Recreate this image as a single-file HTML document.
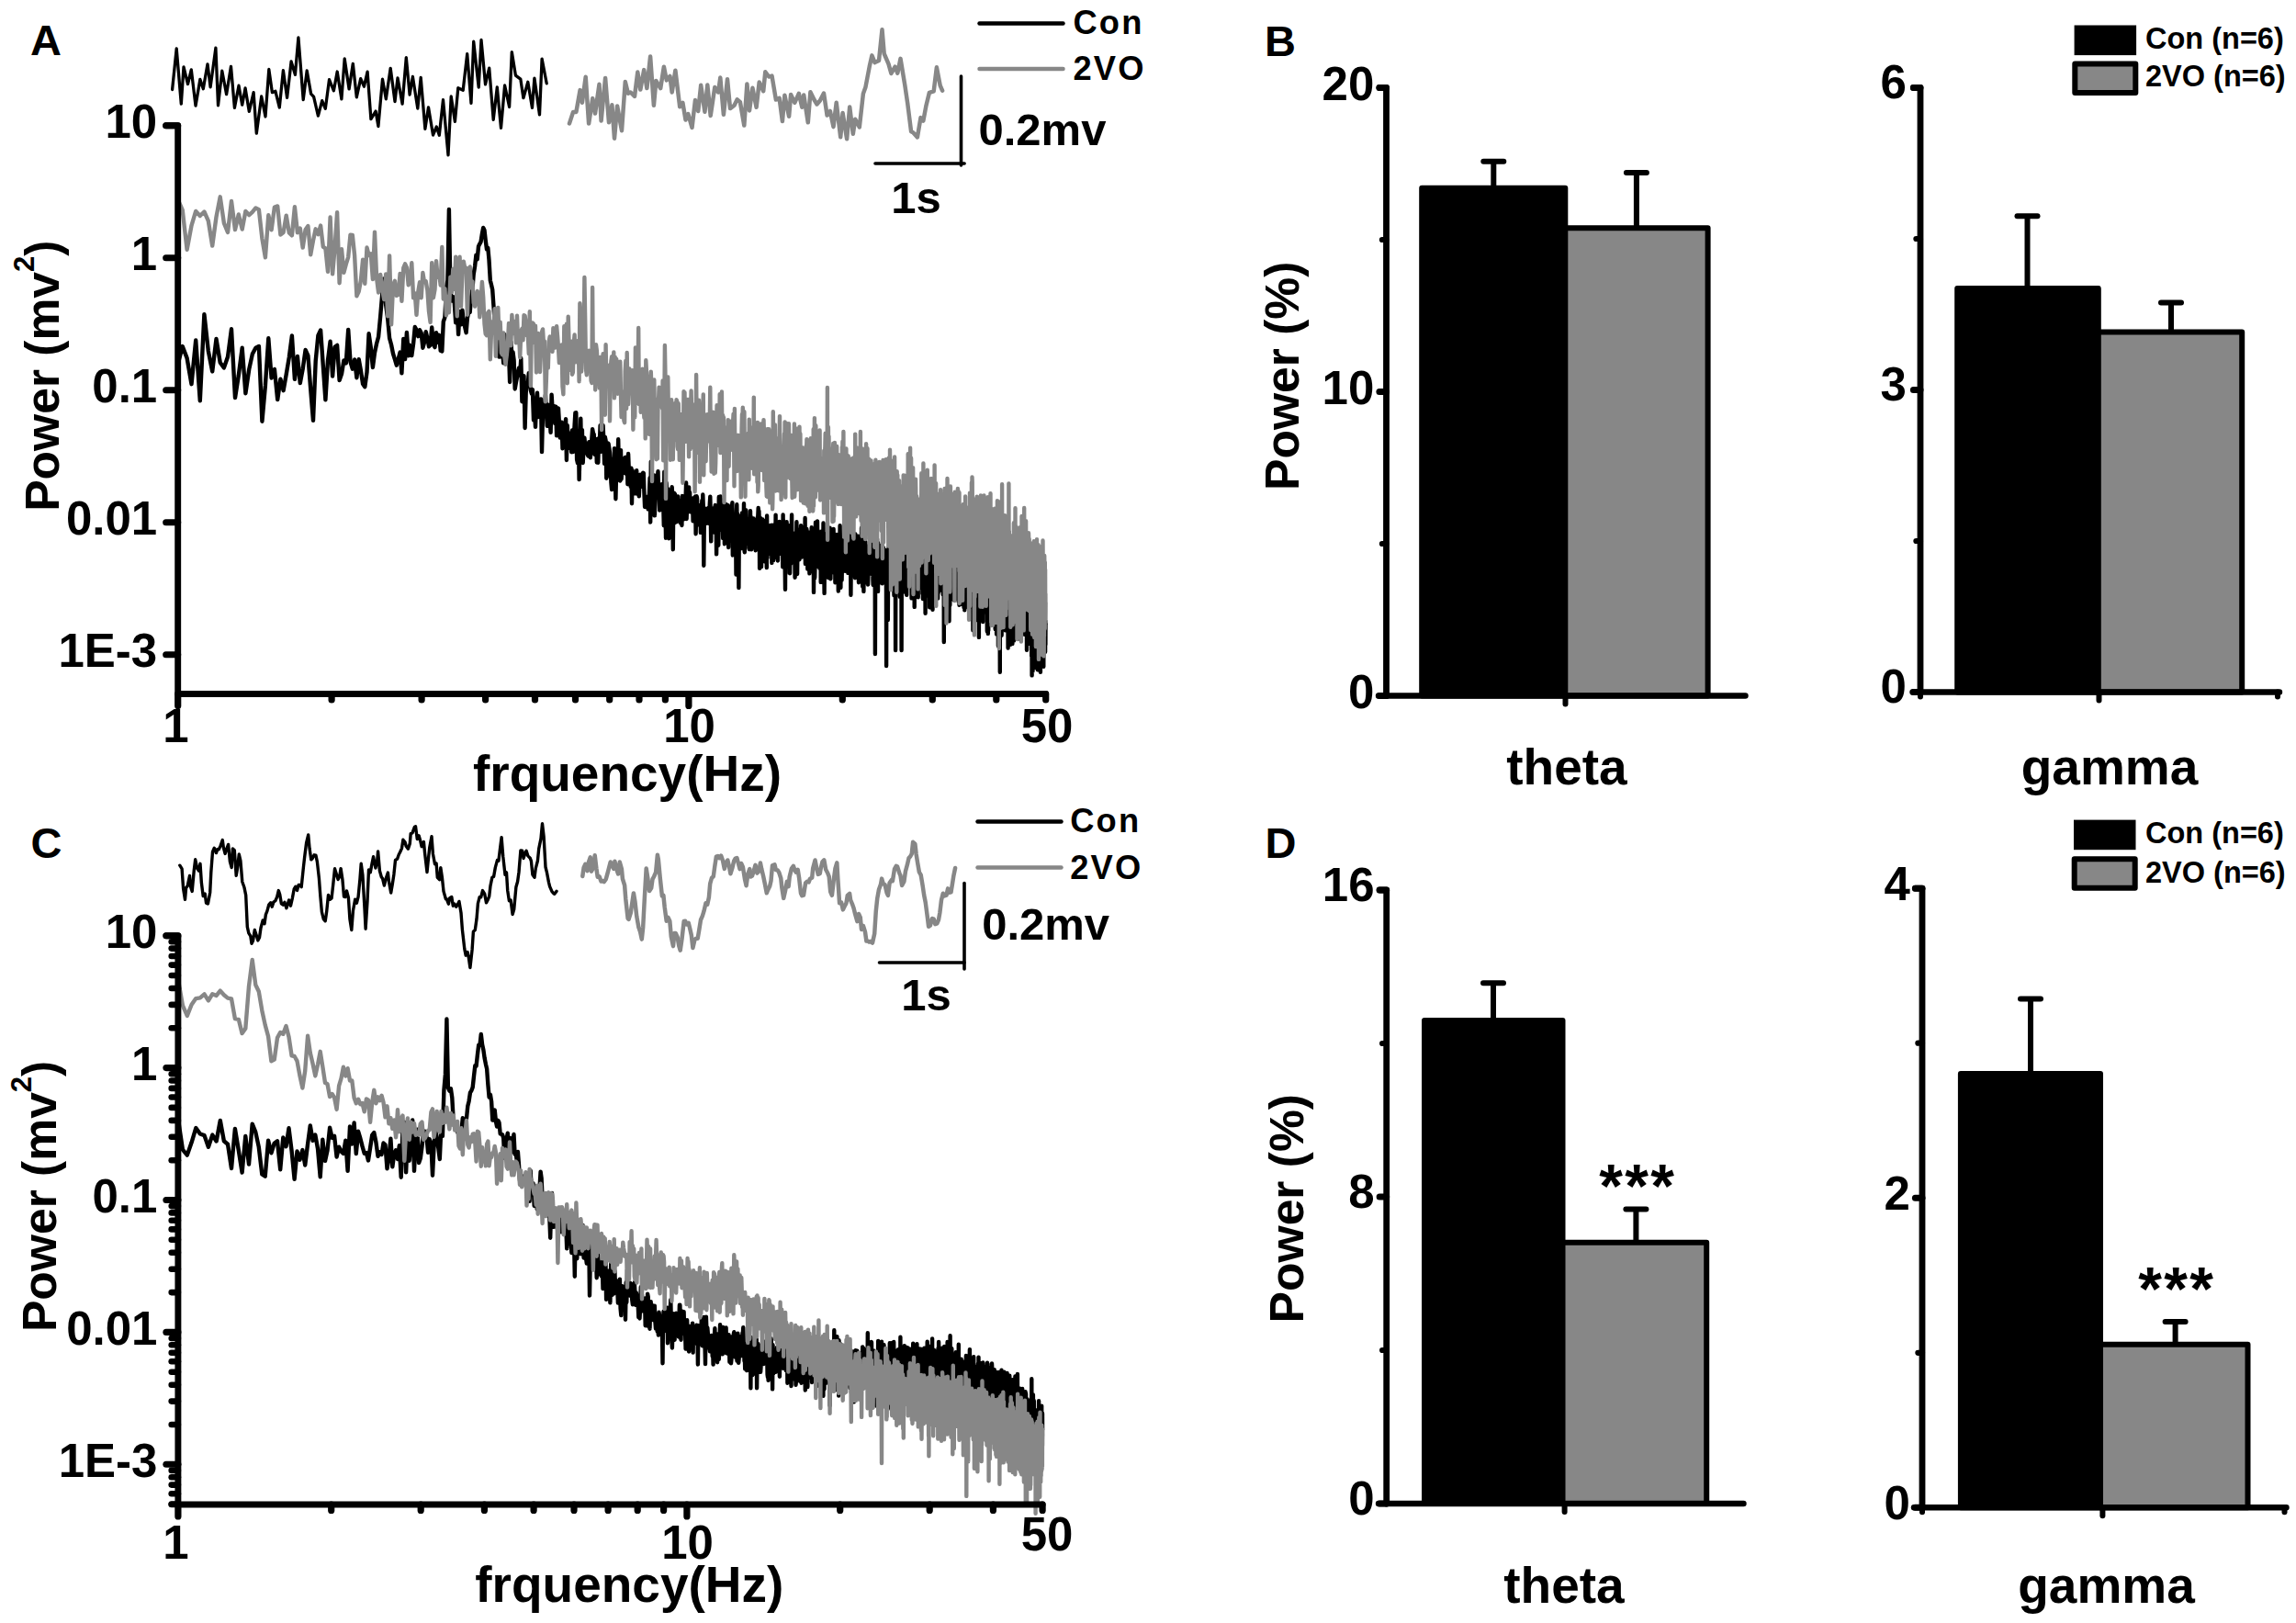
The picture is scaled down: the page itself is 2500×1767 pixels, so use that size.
<!DOCTYPE html>
<html lang="en"><head><meta charset="utf-8"><title>Figure</title>
<style>html,body{margin:0;padding:0;background:#fff}svg{display:block}</style></head>
<body>
<svg width="2500" height="1767" viewBox="0 0 2500 1767" font-family='"Liberation Sans", Arial, Helvetica, sans-serif' font-weight="bold" fill="#000">
<rect width="2500" height="1767" fill="#fff"/>
<text x="33.0" y="60.0" font-size="47" text-anchor="start" >A</text>
<path d="M193.7 396.5 L198.7 377.1 L203.6 389.9 L208.5 418.2 L213.2 370.4 L217.8 436.3 L222.4 342.2 L226.8 382.1 L231.2 404.4 L235.5 369.0 L239.7 394.7 L243.9 400.4 L248.0 388.5 L252.0 358.3 L256.0 433.1 L259.8 408.7 L263.7 378.8 L267.4 428.3 L271.2 402.1 L274.8 385.6 L278.4 378.7 L281.9 377.0 L285.4 458.7 L288.9 419.7 L292.3 368.3 L295.6 411.6 L298.9 401.9 L302.2 435.1 L305.4 412.7 L308.6 425.2 L311.7 407.6 L314.8 389.1 L317.9 365.5 L320.9 412.9 L323.9 388.0 L326.8 417.0 L329.7 401.6 L332.6 381.0 L335.4 387.1 L338.2 423.5 L341.0 457.8 L343.7 393.0 L346.4 365.1 L349.1 359.5 L351.8 397.9 L354.4 435.3 L357.0 392.2 L359.6 371.8 L362.1 409.5 L364.6 377.8 L367.1 375.9 L369.6 414.1 L372.0 407.1 L374.4 392.4 L376.8 395.4 L379.2 359.0 L381.5 393.9 L383.8 401.7 L386.1 391.5 L388.4 411.2 L390.7 391.2 L392.9 403.5 L395.1 418.1 L397.3 421.3 L399.5 405.3 L401.6 363.3 L403.8 378.2 L405.9 400.0 L408.0 384.0 L410.1 374.0 L412.1 366.6 L414.2 344.1 L416.2 320.4 L418.2 303.4 L420.2 332.3 L422.2 347.2 L424.1 368.1 L426.1 375.5 L428.0 385.0 L429.9 391.2 L431.8 397.7 L433.7 390.8 L435.6 383.6 L437.4 406.3 L439.3 368.9 L441.1 391.0 L442.9 361.9 L444.7 387.3 L446.5 375.8 L448.3 387.1 L450.1 374.2 L451.8 356.0 L453.5 359.0 L455.3 366.2 L457.0 359.2 L458.7 362.5 L460.4 378.7 L462.0 373.0 L463.7 361.2 L465.4 368.2 L467.0 377.3 L468.6 375.7 L470.2 356.5 L471.9 374.9 L473.5 378.1 L475.0 362.3 L476.6 372.7 L478.2 364.8 L479.7 381.8 L481.3 382.4 L482.8 350.2 L484.4 345.5 L485.9 313.9 L487.4 305.5 L488.9 228.0 L490.4 313.8 L491.9 327.5 L493.3 323.2 L494.8 329.5 L496.2 351.4 L497.7 333.3 L499.1 364.1 L500.6 339.1 L502.0 353.3 L503.4 337.6 L504.8 350.4 L506.2 355.9 L507.6 362.2 L508.9 346.4 L510.3 339.5 L511.7 339.9 L513.0 324.0 L514.4 315.3 L515.7 298.6 L517.1 290.0 L518.4 277.7 L519.7 282.3 L521.0 268.2 L522.3 265.6 L523.6 263.2 L524.9 254.6 L526.2 247.9 L527.5 250.7 L528.7 261.5 L530.0 271.4 L531.3 269.9 L532.5 283.0 L533.8 305.2 L535.0 310.0 L536.2 315.2 L537.5 333.6 L538.7 351.0 L539.9 364.2 L541.1 366.3 L542.3 371.7 L543.5 388.6 L544.7 388.4 L545.9 379.6 L547.0 378.7 L548.2 395.3 L549.4 364.3 L550.5 387.4 L551.7 385.6 L552.8 389.1 L554.0 381.5 L555.1 416.0 L556.3 372.0 L557.4 386.6 L558.5 383.4 L559.6 392.0 L560.7 423.5 L561.9 416.3 L563.0 410.8 L564.1 404.6 L565.1 400.4 L566.2 408.6 L567.3 390.0 L568.4 437.2 L569.5 416.3 L570.5 409.2 L571.6 466.0 L572.7 427.3 L573.7 417.0 L574.8 418.3 L575.8 406.3 L576.8 414.5 L577.9 425.1 L578.9 428.8 L579.9 424.2 L581.0 457.5 L582.0 447.1 L583.0 464.8 L584.0 437.5 L585.0 427.8 L586.0 454.1 L587.0 443.5 L588.0 448.2 L589.0 434.4 L590.0 492.1 L591.0 451.3 L591.9 447.5 L592.9 452.0 L593.9 430.0 L594.9 447.7 L595.8 463.8 L596.8 440.8 L597.7 449.7 L598.7 457.3 L599.6 470.9 L600.6 429.6 L601.5 444.1 L602.4 453.3 L603.4 442.1 L604.3 461.1 L605.2 442.6 L606.1 474.4 L607.1 444.2 L608.0 444.7 L608.9 459.9 L609.8 476.6 L610.7 470.0 L611.6 459.8 L612.5 488.4 L613.4 485.7 L614.3 481.0 L615.2 465.2 L616.1 456.2 L616.9 501.0 L617.8 463.3 L618.7 487.8 L619.6 471.5 L620.4 472.5 L621.3 473.7 L622.2 492.2 L623.0 468.5 L623.9 492.0 L624.7 478.4 L625.6 463.0 L626.4 449.4 L627.3 449.3 L628.1 500.2 L629.0 504.3 L629.8 469.8 L630.6 522.1 L631.4 493.2 L632.3 455.7 L633.1 498.7 L633.9 468.1 L634.7 504.0 L635.6 485.2 L636.4 476.8 L637.2 485.4 L638.0 487.4 L638.8 491.4 L639.6 494.6 L640.4 496.5 L641.2 481.3 L642.0 481.2 L642.8 498.2 L643.6 489.0 L644.4 476.8 L645.1 467.2 L645.9 471.5 L646.7 472.9 L647.5 494.9 L648.2 479.1 L649.0 478.2 L649.8 503.5 L650.6 490.5 L651.3 503.8 L652.1 476.9 L652.8 485.3 L653.6 463.1 L654.3 491.9 L655.1 473.4 L655.9 471.9 L656.6 463.1 L657.3 478.6 L658.1 504.9 L658.8 475.6 L659.6 479.7 L660.3 520.7 L661.0 518.3 L661.8 482.5 L662.5 482.9 L663.2 487.0 L664.0 493.0 L664.7 504.6 L665.4 525.2 L666.1 533.1 L666.8 499.6 L667.5 507.2 L668.3 527.1 L669.0 488.1 L669.7 509.4 L670.4 543.2 L671.1 513.4 L671.8 522.6 L672.5 505.4 L673.2 478.2 L673.9 507.9 L674.6 514.5 L675.3 523.5 L676.0 490.1 L676.6 521.5 L677.3 511.7 L678.0 515.1 L678.7 510.4 L679.4 507.8 L680.1 498.9 L680.7 498.0 L681.4 515.7 L682.1 504.3 L682.7 497.5 L683.4 527.2 L684.1 494.0 L684.8 511.3 L685.4 516.5 L686.1 516.1 L686.7 529.9 L687.4 509.8 L688.0 548.2 L688.7 512.1 L689.4 525.3 L690.0 515.4 L690.7 533.3 L691.3 537.3 L691.9 523.8 L692.6 521.1 L693.2 512.2 L693.9 537.8 L694.5 523.6 L695.2 529.6 L695.8 540.3 L696.4 526.8 L697.1 516.6 L697.7 527.8 L698.3 525.3 L698.9 528.2 L699.6 529.7 L700.2 514.8 L700.8 515.2 L701.4 535.4 L702.1 552.0 L702.7 545.7 L703.3 543.8 L703.9 548.9 L704.5 540.9 L705.1 548.6 L705.7 554.4 L706.3 548.9 L706.9 538.8 L707.6 520.3 L708.2 568.6 L708.8 502.6 L709.4 513.7 L710.0 527.2 L710.6 555.5 L711.2 552.0 L711.7 560.3 L712.3 517.4 L712.9 561.4 L713.5 528.3 L714.1 540.6 L714.7 532.1 L715.3 520.0 L715.9 520.0 L716.5 513.2 L717.0 534.6 L717.6 542.8 L718.2 555.6 L718.8 545.8 L719.4 546.6 L719.9 554.7 L720.5 527.3 L721.1 528.6 L721.6 546.9 L722.2 548.0 L722.8 572.2 L723.3 513.6 L723.9 543.1 L724.5 551.7 L725.0 585.8 L725.6 525.6 L726.2 535.4 L726.7 540.9 L727.3 532.5 L727.8 540.9 L728.4 586.3 L728.9 556.9 L729.5 548.5 L730.0 570.5 L730.6 540.8 L731.1 535.6 L731.7 530.2 L732.2 547.6 L732.8 598.3 L733.3 544.2 L733.9 536.6 L734.4 569.4 L735.0 537.9 L735.5 563.8 L736.0 559.5 L736.6 568.2 L737.1 543.9 L737.6 554.0 L738.2 540.5 L738.7 553.2 L739.2 564.6 L739.8 550.9 L740.3 562.9 L740.8 569.3 L741.3 569.6 L741.9 544.7 L742.4 572.0 L742.9 540.0 L743.4 558.5 L744.0 552.2 L744.5 565.4 L745.0 547.4 L745.5 558.8 L746.0 552.2 L746.5 544.9 L747.1 525.5 L747.6 565.0 L748.1 549.9 L748.6 549.6 L749.1 546.3 L749.6 538.8 L750.1 530.4 L750.6 556.0 L751.1 536.1 L751.6 557.4 L752.1 542.9 L752.6 547.3 L753.1 548.5 L753.6 553.4 L754.1 546.4 L754.6 567.4 L755.1 542.3 L755.6 557.3 L756.1 556.6 L756.6 542.1 L757.1 540.5 L757.6 581.2 L758.1 560.0 L758.6 540.3 L759.1 542.3 L759.6 566.1 L760.0 569.3 L760.5 551.1 L761.0 565.0 L761.5 571.5 L762.0 559.9 L762.5 549.9 L762.9 579.9 L763.4 575.1 L763.9 553.2 L764.4 545.0 L764.9 574.7 L765.3 538.5 L765.8 552.2 L766.3 615.8 L766.8 568.0 L767.2 554.5 L767.7 563.2 L768.2 555.8 L768.6 561.0 L769.1 553.7 L769.6 569.8 L770.1 554.6 L770.5 560.2 L771.0 560.4 L771.4 569.7 L771.9 552.7 L772.4 556.7 L772.8 548.6 L773.3 540.6 L773.8 562.5 L774.2 589.4 L774.7 558.2 L775.1 570.1 L775.6 557.5 L776.0 565.7 L776.5 553.5 L777.0 570.2 L777.4 579.6 L777.9 563.3 L778.3 554.4 L778.8 549.9 L779.2 575.1 L779.7 566.0 L780.1 603.4 L780.6 574.5 L781.0 592.3 L781.4 560.2 L781.9 574.4 L782.3 593.8 L782.8 540.9 L783.2 555.7 L783.7 577.1 L784.1 546.4 L784.5 540.5 L785.0 574.4 L785.4 556.0 L785.9 552.6 L786.3 559.2 L786.7 565.9 L787.2 586.1 L787.6 544.6 L788.0 565.7 L788.5 550.8 L788.9 592.3 L789.3 571.7 L789.8 568.9 L790.2 562.0 L790.6 549.0 L791.0 567.6 L791.5 585.6 L791.9 567.0 L792.3 582.2 L792.8 550.1 L793.2 596.0 L793.6 570.2 L794.0 559.0 L794.4 554.1 L794.9 574.2 L795.3 558.8 L795.7 568.2 L796.1 573.7 L796.5 570.1 L797.0 551.7 L797.4 547.1 L797.8 604.5 L798.2 570.8 L798.6 585.1 L799.0 583.4 L799.5 579.6 L799.9 574.9 L800.3 567.2 L800.7 570.4 L801.1 571.0 L801.5 625.6 L801.9 557.3 L802.3 549.3 L802.7 578.0 L803.1 559.5 L803.6 575.3 L804.0 574.4 L804.4 639.9 L804.8 577.8 L805.2 561.7 L805.6 583.4 L806.0 569.9 L806.4 578.4 L806.8 591.9 L807.2 591.3 L807.6 597.1 L808.0 558.5 L808.4 579.0 L808.8 566.2 L809.2 570.6 L809.6 573.9 L810.0 548.3 L810.4 598.3 L810.8 601.2 L811.1 578.4 L811.5 572.5 L811.9 557.0 L812.3 555.4 L812.7 591.6 L813.1 591.6 L813.5 575.5 L813.9 578.4 L814.3 590.3 L814.7 579.4 L815.1 565.0 L815.4 596.4 L815.8 598.1 L816.2 569.2 L816.6 571.5 L817.0 556.2 L817.4 581.4 L817.7 562.7 L818.1 598.2 L818.5 593.7 L818.9 573.2 L819.3 578.5 L819.7 575.8 L820.0 571.3 L820.4 564.4 L820.8 572.5 L821.2 581.9 L821.5 584.3 L821.9 580.9 L822.3 592.2 L822.7 599.3 L823.1 573.1 L823.4 569.2 L823.8 571.5 L824.2 588.6 L824.5 568.3 L824.9 563.2 L825.3 561.9 L825.7 552.9 L826.0 596.7 L826.4 556.2 L826.8 568.8 L827.1 618.8 L827.5 579.3 L827.9 598.1 L828.2 564.2 L828.6 590.3 L829.0 617.3 L829.3 582.5 L829.7 597.6 L830.1 605.7 L830.4 565.4 L830.8 602.2 L831.2 596.0 L831.5 591.7 L831.9 582.5 L832.2 594.6 L832.6 567.3 L833.0 611.6 L833.3 597.5 L833.7 602.3 L834.0 583.1 L834.4 571.3 L834.8 618.1 L835.1 561.4 L835.5 607.5 L835.8 580.0 L836.2 594.1 L836.5 579.8 L836.9 583.8 L837.2 573.6 L837.6 574.9 L837.9 602.9 L838.3 599.4 L838.7 595.7 L839.0 572.0 L839.4 582.3 L839.7 597.5 L840.1 591.0 L840.4 612.9 L840.7 571.6 L841.1 572.5 L841.4 596.1 L841.8 606.9 L842.1 610.3 L842.5 580.6 L842.8 574.3 L843.2 607.3 L843.5 573.7 L843.9 570.7 L844.2 606.8 L844.6 560.6 L844.9 606.2 L845.2 597.9 L845.6 606.8 L845.9 594.6 L846.3 594.4 L846.6 596.9 L846.9 610.5 L847.3 575.5 L847.6 583.8 L848.0 569.3 L848.3 595.5 L848.6 568.0 L849.0 590.6 L849.3 582.6 L849.6 579.6 L850.0 583.6 L850.3 603.0 L850.6 596.7 L851.0 599.6 L851.3 576.5 L851.6 574.8 L852.0 601.2 L852.3 617.4 L852.6 560.4 L853.0 604.0 L853.3 567.3 L853.6 578.4 L854.0 575.0 L854.3 590.7 L854.6 607.6 L855.0 641.7 L855.3 586.2 L855.6 624.5 L855.9 579.6 L856.3 589.1 L856.6 568.3 L856.9 610.1 L857.2 571.1 L857.6 576.0 L857.9 571.8 L858.2 589.9 L858.5 616.7 L858.9 582.0 L859.2 590.8 L859.5 600.5 L859.8 598.3 L860.1 624.3 L860.5 592.9 L860.8 587.8 L861.1 614.0 L861.4 612.2 L861.7 584.1 L862.1 560.5 L862.4 610.3 L862.7 609.2 L863.0 592.1 L863.3 607.9 L863.7 604.3 L864.0 584.9 L864.3 606.1 L864.6 602.9 L864.9 588.0 L865.2 586.0 L865.6 628.7 L865.9 599.8 L866.2 580.2 L866.5 591.1 L866.8 614.9 L867.1 601.4 L867.4 568.3 L867.7 594.7 L868.1 625.0 L868.4 597.3 L868.7 593.9 L869.0 576.9 L869.3 593.6 L869.6 591.4 L869.9 581.9 L870.2 578.9 L870.5 609.2 L870.8 577.1 L871.1 602.0 L871.4 576.2 L871.8 597.3 L872.1 572.3 L872.4 587.4 L872.7 603.4 L873.0 589.4 L873.3 606.5 L873.6 573.9 L873.9 590.6 L874.2 578.6 L874.5 606.0 L874.8 600.8 L875.1 579.8 L875.4 593.7 L875.7 600.6 L876.0 606.5 L876.3 597.7 L876.6 564.0 L876.9 613.9 L877.2 581.4 L877.5 604.2 L877.8 596.8 L878.1 614.3 L878.4 576.0 L878.7 595.9 L879.0 586.2 L879.3 619.6 L879.6 612.5 L879.9 613.5 L880.2 597.9 L880.5 581.5 L880.8 595.2 L881.1 604.5 L881.4 624.4 L881.7 579.5 L882.0 622.6 L882.2 579.7 L882.5 615.1 L882.8 587.4 L883.1 597.3 L883.4 597.8 L883.7 574.2 L884.0 586.1 L884.3 594.1 L884.6 595.2 L884.9 610.9 L885.2 586.9 L885.5 609.0 L885.7 587.1 L886.0 644.9 L886.3 599.4 L886.6 595.8 L886.9 611.0 L887.2 629.4 L887.5 613.3 L887.8 606.9 L888.0 568.8 L888.3 589.0 L888.6 602.6 L888.9 617.0 L889.2 585.3 L889.5 613.5 L889.8 568.8 L890.0 567.5 L890.3 601.6 L890.6 612.7 L890.9 578.1 L891.2 609.3 L891.5 598.3 L891.7 581.4 L892.0 590.1 L892.3 618.5 L892.6 599.4 L892.9 616.6 L893.1 597.0 L893.4 584.6 L893.7 633.9 L894.0 581.2 L894.3 609.0 L894.5 623.5 L894.8 578.4 L895.1 625.9 L895.4 606.5 L895.7 592.2 L895.9 620.2 L896.2 598.6 L896.5 569.5 L896.8 615.0 L897.0 619.8 L897.3 618.5 L897.6 645.9 L897.9 608.2 L898.1 599.0 L898.4 594.8 L898.7 612.8 L899.0 609.6 L899.2 622.6 L899.5 590.4 L899.8 599.2 L900.0 600.6 L900.3 605.4 L900.6 580.6 L900.9 582.0 L901.1 597.0 L901.4 624.2 L901.7 596.0 L901.9 629.0 L902.2 599.2 L902.5 614.8 L902.8 622.9 L903.0 586.5 L903.3 612.2 L903.6 574.7 L903.8 579.0 L904.1 604.9 L904.4 630.3 L904.6 608.5 L904.9 603.3 L905.2 611.3 L905.4 587.4 L905.7 622.4 L906.0 611.4 L906.2 592.4 L906.5 579.0 L906.8 603.2 L907.0 589.3 L907.3 599.3 L907.6 575.9 L907.8 588.5 L908.1 616.4 L908.4 603.8 L908.6 624.0 L908.9 582.4 L909.1 590.9 L909.4 634.2 L909.7 594.5 L909.9 628.0 L910.2 587.0 L910.4 594.1 L910.7 597.8 L911.0 582.0 L911.2 599.2 L911.5 594.8 L911.7 600.7 L912.0 621.8 L912.3 618.9 L912.5 604.0 L912.8 643.5 L913.0 610.8 L913.3 634.9 L913.6 605.7 L913.8 605.2 L914.1 612.1 L914.3 598.2 L914.6 572.2 L914.8 585.8 L915.1 609.5 L915.4 639.7 L915.6 608.5 L915.9 587.4 L916.1 616.9 L916.4 600.9 L916.6 631.8 L916.9 615.8 L917.1 611.2 L917.4 608.3 L917.6 607.3 L917.9 613.6 L918.2 590.5 L918.4 610.7 L918.7 607.8 L918.9 612.8 L919.2 598.3 L919.4 617.1 L919.7 597.8 L919.9 577.2 L920.2 621.8 L920.4 596.3 L920.7 616.0 L920.9 612.3 L921.2 592.2 L921.4 615.7 L921.7 600.4 L921.9 590.2 L922.2 594.7 L922.4 596.1 L922.7 614.5 L922.9 613.4 L923.2 610.7 L923.4 623.9 L923.7 591.6 L923.9 616.3 L924.1 593.0 L924.4 617.9 L924.6 609.7 L924.9 570.6 L925.1 617.9 L925.4 585.4 L925.6 610.3 L925.9 591.7 L926.1 605.4 L926.4 647.8 L926.6 624.7 L926.8 600.5 L927.1 617.9 L927.3 612.3 L927.6 589.1 L927.8 622.5 L928.1 588.9 L928.3 625.6 L928.5 607.8 L928.8 590.7 L929.0 613.6 L929.3 600.6 L929.5 606.4 L929.8 619.2 L930.0 588.3 L930.2 588.8 L930.5 607.0 L930.7 610.4 L931.0 629.2 L931.2 605.2 L931.4 581.4 L931.7 610.9 L931.9 621.6 L932.1 619.3 L932.4 607.6 L932.6 618.5 L932.9 604.6 L933.1 602.0 L933.3 626.8 L933.6 601.7 L933.8 606.3 L934.0 624.9 L934.3 583.7 L934.5 603.4 L934.8 625.7 L935.0 634.3 L935.2 610.6 L935.5 604.0 L935.7 626.3 L935.9 611.2 L936.2 587.5 L936.4 616.6 L936.6 598.2 L936.9 586.9 L937.1 598.2 L937.3 613.4 L937.6 599.3 L937.8 616.4 L938.0 574.8 L938.3 597.0 L938.5 613.7 L938.7 603.8 L939.0 589.2 L939.2 638.5 L939.4 589.6 L939.7 585.9 L939.9 608.5 L940.1 598.2 L940.4 643.9 L940.6 598.8 L940.8 608.0 L941.0 602.5 L941.3 605.0 L941.5 591.1 L941.7 602.6 L942.0 620.5 L942.2 596.1 L942.4 589.9 L942.7 625.1 L942.9 621.0 L943.1 615.9 L943.3 606.0 L943.6 634.5 L943.8 618.7 L944.0 616.5 L944.2 615.1 L944.5 607.2 L944.7 595.0 L944.9 603.2 L945.1 636.5 L945.4 626.9 L945.6 600.9 L945.8 602.6 L946.1 617.5 L946.3 601.6 L946.5 625.1 L946.7 604.5 L947.0 620.4 L947.2 598.3 L947.4 596.4 L947.6 596.4 L947.8 609.0 L948.1 621.6 L948.3 598.5 L948.5 608.4 L948.7 614.4 L949.0 613.0 L949.2 589.5 L949.4 595.5 L949.6 592.7 L949.9 625.4 L950.1 621.5 L950.3 591.4 L950.5 632.0 L950.7 637.0 L951.0 614.1 L951.2 633.7 L951.4 604.7 L951.6 610.4 L951.8 613.0 L952.1 589.2 L952.3 606.8 L952.5 603.1 L952.7 616.9 L952.9 712.0 L953.2 597.5 L953.4 598.2 L953.6 603.8 L953.8 640.4 L954.0 598.6 L954.2 643.2 L954.5 613.0 L954.7 617.7 L954.9 594.7 L955.1 586.7 L955.3 624.8 L955.5 631.2 L955.8 609.4 L956.0 643.9 L956.2 591.2 L956.4 603.7 L956.6 597.9 L956.8 606.0 L957.1 627.6 L957.3 603.2 L957.5 605.9 L957.7 630.5 L957.9 618.5 L958.1 627.4 L958.3 593.9 L958.6 603.2 L958.8 606.0 L959.0 634.4 L959.2 618.9 L959.4 622.4 L959.6 605.4 L959.8 595.0 L960.1 617.0 L960.3 606.6 L960.5 614.5 L960.7 635.2 L960.9 632.7 L961.1 608.4 L961.3 633.1 L961.5 610.4 L961.7 596.1 L962.0 596.4 L962.2 609.3 L962.4 614.8 L962.6 626.6 L962.8 608.9 L963.0 629.6 L963.2 612.9 L963.4 609.4 L963.6 618.0 L963.8 625.5 L964.1 631.4 L964.3 599.2 L964.5 614.7 L964.7 603.7 L964.9 623.3 L965.1 725.0 L965.3 610.6 L965.5 607.7 L965.7 639.0 L965.9 634.2 L966.1 635.5 L966.3 613.0 L966.6 606.5 L966.8 675.1 L967.0 639.3 L967.2 620.3 L967.4 608.4 L967.6 595.7 L967.8 623.2 L968.0 608.2 L968.2 585.9 L968.4 637.0 L968.6 626.6 L968.8 604.6 L969.0 606.9 L969.2 610.2 L969.4 593.1 L969.6 637.6 L969.8 611.0 L970.0 610.5 L970.2 590.0 L970.5 638.5 L970.7 616.7 L970.9 612.8 L971.1 595.6 L971.3 589.2 L971.5 593.1 L971.7 618.3 L971.9 609.9 L972.1 629.0 L972.3 623.5 L972.5 625.2 L972.7 601.2 L972.9 591.0 L973.1 625.8 L973.3 629.0 L973.5 648.3 L973.7 627.4 L973.9 608.4 L974.1 590.9 L974.3 585.0 L974.5 601.3 L974.7 604.3 L974.9 627.1 L975.1 708.0 L975.3 614.1 L975.5 606.0 L975.7 605.6 L975.9 634.6 L976.1 602.7 L976.3 603.6 L976.5 609.5 L976.7 639.2 L976.9 631.4 L977.1 619.6 L977.3 612.6 L977.5 629.3 L977.7 630.3 L977.9 616.5 L978.1 600.5 L978.3 600.1 L978.5 626.6 L978.7 603.6 L978.9 598.5 L979.0 608.1 L979.2 600.1 L979.4 610.0 L979.6 623.4 L979.8 649.7 L980.0 594.0 L980.2 631.2 L980.4 624.7 L980.6 614.0 L980.8 599.6 L981.0 609.5 L981.2 597.9 L981.4 625.7 L981.6 708.0 L981.8 629.6 L982.0 598.1 L982.2 611.2 L982.4 587.0 L982.6 643.0 L982.8 623.4 L982.9 634.7 L983.1 608.6 L983.3 630.3 L983.5 644.7 L983.7 629.4 L983.9 626.3 L984.1 609.5 L984.3 615.3 L984.5 622.9 L984.7 599.0 L984.9 629.1 L985.1 621.4 L985.3 620.2 L985.4 624.3 L985.6 604.0 L985.8 617.2 L986.0 641.2 L986.2 613.9 L986.4 620.9 L986.6 606.1 L986.8 600.2 L987.0 644.3 L987.2 647.9 L987.4 607.0 L987.5 599.1 L987.7 628.4 L987.9 605.3 L988.1 607.4 L988.3 624.3 L988.5 619.2 L988.7 604.3 L988.9 604.7 L989.1 618.8 L989.2 631.1 L989.4 615.1 L989.6 603.8 L989.8 598.4 L990.0 638.1 L990.2 628.8 L990.4 633.6 L990.6 627.7 L990.7 611.3 L990.9 630.0 L991.1 606.5 L991.3 586.6 L991.5 619.7 L991.7 600.3 L991.9 613.5 L992.1 608.8 L992.2 625.3 L992.4 620.3 L992.6 651.4 L992.8 613.0 L993.0 598.6 L993.2 613.9 L993.4 618.5 L993.5 604.9 L993.7 623.3 L993.9 642.6 L994.1 605.0 L994.3 617.4 L994.5 604.0 L994.6 619.9 L994.8 628.7 L995.0 632.7 L995.2 640.4 L995.4 621.6 L995.6 620.9 L995.7 660.9 L995.9 628.3 L996.1 630.4 L996.3 603.0 L996.5 610.7 L996.7 612.2 L996.8 611.2 L997.0 619.4 L997.2 590.7 L997.4 612.4 L997.6 628.5 L997.8 608.4 L997.9 608.2 L998.1 614.9 L998.3 629.5 L998.5 600.2 L998.7 630.2 L998.8 599.4 L999.0 630.9 L999.2 613.7 L999.4 612.3 L999.6 600.4 L999.7 650.3 L999.9 587.7 L1000.1 600.7 L1000.3 620.2 L1000.5 596.0 L1000.6 616.7 L1000.8 599.8 L1001.0 630.6 L1001.2 624.6 L1001.4 639.7 L1001.5 617.9 L1001.7 638.3 L1001.9 615.9 L1002.1 615.4 L1002.3 625.2 L1002.4 600.6 L1002.6 598.9 L1002.8 609.9 L1003.0 601.8 L1003.1 605.8 L1003.3 637.8 L1003.5 622.2 L1003.7 599.1 L1003.9 594.3 L1004.0 603.6 L1004.2 611.9 L1004.4 646.4 L1004.6 623.5 L1004.7 601.2 L1004.9 652.1 L1005.1 622.1 L1005.3 634.2 L1005.4 624.0 L1005.6 611.8 L1005.8 635.5 L1006.0 599.8 L1006.2 623.0 L1006.3 643.3 L1006.5 602.3 L1006.7 600.0 L1006.9 601.1 L1007.0 642.0 L1007.2 625.7 L1007.4 627.2 L1007.6 667.8 L1007.7 614.3 L1007.9 625.3 L1008.1 640.6 L1008.2 611.3 L1008.4 604.4 L1008.6 625.8 L1008.8 644.0 L1008.9 611.4 L1009.1 607.9 L1009.3 640.9 L1009.5 634.5 L1009.6 646.7 L1009.8 609.4 L1010.0 648.6 L1010.2 616.0 L1010.3 611.1 L1010.5 633.6 L1010.7 618.6 L1010.8 604.5 L1011.0 633.8 L1011.2 612.8 L1011.4 611.3 L1011.5 608.0 L1011.7 611.9 L1011.9 600.9 L1012.0 618.0 L1012.2 661.3 L1012.4 632.3 L1012.6 618.5 L1012.7 616.3 L1012.9 634.9 L1013.1 627.4 L1013.2 618.4 L1013.4 622.2 L1013.6 634.0 L1013.8 650.2 L1013.9 622.8 L1014.1 630.5 L1014.3 624.9 L1014.4 629.4 L1014.6 605.3 L1014.8 613.8 L1014.9 659.3 L1015.1 618.2 L1015.3 619.9 L1015.5 663.8 L1015.6 617.8 L1015.8 616.2 L1016.0 612.0 L1016.1 623.9 L1016.3 639.3 L1016.5 613.3 L1016.6 605.0 L1016.8 601.6 L1017.0 636.9 L1017.1 601.8 L1017.3 617.1 L1017.5 632.1 L1017.6 629.9 L1017.8 630.8 L1018.0 622.2 L1018.1 622.7 L1018.3 629.9 L1018.5 654.0 L1018.6 596.3 L1018.8 639.7 L1019.0 608.1 L1019.1 599.9 L1019.3 642.9 L1019.5 648.5 L1019.6 608.8 L1019.8 628.0 L1020.0 646.8 L1020.1 623.8 L1020.3 581.8 L1020.5 621.6 L1020.6 621.4 L1020.8 623.1 L1021.0 618.8 L1021.1 651.6 L1021.3 638.0 L1021.5 616.9 L1021.6 645.8 L1021.8 622.8 L1022.0 636.3 L1022.1 642.0 L1022.3 621.6 L1022.4 617.8 L1022.6 618.1 L1022.8 635.1 L1022.9 620.4 L1023.1 636.1 L1023.3 611.7 L1023.4 605.9 L1023.6 633.4 L1023.8 634.2 L1023.9 642.6 L1024.1 626.0 L1024.2 634.0 L1024.4 629.0 L1024.6 604.1 L1024.7 607.0 L1024.9 636.1 L1025.1 625.6 L1025.2 638.0 L1025.4 626.7 L1025.5 625.0 L1025.7 638.5 L1025.9 602.5 L1026.0 629.7 L1026.2 620.0 L1026.4 611.8 L1026.5 620.7 L1026.7 607.9 L1026.8 647.4 L1027.0 610.3 L1027.2 616.5 L1027.3 622.4 L1027.5 613.4 L1027.6 604.5 L1027.8 699.0 L1028.0 625.9 L1028.1 645.9 L1028.3 626.4 L1028.4 635.9 L1028.6 590.4 L1028.8 626.2 L1028.9 604.0 L1029.1 606.6 L1029.2 640.3 L1029.4 651.6 L1029.6 628.4 L1029.7 625.6 L1029.9 647.1 L1030.0 660.7 L1030.2 619.5 L1030.4 601.8 L1030.5 618.2 L1030.7 623.4 L1030.8 646.4 L1031.0 612.8 L1031.2 633.1 L1031.3 621.4 L1031.5 656.2 L1031.6 643.1 L1031.8 639.4 L1031.9 619.9 L1032.1 615.7 L1032.3 606.4 L1032.4 644.2 L1032.6 601.3 L1032.7 612.9 L1032.9 603.9 L1033.0 637.7 L1033.2 644.5 L1033.4 624.0 L1033.5 676.3 L1033.7 639.5 L1033.8 616.2 L1034.0 636.0 L1034.1 630.6 L1034.3 659.0 L1034.5 608.4 L1034.6 625.3 L1034.8 628.8 L1034.9 600.6 L1035.1 623.5 L1035.2 615.4 L1035.4 645.2 L1035.5 627.9 L1035.7 624.1 L1035.9 608.4 L1036.0 643.7 L1036.2 634.6 L1036.3 615.5 L1036.5 622.4 L1036.6 605.0 L1036.8 629.4 L1036.9 624.4 L1037.1 625.4 L1037.2 633.0 L1037.4 595.9 L1037.6 638.8 L1037.7 608.8 L1037.9 620.3 L1038.0 615.0 L1038.2 629.5 L1038.3 642.4 L1038.5 634.0 L1038.6 653.2 L1038.8 636.3 L1038.9 635.1 L1039.1 605.1 L1039.2 611.8 L1039.4 635.4 L1039.6 621.1 L1039.7 614.4 L1039.9 636.8 L1040.0 623.5 L1040.2 635.6 L1040.3 624.6 L1040.5 649.8 L1040.6 616.4 L1040.8 651.8 L1040.9 612.3 L1041.1 649.9 L1041.2 626.1 L1041.4 627.0 L1041.5 610.2 L1041.7 644.7 L1041.8 609.2 L1042.0 624.7 L1042.1 639.8 L1042.3 632.3 L1042.4 640.5 L1042.6 613.4 L1042.7 612.3 L1042.9 617.1 L1043.0 615.5 L1043.2 607.8 L1043.3 648.6 L1043.5 628.6 L1043.6 654.8 L1043.8 614.2 L1043.9 620.8 L1044.1 613.1 L1044.2 608.3 L1044.4 632.1 L1044.5 658.8 L1044.7 645.1 L1044.8 632.1 L1045.0 630.5 L1045.1 636.8 L1045.3 618.6 L1045.4 601.7 L1045.6 631.6 L1045.7 657.6 L1045.9 633.4 L1046.0 658.1 L1046.2 620.8 L1046.3 630.7 L1046.5 603.4 L1046.6 634.0 L1046.8 649.7 L1046.9 609.9 L1047.1 619.9 L1047.2 647.8 L1047.4 619.6 L1047.5 606.6 L1047.7 628.4 L1047.8 622.5 L1048.0 605.3 L1048.1 598.9 L1048.3 606.7 L1048.4 621.1 L1048.6 643.5 L1048.7 652.9 L1048.9 624.7 L1049.0 647.1 L1049.1 624.5 L1049.3 630.4 L1049.4 623.2 L1049.6 661.4 L1049.7 660.0 L1049.9 651.9 L1050.0 651.4 L1050.2 606.5 L1050.3 664.2 L1050.5 616.6 L1050.6 632.9 L1050.8 621.5 L1050.9 662.0 L1051.1 636.1 L1051.2 607.9 L1051.3 632.3 L1051.5 645.1 L1051.6 614.6 L1051.8 616.9 L1051.9 620.5 L1052.1 625.8 L1052.2 645.9 L1052.4 657.0 L1052.5 616.3 L1052.6 610.2 L1052.8 660.6 L1052.9 647.6 L1053.1 654.6 L1053.2 645.8 L1053.4 610.7 L1053.5 628.0 L1053.7 605.8 L1053.8 641.5 L1053.9 637.3 L1054.1 650.8 L1054.2 612.6 L1054.4 621.6 L1054.5 613.6 L1054.7 620.5 L1054.8 647.4 L1055.0 608.6 L1055.1 647.0 L1055.2 616.7 L1055.4 614.6 L1055.5 660.8 L1055.7 640.9 L1055.8 613.2 L1056.0 639.3 L1056.1 638.5 L1056.2 637.3 L1056.4 582.1 L1056.5 626.3 L1056.7 646.6 L1056.8 656.1 L1057.0 628.5 L1057.1 649.2 L1057.2 609.3 L1057.4 643.1 L1057.5 622.2 L1057.7 652.7 L1057.8 604.5 L1057.9 656.2 L1058.1 630.7 L1058.2 621.3 L1058.4 611.5 L1058.5 615.0 L1058.7 603.5 L1058.8 657.3 L1058.9 624.5 L1059.1 635.8 L1059.2 610.1 L1059.4 686.2 L1059.5 633.6 L1059.6 603.5 L1059.8 636.1 L1059.9 642.6 L1060.1 662.1 L1060.2 629.5 L1060.3 641.2 L1060.5 643.4 L1060.6 665.5 L1060.8 637.5 L1060.9 631.4 L1061.0 639.3 L1061.2 642.1 L1061.3 658.6 L1061.5 655.9 L1061.6 613.9 L1061.7 627.5 L1061.9 630.1 L1062.0 609.0 L1062.2 625.8 L1062.3 650.6 L1062.4 646.9 L1062.6 626.5 L1062.7 620.8 L1062.9 614.8 L1063.0 628.6 L1063.1 620.5 L1063.3 631.6 L1063.4 650.3 L1063.6 654.6 L1063.7 654.3 L1063.8 625.8 L1064.0 646.9 L1064.1 651.7 L1064.2 619.6 L1064.4 626.3 L1064.5 616.8 L1064.7 642.8 L1064.8 669.7 L1064.9 675.7 L1065.1 631.2 L1065.2 602.4 L1065.3 627.5 L1065.5 628.7 L1065.6 626.8 L1065.8 642.3 L1065.9 693.9 L1066.0 622.2 L1066.2 633.4 L1066.3 647.5 L1066.4 658.5 L1066.6 642.3 L1066.7 654.5 L1066.9 627.2 L1067.0 661.6 L1067.1 606.7 L1067.3 603.0 L1067.4 615.5 L1067.5 642.1 L1067.7 638.4 L1067.8 612.5 L1067.9 614.5 L1068.1 633.5 L1068.2 636.5 L1068.4 627.0 L1068.5 647.4 L1068.6 663.7 L1068.8 608.9 L1068.9 632.0 L1069.0 618.0 L1069.2 648.9 L1069.3 665.2 L1069.4 670.5 L1069.6 635.6 L1069.7 625.0 L1069.8 641.9 L1070.0 655.0 L1070.1 640.2 L1070.2 677.0 L1070.4 625.5 L1070.5 651.3 L1070.6 643.9 L1070.8 640.5 L1070.9 657.4 L1071.0 627.1 L1071.2 632.1 L1071.3 631.0 L1071.5 639.6 L1071.6 666.5 L1071.7 628.4 L1071.9 649.1 L1072.0 621.2 L1072.1 629.4 L1072.3 644.3 L1072.4 623.8 L1072.5 647.8 L1072.7 621.8 L1072.8 613.9 L1072.9 629.3 L1073.1 645.1 L1073.2 656.9 L1073.3 649.8 L1073.5 659.7 L1073.6 663.1 L1073.7 651.5 L1073.9 644.8 L1074.0 618.3 L1074.1 643.8 L1074.2 657.4 L1074.4 619.2 L1074.5 638.8 L1074.6 628.7 L1074.8 687.2 L1074.9 648.3 L1075.0 632.2 L1075.2 636.5 L1075.3 639.9 L1075.4 638.5 L1075.6 616.3 L1075.7 636.1 L1075.8 689.9 L1076.0 646.7 L1076.1 623.4 L1076.2 686.6 L1076.4 620.8 L1076.5 626.7 L1076.6 640.4 L1076.8 647.6 L1076.9 644.1 L1077.0 628.9 L1077.1 598.4 L1077.3 607.2 L1077.4 642.5 L1077.5 659.6 L1077.7 633.0 L1077.8 635.0 L1077.9 658.2 L1078.1 654.7 L1078.2 624.3 L1078.3 661.1 L1078.5 648.8 L1078.6 615.0 L1078.7 621.4 L1078.8 640.1 L1079.0 633.6 L1079.1 621.4 L1079.2 678.6 L1079.4 653.9 L1079.5 629.5 L1079.6 628.2 L1079.8 639.6 L1079.9 636.7 L1080.0 623.7 L1080.1 634.4 L1080.3 649.5 L1080.4 637.2 L1080.5 654.0 L1080.7 623.7 L1080.8 642.1 L1080.9 644.1 L1081.0 628.9 L1081.2 674.8 L1081.3 638.3 L1081.4 646.6 L1081.6 644.8 L1081.7 642.1 L1081.8 633.5 L1081.9 642.6 L1082.1 643.9 L1082.2 637.0 L1082.3 658.8 L1082.5 646.6 L1082.6 670.0 L1082.7 676.4 L1082.8 657.5 L1083.0 636.8 L1083.1 630.4 L1083.2 654.1 L1083.3 625.8 L1083.5 637.2 L1083.6 643.4 L1083.7 685.1 L1083.9 621.1 L1084.0 644.5 L1084.1 641.0 L1084.2 640.3 L1084.4 627.7 L1084.5 649.6 L1084.6 647.4 L1084.7 644.6 L1084.9 648.6 L1085.0 654.5 L1085.1 690.6 L1085.3 625.6 L1085.4 627.3 L1085.5 651.1 L1085.6 651.2 L1085.8 653.3 L1085.9 646.2 L1086.0 675.7 L1086.1 657.0 L1086.3 689.0 L1086.4 616.5 L1086.5 663.7 L1086.6 654.6 L1086.8 637.6 L1086.9 703.3 L1087.0 646.7 L1087.1 658.5 L1087.3 675.7 L1087.4 656.8 L1087.5 641.7 L1087.6 648.9 L1087.8 638.8 L1087.9 635.1 L1088.0 647.6 L1088.1 645.5 L1088.3 666.2 L1088.4 661.3 L1088.5 668.4 L1088.6 670.8 L1088.8 731.8 L1088.9 661.9 L1089.0 617.7 L1089.1 668.5 L1089.3 661.3 L1089.4 623.1 L1089.5 637.3 L1089.6 637.1 L1089.8 629.8 L1089.9 641.3 L1090.0 648.6 L1090.1 670.7 L1090.3 664.3 L1090.4 654.3 L1090.5 650.1 L1090.6 691.7 L1090.8 652.1 L1090.9 617.1 L1091.0 654.8 L1091.1 619.2 L1091.3 658.4 L1091.4 628.3 L1091.5 668.7 L1091.6 633.4 L1091.7 671.8 L1091.9 663.2 L1092.0 656.3 L1092.1 644.7 L1092.2 668.3 L1092.4 643.4 L1092.5 644.5 L1092.6 659.1 L1092.7 625.1 L1092.9 633.9 L1093.0 664.1 L1093.1 653.6 L1093.2 657.9 L1093.3 669.7 L1093.5 651.2 L1093.6 612.9 L1093.7 643.9 L1093.8 640.2 L1094.0 651.6 L1094.1 638.8 L1094.2 650.8 L1094.3 640.3 L1094.4 652.1 L1094.6 671.7 L1094.7 663.8 L1094.8 686.4 L1094.9 612.3 L1095.1 649.3 L1095.2 649.9 L1095.3 650.5 L1095.4 669.9 L1095.5 640.3 L1095.7 624.4 L1095.8 669.0 L1095.9 628.5 L1096.0 641.2 L1096.1 662.3 L1096.3 662.2 L1096.4 652.0 L1096.5 670.2 L1096.6 664.4 L1096.7 642.8 L1096.9 662.6 L1097.0 640.3 L1097.1 661.9 L1097.2 670.6 L1097.3 674.7 L1097.5 679.7 L1097.6 705.5 L1097.7 633.9 L1097.8 662.7 L1098.0 636.5 L1098.1 696.0 L1098.2 653.1 L1098.3 647.3 L1098.4 660.0 L1098.6 661.7 L1098.7 675.6 L1098.8 663.7 L1098.9 635.4 L1099.0 654.4 L1099.1 653.3 L1099.3 666.9 L1099.4 643.3 L1099.5 661.6 L1099.6 631.3 L1099.7 649.0 L1099.9 625.3 L1100.0 654.8 L1100.1 694.7 L1100.2 701.7 L1100.3 636.8 L1100.5 645.5 L1100.6 658.4 L1100.7 682.8 L1100.8 666.8 L1100.9 656.3 L1101.1 633.7 L1101.2 655.9 L1101.3 637.7 L1101.4 698.2 L1101.5 659.2 L1101.6 647.1 L1101.8 672.1 L1101.9 645.7 L1102.0 689.4 L1102.1 649.7 L1102.2 634.7 L1102.4 700.9 L1102.5 637.3 L1102.6 670.4 L1102.7 652.9 L1102.8 635.4 L1102.9 655.2 L1103.1 670.1 L1103.2 655.1 L1103.3 651.2 L1103.4 645.3 L1103.5 637.5 L1103.6 654.7 L1103.8 645.8 L1103.9 649.5 L1104.0 697.6 L1104.1 657.9 L1104.2 658.5 L1104.3 685.5 L1104.5 620.4 L1104.6 655.5 L1104.7 647.6 L1104.8 693.0 L1104.9 641.3 L1105.0 644.3 L1105.2 648.7 L1105.3 646.8 L1105.4 661.5 L1105.5 658.0 L1105.6 631.6 L1105.7 676.2 L1105.9 637.2 L1106.0 650.4 L1106.1 650.2 L1106.2 636.6 L1106.3 689.3 L1106.4 651.9 L1106.6 694.0 L1106.7 668.5 L1106.8 622.7 L1106.9 683.1 L1107.0 674.3 L1107.1 660.6 L1107.3 671.8 L1107.4 650.9 L1107.5 671.6 L1107.6 678.4 L1107.7 641.3 L1107.8 659.8 L1107.9 667.2 L1108.1 679.3 L1108.2 669.2 L1108.3 667.2 L1108.4 619.6 L1108.5 640.1 L1108.6 673.8 L1108.8 672.4 L1108.9 672.9 L1109.0 666.5 L1109.1 649.3 L1109.2 668.3 L1109.3 688.3 L1109.4 656.5 L1109.6 693.3 L1109.7 695.5 L1109.8 676.1 L1109.9 661.2 L1110.0 656.9 L1110.1 656.9 L1110.2 676.4 L1110.4 679.7 L1110.5 675.8 L1110.6 652.1 L1110.7 664.0 L1110.8 631.1 L1110.9 647.7 L1111.0 662.9 L1111.2 694.5 L1111.3 645.1 L1111.4 660.1 L1111.5 665.4 L1111.6 658.5 L1111.7 651.4 L1111.8 647.0 L1111.9 671.4 L1112.1 650.8 L1112.2 669.8 L1112.3 676.3 L1112.4 636.5 L1112.5 657.3 L1112.6 682.6 L1112.7 670.4 L1112.9 668.4 L1113.0 648.3 L1113.1 661.0 L1113.2 683.7 L1113.3 679.7 L1113.4 674.5 L1113.5 658.0 L1113.6 664.0 L1113.8 683.6 L1113.9 685.4 L1114.0 672.2 L1114.1 659.5 L1114.2 665.3 L1114.3 660.7 L1114.4 683.5 L1114.5 663.8 L1114.7 653.8 L1114.8 652.9 L1114.9 642.8 L1115.0 639.0 L1115.1 650.6 L1115.2 662.9 L1115.3 655.4 L1115.4 644.7 L1115.5 657.5 L1115.7 690.8 L1115.8 679.7 L1115.9 671.8 L1116.0 690.9 L1116.1 652.4 L1116.2 661.4 L1116.3 649.4 L1116.4 672.8 L1116.5 666.2 L1116.7 685.2 L1116.8 653.7 L1116.9 646.4 L1117.0 660.6 L1117.1 633.4 L1117.2 677.8 L1117.3 686.4 L1117.4 653.3 L1117.5 666.6 L1117.7 657.1 L1117.8 674.4 L1117.9 675.7 L1118.0 707.8 L1118.1 693.0 L1118.2 691.8 L1118.3 692.3 L1118.4 686.8 L1118.5 683.3 L1118.7 666.1 L1118.8 637.3 L1118.9 670.9 L1119.0 663.1 L1119.1 640.8 L1119.2 673.2 L1119.3 669.7 L1119.4 701.1 L1119.5 679.4 L1119.6 672.8 L1119.8 673.7 L1119.9 684.7 L1120.0 673.6 L1120.1 674.3 L1120.2 663.2 L1120.3 681.1 L1120.4 680.1 L1120.5 677.6 L1120.6 664.3 L1120.7 675.1 L1120.8 685.7 L1121.0 676.5 L1121.1 656.4 L1121.2 664.8 L1121.3 697.7 L1121.4 693.6 L1121.5 671.9 L1121.6 670.2 L1121.7 686.8 L1121.8 660.6 L1121.9 687.3 L1122.0 678.6 L1122.2 659.8 L1122.3 666.3 L1122.4 675.2 L1122.5 694.0 L1122.6 661.4 L1122.7 659.2 L1122.8 671.8 L1122.9 676.6 L1123.0 684.2 L1123.1 670.9 L1123.2 714.2 L1123.3 680.5 L1123.5 660.7 L1123.6 735.4 L1123.7 683.2 L1123.8 694.9 L1123.9 675.8 L1124.0 656.2 L1124.1 689.6 L1124.2 660.7 L1124.3 687.0 L1124.4 690.8 L1124.5 730.7 L1124.6 688.3 L1124.7 687.8 L1124.9 673.5 L1125.0 656.3 L1125.1 662.3 L1125.2 679.8 L1125.3 678.0 L1125.4 668.2 L1125.5 690.0 L1125.6 677.0 L1125.7 712.4 L1125.8 686.4 L1125.9 662.2 L1126.0 653.2 L1126.1 685.7 L1126.2 700.4 L1126.4 656.3 L1126.5 684.9 L1126.6 717.5 L1126.7 682.8 L1126.8 693.9 L1126.9 692.7 L1127.0 691.9 L1127.1 726.7 L1127.2 682.3 L1127.3 667.8 L1127.4 666.2 L1127.5 709.3 L1127.6 681.2 L1127.7 682.2 L1127.8 714.5 L1127.9 717.5 L1128.1 700.2 L1128.2 669.5 L1128.3 705.2 L1128.4 685.0 L1128.5 699.0 L1128.6 679.3 L1128.7 674.1 L1128.8 652.1 L1128.9 684.7 L1129.0 685.2 L1129.1 681.8 L1129.2 656.5 L1129.3 692.7 L1129.4 707.5 L1129.5 665.4 L1129.6 727.6 L1129.7 729.2 L1129.9 698.1 L1130.0 660.9 L1130.1 693.2 L1130.2 718.4 L1130.3 667.5 L1130.4 667.7 L1130.5 700.7 L1130.6 696.7 L1130.7 679.5 L1130.8 667.1 L1130.9 688.3 L1131.0 687.7 L1131.1 649.6 L1131.2 698.7 L1131.3 685.1 L1131.4 701.5 L1131.5 664.4 L1131.6 673.1 L1131.7 704.0 L1131.8 693.9 L1131.9 668.6 L1132.1 689.9 L1132.2 679.8 L1132.3 704.1 L1132.4 675.7 L1132.5 674.5 L1132.6 714.0 L1132.7 677.7 L1132.8 702.2 L1132.9 731.8 L1133.0 691.6 L1133.1 696.5 L1133.2 701.5 L1133.3 679.7 L1133.4 697.8 L1133.5 664.7 L1133.6 693.4 L1133.7 677.9 L1133.8 690.2 L1133.9 683.8 L1134.0 693.0 L1134.1 674.1 L1134.2 698.3 L1134.3 675.7 L1134.4 671.4 L1134.5 682.1 L1134.6 694.5 L1134.7 687.5 L1134.8 701.4 L1135.0 695.9 L1135.1 699.5 L1135.2 712.8 L1135.3 694.6 L1135.4 676.6 L1135.5 682.7 L1135.6 670.2 L1135.7 667.9 L1135.8 678.2 L1135.9 676.3 L1136.0 701.7 L1136.1 677.8 L1136.2 660.0 L1136.3 725.8 L1136.4 685.4 L1136.5 682.3 L1136.6 677.2 L1136.7 700.3 L1136.8 700.1 L1136.9 666.2 L1137.0 675.3 L1137.1 676.0 L1137.2 673.8 L1137.3 689.2 L1137.4 690.0 L1137.5 682.2 L1137.6 698.0 L1137.7 683.8 L1137.8 661.5 L1137.9 706.3 L1138.0 699.8 L1138.1 709.7 L1138.2 677.3 L1138.3 675.6 L1138.4 701.9 L1138.5 678.8 L1138.6 679.7" fill="none" stroke="#000" stroke-width="4.4" stroke-linejoin="round" stroke-linecap="round"/>
<path d="M193.7 217.4 L198.7 228.6 L203.6 271.8 L208.5 245.6 L213.2 229.9 L217.8 235.0 L222.4 230.5 L226.8 240.3 L231.2 267.6 L235.5 236.1 L239.7 214.3 L243.9 242.9 L248.0 252.9 L252.0 219.0 L256.0 250.1 L259.8 233.4 L263.7 249.6 L267.4 229.9 L271.2 234.1 L274.8 230.8 L278.4 226.4 L281.9 228.2 L285.4 259.6 L288.9 280.4 L292.3 234.3 L295.6 250.3 L298.9 225.5 L302.2 224.4 L305.4 255.6 L308.6 253.0 L311.7 234.7 L314.8 253.3 L317.9 256.3 L320.9 225.2 L323.9 253.2 L326.8 248.6 L329.7 269.6 L332.6 250.0 L335.4 246.1 L338.2 277.3 L341.0 261.9 L343.7 249.3 L346.4 255.2 L349.1 245.5 L351.8 268.6 L354.4 270.4 L357.0 295.9 L359.6 236.5 L362.1 298.3 L364.6 269.7 L367.1 231.1 L369.6 308.2 L372.0 271.3 L374.4 296.7 L376.8 287.7 L379.2 279.8 L381.5 255.7 L383.8 255.9 L386.1 278.1 L388.4 322.4 L390.7 317.3 L392.9 305.4 L395.1 282.7 L397.3 308.8 L399.5 269.5 L401.6 277.9 L403.8 276.4 L405.9 304.1 L408.0 252.7 L410.1 302.7 L412.1 318.6 L414.2 299.0 L416.2 315.1 L418.2 326.2 L420.2 298.4 L422.2 344.3 L424.1 278.4 L426.1 353.4 L428.0 310.8 L429.9 305.7 L431.8 321.9 L433.7 320.8 L435.6 297.9 L437.4 327.9 L439.3 291.5 L441.1 287.3 L442.9 291.4 L444.7 310.4 L446.5 305.9 L448.3 286.3 L450.1 324.4 L451.8 319.4 L453.5 342.8 L455.3 317.7 L457.0 307.3 L458.7 324.2 L460.4 297.0 L462.0 307.1 L463.7 306.3 L465.4 315.9 L467.0 339.0 L468.6 350.9 L470.2 286.1 L471.9 324.2 L473.5 315.1 L475.0 284.2 L476.6 301.7 L478.2 297.7 L479.7 310.6 L481.3 269.0 L482.8 325.6 L484.4 314.1 L485.9 343.3 L487.4 322.9 L488.9 340.2 L490.4 301.6 L491.9 318.1 L493.3 292.9 L494.8 314.7 L496.2 279.6 L497.7 344.3 L499.1 313.1 L500.6 279.8 L502.0 333.6 L503.4 295.8 L504.8 284.6 L506.2 291.9 L507.6 291.7 L508.9 342.8 L510.3 294.2 L511.7 290.4 L513.0 313.2 L514.4 306.4 L515.7 329.7 L517.1 333.6 L518.4 322.7 L519.7 316.9 L521.0 319.6 L522.3 345.3 L523.6 327.0 L524.9 307.0 L526.2 323.4 L527.5 352.4 L528.7 363.4 L530.0 365.3 L531.3 340.5 L532.5 338.9 L533.8 391.4 L535.0 361.6 L536.2 350.3 L537.5 353.2 L538.7 336.1 L539.9 387.9 L541.1 349.0 L542.3 334.9 L543.5 368.1 L544.7 350.8 L545.9 384.2 L547.0 386.1 L548.2 362.5 L549.4 388.8 L550.5 396.7 L551.7 387.3 L552.8 376.6 L554.0 352.0 L555.1 361.4 L556.3 376.3 L557.4 342.9 L558.5 362.1 L559.6 363.1 L560.7 349.9 L561.9 373.3 L563.0 343.8 L564.1 372.2 L565.1 362.6 L566.2 389.2 L567.3 360.3 L568.4 357.9 L569.5 370.4 L570.5 343.2 L571.6 343.7 L572.7 351.8 L573.7 365.4 L574.8 364.0 L575.8 385.1 L576.8 339.2 L577.9 420.0 L578.9 352.5 L579.9 351.6 L581.0 352.8 L582.0 373.4 L583.0 354.8 L584.0 405.5 L585.0 373.1 L586.0 363.0 L587.0 395.8 L588.0 405.0 L589.0 383.9 L590.0 361.5 L591.0 358.4 L591.9 373.4 L592.9 371.5 L593.9 437.3 L594.9 412.7 L595.8 382.4 L596.8 400.6 L597.7 371.7 L598.7 366.4 L599.6 379.6 L600.6 380.0 L601.5 382.8 L602.4 357.2 L603.4 376.1 L604.3 378.6 L605.2 362.1 L606.1 355.1 L607.1 366.5 L608.0 378.4 L608.9 395.1 L609.8 385.9 L610.7 379.2 L611.6 375.5 L612.5 420.7 L613.4 429.2 L614.3 355.3 L615.2 406.1 L616.1 381.9 L616.9 352.6 L617.8 417.2 L618.7 344.8 L619.6 374.7 L620.4 402.6 L621.3 403.0 L622.2 371.7 L623.0 407.7 L623.9 405.2 L624.7 374.6 L625.6 364.5 L626.4 394.4 L627.3 382.6 L628.1 385.9 L629.0 394.5 L629.8 370.8 L630.6 415.4 L631.4 330.2 L632.3 345.7 L633.1 404.6 L633.9 383.3 L634.7 357.0 L635.6 376.2 L636.4 302.0 L637.2 348.3 L638.0 401.7 L638.8 408.2 L639.6 381.9 L640.4 392.3 L641.2 381.6 L642.0 392.8 L642.8 393.4 L643.6 414.5 L644.4 416.9 L645.1 313.0 L645.9 407.9 L646.7 412.3 L647.5 390.5 L648.2 424.5 L649.0 375.3 L649.8 381.5 L650.6 393.5 L651.3 404.7 L652.1 401.9 L652.8 422.6 L653.6 389.0 L654.3 389.6 L655.1 468.0 L655.9 396.7 L656.6 385.3 L657.3 420.0 L658.1 414.7 L658.8 451.8 L659.6 375.3 L660.3 419.7 L661.0 404.3 L661.8 420.4 L662.5 399.9 L663.2 397.8 L664.0 458.4 L664.7 408.9 L665.4 393.4 L666.1 388.3 L666.8 395.6 L667.5 399.5 L668.3 383.4 L669.0 433.4 L669.7 388.6 L670.4 428.2 L671.1 390.7 L671.8 394.6 L672.5 428.7 L673.2 401.9 L673.9 412.1 L674.6 408.0 L675.3 393.8 L676.0 430.3 L676.6 454.1 L677.3 426.7 L678.0 447.3 L678.7 434.8 L679.4 458.0 L680.1 460.2 L680.7 404.2 L681.4 392.7 L682.1 445.0 L682.7 384.0 L683.4 435.8 L684.1 440.1 L684.8 424.1 L685.4 401.5 L686.1 428.4 L686.7 417.3 L687.4 412.2 L688.0 428.6 L688.7 403.3 L689.4 467.7 L690.0 425.2 L690.7 417.6 L691.3 454.4 L691.9 378.4 L692.6 406.7 L693.2 431.1 L693.9 438.7 L694.5 418.7 L695.2 357.0 L695.8 440.1 L696.4 409.5 L697.1 404.3 L697.7 448.8 L698.3 441.0 L698.9 421.9 L699.6 401.6 L700.2 433.1 L700.8 443.3 L701.4 455.0 L702.1 402.0 L702.7 477.4 L703.3 392.2 L703.9 403.0 L704.5 410.7 L705.1 438.0 L705.7 453.8 L706.3 436.9 L706.9 472.9 L707.6 409.7 L708.2 453.5 L708.8 404.7 L709.4 424.5 L710.0 524.1 L710.6 435.0 L711.2 457.2 L711.7 434.4 L712.3 413.5 L712.9 454.1 L713.5 436.3 L714.1 484.0 L714.7 500.2 L715.3 434.8 L715.9 499.6 L716.5 439.9 L717.0 438.1 L717.6 421.6 L718.2 434.4 L718.8 432.6 L719.4 433.8 L719.9 432.7 L720.5 442.2 L721.1 444.7 L721.6 414.5 L722.2 501.2 L722.8 421.6 L723.3 448.9 L723.9 376.0 L724.5 410.6 L725.0 542.9 L725.6 446.9 L726.2 431.0 L726.7 429.6 L727.3 410.5 L727.8 446.0 L728.4 444.7 L728.9 461.0 L729.5 455.5 L730.0 500.8 L730.6 443.3 L731.1 435.1 L731.7 446.9 L732.2 439.2 L732.8 500.3 L733.3 452.8 L733.9 472.3 L734.4 479.3 L735.0 440.8 L735.5 438.8 L736.0 451.5 L736.6 435.2 L737.1 436.7 L737.6 486.0 L738.2 489.3 L738.7 439.3 L739.2 463.1 L739.8 500.9 L740.3 456.2 L740.8 475.8 L741.3 481.8 L741.9 455.7 L742.4 451.0 L742.9 492.6 L743.4 525.7 L744.0 479.2 L744.5 426.2 L745.0 443.2 L745.5 427.2 L746.0 480.9 L746.5 435.9 L747.1 480.8 L747.6 434.7 L748.1 473.3 L748.6 458.8 L749.1 460.9 L749.6 464.7 L750.1 497.4 L750.6 434.8 L751.1 451.4 L751.6 489.3 L752.1 448.2 L752.6 425.5 L753.1 449.5 L753.6 465.6 L754.1 455.6 L754.6 474.5 L755.1 486.8 L755.6 465.5 L756.1 440.5 L756.6 535.2 L757.1 477.3 L757.6 493.8 L758.1 407.9 L758.6 462.9 L759.1 458.1 L759.6 481.6 L760.0 449.5 L760.5 482.1 L761.0 435.8 L761.5 453.3 L762.0 524.7 L762.5 452.7 L762.9 466.5 L763.4 444.9 L763.9 470.7 L764.4 476.6 L764.9 472.3 L765.3 445.3 L765.8 429.4 L766.3 517.2 L766.8 451.2 L767.2 480.2 L767.7 471.3 L768.2 452.1 L768.6 502.3 L769.1 475.5 L769.6 467.7 L770.1 451.2 L770.5 480.4 L771.0 471.1 L771.4 480.3 L771.9 459.8 L772.4 452.3 L772.8 456.3 L773.3 421.7 L773.8 479.1 L774.2 488.2 L774.7 513.6 L775.1 458.3 L775.6 474.6 L776.0 453.4 L776.5 448.6 L777.0 473.8 L777.4 515.7 L777.9 478.3 L778.3 484.5 L778.8 514.9 L779.2 504.0 L779.7 473.8 L780.1 460.5 L780.6 441.3 L781.0 479.1 L781.4 450.2 L781.9 451.0 L782.3 441.0 L782.8 442.5 L783.2 485.0 L783.7 429.1 L784.1 469.8 L784.5 493.1 L785.0 451.7 L785.4 475.9 L785.9 426.5 L786.3 470.0 L786.7 471.9 L787.2 452.3 L787.6 478.5 L788.0 454.6 L788.5 547.1 L788.9 492.1 L789.3 492.9 L789.8 467.0 L790.2 495.4 L790.6 508.6 L791.0 480.2 L791.5 523.0 L791.9 465.1 L792.3 498.9 L792.8 457.3 L793.2 508.0 L793.6 507.6 L794.0 478.7 L794.4 464.3 L794.9 481.0 L795.3 458.8 L795.7 483.0 L796.1 489.7 L796.5 467.3 L797.0 462.6 L797.4 479.0 L797.8 466.2 L798.2 457.6 L798.6 450.6 L799.0 454.7 L799.5 529.3 L799.9 445.0 L800.3 489.6 L800.7 475.1 L801.1 490.0 L801.5 476.8 L801.9 507.6 L802.3 473.7 L802.7 513.0 L803.1 502.3 L803.6 477.1 L804.0 474.0 L804.4 508.5 L804.8 489.4 L805.2 486.9 L805.6 480.2 L806.0 484.6 L806.4 498.7 L806.8 541.4 L807.2 497.9 L807.6 466.1 L808.0 450.9 L808.4 462.6 L808.8 443.8 L809.2 467.5 L809.6 473.8 L810.0 508.6 L810.4 448.2 L810.8 502.0 L811.1 509.3 L811.5 540.7 L811.9 494.8 L812.3 523.3 L812.7 476.0 L813.1 509.8 L813.5 485.1 L813.9 484.3 L814.3 505.2 L814.7 471.7 L815.1 498.5 L815.4 522.2 L815.8 456.6 L816.2 502.7 L816.6 479.7 L817.0 491.4 L817.4 465.7 L817.7 491.8 L818.1 476.4 L818.5 493.0 L818.9 496.3 L819.3 510.0 L819.7 489.2 L820.0 466.2 L820.4 489.5 L820.8 432.6 L821.2 516.3 L821.5 464.4 L821.9 468.5 L822.3 488.7 L822.7 463.3 L823.1 482.3 L823.4 477.6 L823.8 480.7 L824.2 463.5 L824.5 525.1 L824.9 460.0 L825.3 535.4 L825.7 528.6 L826.0 496.0 L826.4 496.5 L826.8 497.8 L827.1 482.0 L827.5 476.3 L827.9 466.2 L828.2 461.4 L828.6 466.2 L829.0 469.0 L829.3 487.2 L829.7 512.1 L830.1 469.5 L830.4 484.8 L830.8 464.2 L831.2 468.2 L831.5 457.1 L831.9 469.8 L832.2 523.1 L832.6 478.2 L833.0 499.6 L833.3 499.8 L833.7 507.1 L834.0 497.1 L834.4 530.7 L834.8 540.3 L835.1 531.4 L835.5 467.1 L835.8 541.1 L836.2 532.6 L836.5 475.1 L836.9 480.8 L837.2 467.1 L837.6 515.9 L837.9 492.0 L838.3 547.4 L838.7 482.5 L839.0 469.8 L839.4 513.2 L839.7 472.5 L840.1 528.7 L840.4 503.3 L840.7 503.9 L841.1 554.3 L841.4 542.5 L841.8 448.3 L842.1 472.8 L842.5 478.6 L842.8 500.7 L843.2 501.3 L843.5 493.9 L843.9 462.5 L844.2 496.1 L844.6 534.5 L844.9 521.0 L845.2 519.9 L845.6 492.4 L845.9 518.6 L846.3 513.6 L846.6 477.1 L846.9 488.9 L847.3 478.9 L847.6 489.4 L848.0 534.3 L848.3 479.5 L848.6 483.5 L849.0 453.1 L849.3 494.1 L849.6 521.4 L850.0 516.7 L850.3 498.1 L850.6 544.1 L851.0 533.2 L851.3 508.6 L851.6 537.1 L852.0 525.0 L852.3 522.6 L852.6 499.7 L853.0 504.3 L853.3 499.5 L853.6 486.1 L854.0 472.0 L854.3 501.1 L854.6 459.4 L855.0 482.1 L855.3 541.5 L855.6 474.4 L855.9 460.6 L856.3 512.0 L856.6 503.9 L856.9 514.7 L857.2 519.8 L857.6 512.8 L857.9 472.9 L858.2 470.8 L858.5 487.7 L858.9 461.2 L859.2 486.6 L859.5 517.6 L859.8 503.6 L860.1 484.1 L860.5 521.1 L860.8 514.9 L861.1 494.5 L861.4 490.9 L861.7 473.9 L862.1 518.8 L862.4 524.9 L862.7 542.1 L863.0 513.1 L863.3 503.7 L863.7 474.4 L864.0 509.8 L864.3 502.6 L864.6 495.0 L864.9 461.4 L865.2 540.8 L865.6 532.5 L865.9 487.1 L866.2 488.0 L866.5 517.7 L866.8 518.2 L867.1 533.6 L867.4 490.6 L867.7 466.8 L868.1 505.1 L868.4 514.6 L868.7 533.0 L869.0 525.6 L869.3 492.6 L869.6 489.8 L869.9 483.8 L870.2 475.9 L870.5 464.7 L870.8 516.7 L871.1 502.2 L871.4 472.3 L871.8 520.8 L872.1 545.0 L872.4 516.4 L872.7 524.9 L873.0 505.9 L873.3 513.1 L873.6 487.3 L873.9 539.9 L874.2 543.9 L874.5 494.4 L874.8 547.5 L875.1 516.8 L875.4 528.5 L875.7 540.7 L876.0 524.7 L876.3 488.4 L876.6 518.8 L876.9 548.3 L877.2 534.0 L877.5 501.7 L877.8 485.5 L878.1 490.2 L878.4 478.3 L878.7 516.8 L879.0 519.4 L879.3 499.5 L879.6 550.8 L879.9 502.1 L880.2 489.3 L880.5 550.8 L880.8 479.3 L881.1 522.3 L881.4 556.7 L881.7 489.1 L882.0 537.8 L882.2 494.2 L882.5 505.7 L882.8 477.3 L883.1 485.9 L883.4 524.3 L883.7 527.7 L884.0 534.4 L884.3 488.5 L884.6 526.3 L884.9 522.7 L885.2 556.5 L885.5 549.7 L885.7 467.3 L886.0 550.9 L886.3 497.4 L886.6 524.0 L886.9 455.1 L887.2 501.5 L887.5 473.9 L887.8 541.5 L888.0 529.0 L888.3 463.2 L888.6 476.2 L888.9 495.0 L889.2 500.6 L889.5 533.7 L889.8 499.4 L890.0 515.4 L890.3 528.8 L890.6 485.4 L890.9 496.4 L891.2 516.7 L891.5 489.7 L891.7 530.6 L892.0 513.4 L892.3 503.2 L892.6 468.4 L892.9 533.9 L893.1 544.5 L893.4 512.0 L893.7 501.7 L894.0 499.3 L894.3 499.2 L894.5 505.3 L894.8 516.3 L895.1 525.5 L895.4 503.5 L895.7 532.3 L895.9 535.8 L896.2 532.7 L896.5 516.3 L896.8 499.0 L897.0 558.4 L897.3 490.6 L897.6 533.9 L897.9 551.3 L898.1 493.2 L898.4 485.8 L898.7 471.8 L899.0 526.7 L899.2 551.7 L899.5 533.8 L899.8 505.5 L900.0 513.8 L900.3 494.9 L900.6 525.8 L900.9 422.0 L901.1 587.8 L901.4 472.5 L901.7 508.9 L901.9 464.9 L902.2 519.6 L902.5 474.9 L902.8 508.7 L903.0 516.9 L903.3 528.3 L903.6 504.2 L903.8 507.4 L904.1 488.8 L904.4 541.9 L904.6 516.3 L904.9 497.3 L905.2 539.6 L905.4 498.0 L905.7 493.7 L906.0 511.8 L906.2 515.4 L906.5 568.0 L906.8 531.2 L907.0 489.8 L907.3 482.6 L907.6 567.6 L907.8 513.9 L908.1 562.3 L908.4 530.4 L908.6 517.3 L908.9 482.0 L909.1 526.6 L909.4 493.5 L909.7 523.1 L909.9 546.8 L910.2 523.6 L910.4 498.1 L910.7 499.1 L911.0 494.4 L911.2 485.9 L911.5 534.1 L911.7 509.6 L912.0 541.5 L912.3 514.2 L912.5 518.0 L912.8 548.9 L913.0 496.6 L913.3 495.2 L913.6 532.5 L913.8 497.1 L914.1 503.4 L914.3 505.5 L914.6 506.2 L914.8 500.5 L915.1 511.4 L915.4 513.8 L915.6 505.3 L915.9 537.3 L916.1 549.1 L916.4 511.7 L916.6 541.5 L916.9 486.8 L917.1 548.2 L917.4 480.7 L917.6 484.0 L917.9 518.1 L918.2 525.5 L918.4 469.9 L918.7 536.7 L918.9 533.7 L919.2 584.8 L919.4 535.9 L919.7 540.0 L919.9 582.8 L920.2 547.3 L920.4 515.0 L920.7 508.9 L920.9 601.2 L921.2 491.9 L921.4 488.5 L921.7 521.6 L921.9 537.0 L922.2 560.6 L922.4 497.3 L922.7 521.7 L922.9 588.5 L923.2 554.7 L923.4 528.8 L923.7 496.5 L923.9 536.0 L924.1 521.9 L924.4 530.1 L924.6 502.5 L924.9 553.5 L925.1 538.4 L925.4 552.8 L925.6 530.1 L925.9 549.0 L926.1 545.2 L926.4 572.4 L926.6 579.7 L926.8 500.8 L927.1 523.8 L927.3 500.2 L927.6 499.3 L927.8 571.5 L928.1 509.9 L928.3 526.0 L928.5 501.3 L928.8 511.4 L929.0 544.2 L929.3 558.0 L929.5 586.6 L929.8 525.5 L930.0 498.0 L930.2 505.7 L930.5 527.6 L930.7 559.2 L931.0 540.9 L931.2 472.6 L931.4 559.1 L931.7 544.3 L931.9 498.7 L932.1 562.4 L932.4 528.1 L932.6 511.0 L932.9 496.2 L933.1 536.1 L933.3 504.7 L933.6 532.8 L933.8 487.6 L934.0 504.0 L934.3 494.9 L934.5 532.2 L934.8 514.2 L935.0 527.4 L935.2 551.4 L935.5 559.2 L935.7 545.0 L935.9 501.9 L936.2 531.9 L936.4 521.0 L936.6 517.3 L936.9 469.9 L937.1 513.6 L937.3 535.0 L937.6 566.9 L937.8 524.7 L938.0 495.7 L938.3 522.1 L938.5 523.5 L938.7 583.8 L939.0 488.5 L939.2 538.3 L939.4 557.1 L939.7 541.4 L939.9 505.8 L940.1 554.6 L940.4 548.7 L940.6 536.1 L940.8 540.9 L941.0 536.5 L941.3 552.1 L941.5 525.6 L941.7 556.7 L942.0 566.8 L942.2 587.0 L942.4 521.1 L942.7 540.1 L942.9 567.6 L943.1 483.3 L943.3 570.3 L943.6 516.4 L943.8 519.9 L944.0 562.9 L944.2 519.9 L944.5 488.2 L944.7 514.7 L944.9 563.0 L945.1 542.6 L945.4 526.6 L945.6 570.1 L945.8 539.6 L946.1 499.6 L946.3 510.0 L946.5 553.9 L946.7 602.0 L947.0 502.5 L947.2 506.6 L947.4 527.4 L947.6 534.7 L947.8 510.5 L948.1 575.1 L948.3 563.2 L948.5 501.5 L948.7 549.1 L949.0 554.6 L949.2 554.1 L949.4 549.6 L949.6 526.3 L949.9 588.7 L950.1 554.6 L950.3 559.6 L950.5 552.2 L950.7 532.4 L951.0 527.3 L951.2 505.3 L951.4 586.3 L951.6 588.6 L951.8 577.1 L952.1 552.9 L952.3 595.8 L952.5 546.5 L952.7 568.3 L952.9 504.4 L953.2 537.8 L953.4 500.7 L953.6 516.8 L953.8 532.2 L954.0 542.7 L954.2 552.7 L954.5 510.9 L954.7 525.1 L954.9 509.9 L955.1 606.3 L955.3 517.7 L955.5 530.4 L955.8 522.0 L956.0 524.8 L956.2 514.5 L956.4 540.1 L956.6 550.7 L956.8 534.1 L957.1 533.8 L957.3 566.5 L957.5 503.0 L957.7 526.4 L957.9 518.5 L958.1 566.6 L958.3 540.9 L958.6 557.5 L958.8 533.8 L959.0 529.1 L959.2 555.4 L959.4 560.8 L959.6 539.4 L959.8 577.9 L960.1 563.2 L960.3 524.2 L960.5 527.5 L960.7 530.3 L960.9 608.1 L961.1 535.6 L961.3 539.4 L961.5 500.9 L961.7 535.1 L962.0 590.4 L962.2 508.5 L962.4 552.4 L962.6 513.5 L962.8 515.0 L963.0 560.3 L963.2 565.7 L963.4 508.7 L963.6 566.0 L963.8 564.2 L964.1 531.3 L964.3 517.1 L964.5 500.3 L964.7 562.4 L964.9 527.8 L965.1 549.0 L965.3 533.2 L965.5 517.1 L965.7 565.3 L965.9 542.3 L966.1 560.9 L966.3 557.7 L966.6 507.8 L966.8 506.8 L967.0 551.1 L967.2 571.1 L967.4 594.6 L967.6 498.8 L967.8 564.5 L968.0 560.7 L968.2 569.4 L968.4 564.0 L968.6 544.6 L968.8 547.5 L969.0 489.7 L969.2 511.5 L969.4 550.4 L969.6 596.2 L969.8 528.9 L970.0 642.3 L970.2 578.7 L970.5 515.1 L970.7 543.0 L970.9 577.2 L971.1 517.6 L971.3 597.9 L971.5 510.2 L971.7 519.3 L971.9 636.4 L972.1 521.5 L972.3 501.6 L972.5 549.0 L972.7 580.9 L972.9 530.2 L973.1 558.1 L973.3 562.8 L973.5 537.0 L973.7 563.2 L973.9 522.8 L974.1 497.4 L974.3 550.3 L974.5 511.6 L974.7 547.4 L974.9 570.2 L975.1 524.8 L975.3 514.6 L975.5 587.5 L975.7 522.8 L975.9 515.9 L976.1 520.2 L976.3 644.8 L976.5 559.0 L976.7 513.2 L976.9 567.2 L977.1 532.6 L977.3 517.1 L977.5 569.1 L977.7 576.0 L977.9 562.2 L978.1 557.5 L978.3 582.6 L978.5 545.9 L978.7 550.5 L978.9 544.9 L979.0 523.1 L979.2 541.6 L979.4 552.7 L979.6 528.6 L979.8 630.5 L980.0 554.1 L980.2 564.3 L980.4 529.2 L980.6 558.0 L980.8 576.3 L981.0 559.4 L981.2 543.8 L981.4 531.9 L981.6 538.5 L981.8 588.8 L982.0 579.2 L982.2 577.7 L982.4 548.2 L982.6 550.8 L982.8 609.3 L982.9 599.9 L983.1 534.6 L983.3 547.3 L983.5 587.1 L983.7 517.5 L983.9 552.5 L984.1 542.0 L984.3 534.2 L984.5 540.5 L984.7 589.5 L984.9 600.3 L985.1 517.8 L985.3 550.6 L985.4 601.7 L985.6 547.8 L985.8 519.7 L986.0 532.8 L986.2 584.6 L986.4 543.0 L986.6 569.1 L986.8 568.1 L987.0 544.8 L987.2 535.1 L987.4 558.1 L987.5 530.9 L987.7 534.7 L987.9 598.6 L988.1 555.5 L988.3 569.6 L988.5 603.0 L988.7 494.3 L988.9 575.9 L989.1 556.0 L989.2 617.4 L989.4 579.5 L989.6 554.0 L989.8 564.2 L990.0 638.7 L990.2 571.8 L990.4 518.8 L990.6 569.0 L990.7 571.2 L990.9 548.8 L991.1 487.7 L991.3 588.5 L991.5 591.1 L991.7 565.1 L991.9 617.6 L992.1 498.7 L992.2 573.0 L992.4 559.4 L992.6 575.0 L992.8 550.8 L993.0 557.1 L993.2 530.4 L993.4 532.2 L993.5 538.2 L993.7 568.9 L993.9 572.9 L994.1 509.1 L994.3 532.5 L994.5 647.0 L994.6 543.3 L994.8 570.7 L995.0 589.3 L995.2 530.0 L995.4 541.5 L995.6 571.2 L995.7 575.5 L995.9 551.9 L996.1 559.3 L996.3 562.6 L996.5 549.6 L996.7 558.6 L996.8 592.7 L997.0 521.6 L997.2 531.2 L997.4 566.6 L997.6 548.4 L997.8 573.8 L997.9 544.5 L998.1 540.1 L998.3 622.6 L998.5 586.2 L998.7 590.7 L998.8 615.2 L999.0 548.3 L999.2 571.8 L999.4 551.1 L999.6 641.4 L999.7 563.4 L999.9 553.0 L1000.1 543.4 L1000.3 545.7 L1000.5 587.1 L1000.6 546.9 L1000.8 548.5 L1001.0 616.0 L1001.2 595.9 L1001.4 552.9 L1001.5 565.2 L1001.7 557.2 L1001.9 585.3 L1002.1 596.2 L1002.3 546.0 L1002.4 610.1 L1002.6 554.7 L1002.8 567.4 L1003.0 546.4 L1003.1 581.3 L1003.3 515.3 L1003.5 552.8 L1003.7 612.5 L1003.9 579.7 L1004.0 608.3 L1004.2 569.7 L1004.4 604.3 L1004.6 546.9 L1004.7 572.4 L1004.9 581.2 L1005.1 555.4 L1005.3 562.3 L1005.4 504.5 L1005.6 557.3 L1005.8 580.3 L1006.0 574.7 L1006.2 583.4 L1006.3 586.1 L1006.5 596.7 L1006.7 560.0 L1006.9 604.8 L1007.0 523.8 L1007.2 578.1 L1007.4 545.8 L1007.6 583.1 L1007.7 561.7 L1007.9 593.8 L1008.1 543.7 L1008.2 556.4 L1008.4 624.2 L1008.6 541.9 L1008.8 580.8 L1008.9 515.4 L1009.1 571.5 L1009.3 575.6 L1009.5 584.1 L1009.6 545.7 L1009.8 511.7 L1010.0 547.4 L1010.2 562.1 L1010.3 547.5 L1010.5 562.5 L1010.7 576.1 L1010.8 610.0 L1011.0 560.1 L1011.2 551.2 L1011.4 584.3 L1011.5 541.2 L1011.7 566.8 L1011.9 543.5 L1012.0 558.4 L1012.2 575.3 L1012.4 581.3 L1012.6 573.0 L1012.7 602.4 L1012.9 583.8 L1013.1 537.9 L1013.2 581.6 L1013.4 544.7 L1013.6 531.4 L1013.8 563.7 L1013.9 521.0 L1014.1 571.6 L1014.3 563.1 L1014.4 540.2 L1014.6 566.0 L1014.8 577.7 L1014.9 575.9 L1015.1 547.4 L1015.3 574.5 L1015.5 564.1 L1015.6 573.2 L1015.8 579.9 L1016.0 556.1 L1016.1 584.1 L1016.3 547.7 L1016.5 552.0 L1016.6 585.8 L1016.8 559.8 L1017.0 535.2 L1017.1 612.7 L1017.3 575.3 L1017.5 571.6 L1017.6 506.4 L1017.8 568.7 L1018.0 575.9 L1018.1 563.4 L1018.3 549.4 L1018.5 597.9 L1018.6 553.7 L1018.8 541.2 L1019.0 605.3 L1019.1 526.1 L1019.3 659.7 L1019.5 563.1 L1019.6 572.7 L1019.8 589.3 L1020.0 591.4 L1020.1 571.4 L1020.3 587.5 L1020.5 549.2 L1020.6 556.5 L1020.8 550.1 L1021.0 537.7 L1021.1 602.4 L1021.3 578.5 L1021.5 618.2 L1021.6 602.1 L1021.8 573.3 L1022.0 584.1 L1022.1 591.6 L1022.3 588.8 L1022.4 544.2 L1022.6 598.6 L1022.8 613.9 L1022.9 625.0 L1023.1 590.2 L1023.3 566.5 L1023.4 589.1 L1023.6 550.2 L1023.8 592.7 L1023.9 566.1 L1024.1 533.3 L1024.2 572.0 L1024.4 635.2 L1024.6 567.2 L1024.7 548.1 L1024.9 563.4 L1025.1 589.0 L1025.2 559.7 L1025.4 574.0 L1025.5 566.8 L1025.7 585.1 L1025.9 539.2 L1026.0 577.7 L1026.2 603.3 L1026.4 617.7 L1026.5 571.7 L1026.7 583.9 L1026.8 554.7 L1027.0 576.6 L1027.2 556.4 L1027.3 571.5 L1027.5 579.5 L1027.6 575.3 L1027.8 537.5 L1028.0 603.8 L1028.1 605.1 L1028.3 635.3 L1028.4 578.5 L1028.6 531.9 L1028.8 658.9 L1028.9 533.2 L1029.1 598.2 L1029.2 559.7 L1029.4 570.9 L1029.6 572.3 L1029.7 557.3 L1029.9 591.7 L1030.0 544.5 L1030.2 550.4 L1030.4 599.7 L1030.5 678.5 L1030.7 649.2 L1030.8 590.2 L1031.0 558.6 L1031.2 530.0 L1031.3 614.8 L1031.5 520.9 L1031.6 544.9 L1031.8 537.7 L1031.9 585.3 L1032.1 617.8 L1032.3 594.6 L1032.4 565.3 L1032.6 551.4 L1032.7 612.4 L1032.9 638.2 L1033.0 631.3 L1033.2 600.3 L1033.4 587.1 L1033.5 570.2 L1033.7 555.9 L1033.8 565.8 L1034.0 532.9 L1034.1 559.8 L1034.3 644.6 L1034.5 640.7 L1034.6 582.5 L1034.8 544.8 L1034.9 529.5 L1035.1 558.6 L1035.2 617.1 L1035.4 581.3 L1035.5 601.9 L1035.7 540.1 L1035.9 594.1 L1036.0 576.9 L1036.2 556.6 L1036.3 565.1 L1036.5 583.4 L1036.6 538.1 L1036.8 563.8 L1036.9 600.7 L1037.1 554.4 L1037.2 608.2 L1037.4 543.7 L1037.6 575.8 L1037.7 586.2 L1037.9 573.0 L1038.0 576.2 L1038.2 605.8 L1038.3 561.6 L1038.5 551.3 L1038.6 571.6 L1038.8 570.6 L1038.9 552.5 L1039.1 559.5 L1039.2 594.9 L1039.4 654.1 L1039.6 593.0 L1039.7 535.8 L1039.9 561.3 L1040.0 576.4 L1040.2 607.5 L1040.3 573.6 L1040.5 601.9 L1040.6 610.4 L1040.8 574.7 L1040.9 580.8 L1041.1 585.9 L1041.2 576.0 L1041.4 615.9 L1041.5 579.8 L1041.7 567.9 L1041.8 563.0 L1042.0 581.4 L1042.1 568.5 L1042.3 588.3 L1042.4 577.3 L1042.6 562.2 L1042.7 604.6 L1042.9 532.0 L1043.0 559.4 L1043.2 583.0 L1043.3 568.1 L1043.5 534.8 L1043.6 579.0 L1043.8 578.5 L1043.9 581.4 L1044.1 601.7 L1044.2 597.3 L1044.4 622.2 L1044.5 536.2 L1044.7 656.7 L1044.8 596.3 L1045.0 619.6 L1045.1 602.8 L1045.3 573.0 L1045.4 589.0 L1045.6 591.6 L1045.7 627.2 L1045.9 609.6 L1046.0 589.0 L1046.2 576.2 L1046.3 591.6 L1046.5 562.4 L1046.6 599.1 L1046.8 578.8 L1046.9 589.7 L1047.1 609.0 L1047.2 587.8 L1047.4 596.0 L1047.5 567.5 L1047.7 562.3 L1047.8 573.2 L1048.0 646.8 L1048.1 653.9 L1048.3 626.2 L1048.4 587.3 L1048.6 550.7 L1048.7 612.7 L1048.9 548.9 L1049.0 637.9 L1049.1 569.2 L1049.3 580.2 L1049.4 589.7 L1049.6 574.1 L1049.7 596.6 L1049.9 600.5 L1050.0 596.6 L1050.2 576.0 L1050.3 592.9 L1050.5 594.7 L1050.6 568.3 L1050.8 611.4 L1050.9 638.1 L1051.1 540.4 L1051.2 597.4 L1051.3 564.1 L1051.5 619.3 L1051.6 604.2 L1051.8 552.0 L1051.9 569.7 L1052.1 598.3 L1052.2 590.1 L1052.4 590.5 L1052.5 577.5 L1052.6 600.9 L1052.8 590.2 L1052.9 624.7 L1053.1 576.2 L1053.2 553.4 L1053.4 613.2 L1053.5 578.1 L1053.7 569.3 L1053.8 561.0 L1053.9 587.0 L1054.1 565.9 L1054.2 578.0 L1054.4 570.2 L1054.5 618.1 L1054.7 575.8 L1054.8 579.2 L1055.0 645.6 L1055.1 674.8 L1055.2 566.9 L1055.4 558.9 L1055.5 587.7 L1055.7 603.2 L1055.8 588.6 L1056.0 536.6 L1056.1 660.0 L1056.2 608.5 L1056.4 630.6 L1056.5 574.8 L1056.7 559.9 L1056.8 571.1 L1057.0 563.6 L1057.1 642.1 L1057.2 618.7 L1057.4 630.4 L1057.5 577.0 L1057.7 569.1 L1057.8 605.7 L1057.9 525.5 L1058.1 548.0 L1058.2 588.4 L1058.4 620.4 L1058.5 519.4 L1058.7 524.3 L1058.8 557.8 L1058.9 641.5 L1059.1 590.3 L1059.2 566.3 L1059.4 629.0 L1059.5 623.4 L1059.6 551.4 L1059.8 589.6 L1059.9 569.4 L1060.1 607.5 L1060.2 643.2 L1060.3 587.0 L1060.5 583.3 L1060.6 593.4 L1060.8 613.9 L1060.9 691.4 L1061.0 635.8 L1061.2 544.0 L1061.3 597.4 L1061.5 650.0 L1061.6 601.3 L1061.7 599.5 L1061.9 575.9 L1062.0 593.2 L1062.2 543.6 L1062.3 576.2 L1062.4 629.0 L1062.6 600.2 L1062.7 603.9 L1062.9 641.8 L1063.0 590.0 L1063.1 583.0 L1063.3 586.0 L1063.4 605.9 L1063.6 574.7 L1063.7 540.6 L1063.8 598.1 L1064.0 562.7 L1064.1 620.6 L1064.2 554.3 L1064.4 586.7 L1064.5 612.1 L1064.7 547.3 L1064.8 610.7 L1064.9 588.9 L1065.1 570.0 L1065.2 643.9 L1065.3 575.3 L1065.5 628.8 L1065.6 625.7 L1065.8 628.0 L1065.9 578.0 L1066.0 599.7 L1066.2 624.6 L1066.3 597.4 L1066.4 619.5 L1066.6 620.9 L1066.7 597.4 L1066.9 563.6 L1067.0 616.9 L1067.1 601.9 L1067.3 612.8 L1067.4 660.6 L1067.5 576.8 L1067.7 617.3 L1067.8 648.3 L1067.9 539.5 L1068.1 627.4 L1068.2 612.2 L1068.4 579.5 L1068.5 600.2 L1068.6 587.7 L1068.8 591.8 L1068.9 586.5 L1069.0 588.7 L1069.2 616.9 L1069.3 571.2 L1069.4 545.6 L1069.6 589.0 L1069.7 601.1 L1069.8 660.8 L1070.0 564.6 L1070.1 616.7 L1070.2 571.6 L1070.4 579.5 L1070.5 608.2 L1070.6 582.0 L1070.8 558.5 L1070.9 617.0 L1071.0 637.8 L1071.2 562.3 L1071.3 581.5 L1071.5 539.4 L1071.6 601.5 L1071.7 577.0 L1071.9 610.7 L1072.0 578.7 L1072.1 636.1 L1072.3 594.7 L1072.4 595.1 L1072.5 583.9 L1072.7 626.8 L1072.8 568.2 L1072.9 611.9 L1073.1 635.4 L1073.2 555.8 L1073.3 552.0 L1073.5 631.9 L1073.6 584.0 L1073.7 659.8 L1073.9 610.9 L1074.0 594.6 L1074.1 616.4 L1074.2 588.2 L1074.4 578.2 L1074.5 562.0 L1074.6 561.9 L1074.8 595.4 L1074.9 592.4 L1075.0 566.7 L1075.2 612.1 L1075.3 571.2 L1075.4 604.5 L1075.6 639.1 L1075.7 541.2 L1075.8 623.7 L1076.0 635.5 L1076.1 576.6 L1076.2 633.9 L1076.4 601.3 L1076.5 637.5 L1076.6 611.8 L1076.8 576.6 L1076.9 585.8 L1077.0 561.3 L1077.1 588.2 L1077.3 617.0 L1077.4 649.6 L1077.5 583.7 L1077.7 632.6 L1077.8 589.0 L1077.9 606.7 L1078.1 559.8 L1078.2 542.7 L1078.3 604.1 L1078.5 537.3 L1078.6 631.1 L1078.7 612.4 L1078.8 627.5 L1079.0 563.3 L1079.1 599.6 L1079.2 677.7 L1079.4 567.0 L1079.5 681.0 L1079.6 610.4 L1079.8 562.6 L1079.9 580.2 L1080.0 583.4 L1080.1 611.7 L1080.3 571.8 L1080.4 593.7 L1080.5 592.0 L1080.7 609.7 L1080.8 629.8 L1080.9 615.5 L1081.0 680.8 L1081.2 582.8 L1081.3 615.2 L1081.4 567.8 L1081.6 554.4 L1081.7 617.1 L1081.8 633.7 L1081.9 559.7 L1082.1 562.9 L1082.2 652.8 L1082.3 602.4 L1082.5 616.6 L1082.6 663.4 L1082.7 590.8 L1082.8 676.9 L1083.0 618.5 L1083.1 553.6 L1083.2 607.9 L1083.3 629.8 L1083.5 614.6 L1083.6 569.2 L1083.7 614.9 L1083.9 677.8 L1084.0 614.6 L1084.1 596.9 L1084.2 613.8 L1084.4 577.9 L1084.5 655.8 L1084.6 588.0 L1084.7 603.5 L1084.9 555.1 L1085.0 625.5 L1085.1 672.2 L1085.3 591.7 L1085.4 588.6 L1085.5 576.2 L1085.6 657.9 L1085.8 597.4 L1085.9 545.2 L1086.0 610.6 L1086.1 589.4 L1086.3 608.8 L1086.4 674.5 L1086.5 600.2 L1086.6 591.4 L1086.8 644.2 L1086.9 561.9 L1087.0 593.8 L1087.1 573.4 L1087.3 592.7 L1087.4 546.3 L1087.5 571.1 L1087.6 605.9 L1087.8 706.0 L1087.9 611.1 L1088.0 565.6 L1088.1 621.7 L1088.3 576.4 L1088.4 660.7 L1088.5 591.2 L1088.6 636.7 L1088.8 595.9 L1088.9 596.9 L1089.0 582.0 L1089.1 634.2 L1089.3 615.3 L1089.4 579.8 L1089.5 623.1 L1089.6 628.2 L1089.8 654.6 L1089.9 683.7 L1090.0 578.9 L1090.1 642.4 L1090.3 593.5 L1090.4 648.0 L1090.5 633.1 L1090.6 593.3 L1090.8 626.0 L1090.9 608.1 L1091.0 676.8 L1091.1 527.3 L1091.3 647.4 L1091.4 621.8 L1091.5 584.0 L1091.6 650.0 L1091.7 603.8 L1091.9 574.0 L1092.0 574.9 L1092.1 637.1 L1092.2 613.3 L1092.4 642.6 L1092.5 661.2 L1092.6 683.1 L1092.7 636.2 L1092.9 623.4 L1093.0 579.9 L1093.1 618.3 L1093.2 613.7 L1093.3 608.1 L1093.5 562.5 L1093.6 651.4 L1093.7 639.3 L1093.8 656.1 L1094.0 564.8 L1094.1 638.4 L1094.2 561.2 L1094.3 611.7 L1094.4 602.2 L1094.6 619.0 L1094.7 610.1 L1094.8 607.8 L1094.9 614.8 L1095.1 592.9 L1095.2 600.7 L1095.3 653.6 L1095.4 669.7 L1095.5 617.8 L1095.7 663.4 L1095.8 601.0 L1095.9 621.4 L1096.0 574.5 L1096.1 652.4 L1096.3 605.5 L1096.4 584.0 L1096.5 609.5 L1096.6 606.6 L1096.7 618.0 L1096.9 603.9 L1097.0 589.4 L1097.1 645.2 L1097.2 627.5 L1097.3 634.7 L1097.5 606.9 L1097.6 570.4 L1097.7 572.9 L1097.8 641.9 L1098.0 607.8 L1098.1 603.2 L1098.2 645.6 L1098.3 619.2 L1098.4 526.4 L1098.6 614.1 L1098.7 616.3 L1098.8 578.3 L1098.9 634.1 L1099.0 640.4 L1099.1 605.2 L1099.3 583.1 L1099.4 594.1 L1099.5 604.2 L1099.6 618.8 L1099.7 611.3 L1099.9 636.9 L1100.0 583.0 L1100.1 593.6 L1100.2 603.1 L1100.3 682.7 L1100.5 648.4 L1100.6 608.3 L1100.7 608.1 L1100.8 615.8 L1100.9 637.2 L1101.1 614.4 L1101.2 659.3 L1101.3 600.9 L1101.4 633.1 L1101.5 624.9 L1101.6 629.6 L1101.8 606.3 L1101.9 659.6 L1102.0 672.9 L1102.1 652.2 L1102.2 643.5 L1102.4 599.3 L1102.5 632.7 L1102.6 590.8 L1102.7 680.2 L1102.8 662.0 L1102.9 604.4 L1103.1 623.6 L1103.2 609.1 L1103.3 626.1 L1103.4 639.4 L1103.5 618.3 L1103.6 594.2 L1103.8 625.6 L1103.9 569.5 L1104.0 582.4 L1104.1 604.7 L1104.2 569.0 L1104.3 613.9 L1104.5 587.8 L1104.6 583.4 L1104.7 612.2 L1104.8 622.4 L1104.9 602.9 L1105.0 585.0 L1105.2 640.3 L1105.3 632.4 L1105.4 625.5 L1105.5 553.3 L1105.6 636.5 L1105.7 677.1 L1105.9 628.7 L1106.0 613.2 L1106.1 586.3 L1106.2 639.6 L1106.3 606.2 L1106.4 573.4 L1106.6 589.5 L1106.7 642.3 L1106.8 636.9 L1106.9 620.8 L1107.0 604.9 L1107.1 647.5 L1107.3 648.3 L1107.4 608.8 L1107.5 696.1 L1107.6 634.4 L1107.7 584.9 L1107.8 582.3 L1107.9 621.9 L1108.1 681.5 L1108.2 640.0 L1108.3 682.4 L1108.4 658.2 L1108.5 596.5 L1108.6 609.7 L1108.8 634.3 L1108.9 620.8 L1109.0 589.2 L1109.1 592.9 L1109.2 588.1 L1109.3 622.0 L1109.4 614.9 L1109.6 590.9 L1109.7 606.9 L1109.8 690.0 L1109.9 654.1 L1110.0 638.3 L1110.1 616.6 L1110.2 583.6 L1110.4 609.7 L1110.5 596.9 L1110.6 574.1 L1110.7 622.8 L1110.8 590.9 L1110.9 595.4 L1111.0 644.8 L1111.2 665.3 L1111.3 602.4 L1111.4 638.7 L1111.5 635.4 L1111.6 672.2 L1111.7 689.8 L1111.8 634.9 L1111.9 698.6 L1112.1 633.2 L1112.2 629.6 L1112.3 611.7 L1112.4 634.1 L1112.5 561.9 L1112.6 594.4 L1112.7 604.3 L1112.9 571.4 L1113.0 650.3 L1113.1 625.2 L1113.2 650.4 L1113.3 663.3 L1113.4 598.7 L1113.5 628.3 L1113.6 621.2 L1113.8 592.3 L1113.9 670.8 L1114.0 618.1 L1114.1 639.4 L1114.2 614.9 L1114.3 656.6 L1114.4 618.3 L1114.5 613.4 L1114.7 686.4 L1114.8 629.9 L1114.9 603.5 L1115.0 619.3 L1115.1 599.8 L1115.2 553.0 L1115.3 623.9 L1115.4 619.9 L1115.5 630.4 L1115.7 633.3 L1115.8 595.0 L1115.9 651.8 L1116.0 621.0 L1116.1 619.5 L1116.2 618.1 L1116.3 606.2 L1116.4 617.2 L1116.5 610.4 L1116.7 649.3 L1116.8 626.3 L1116.9 619.2 L1117.0 603.8 L1117.1 567.3 L1117.2 609.6 L1117.3 586.0 L1117.4 622.2 L1117.5 621.7 L1117.7 646.7 L1117.8 630.9 L1117.9 592.3 L1118.0 616.2 L1118.1 595.9 L1118.2 646.5 L1118.3 612.3 L1118.4 636.6 L1118.5 663.8 L1118.7 654.4 L1118.8 604.8 L1118.9 631.5 L1119.0 615.6 L1119.1 625.5 L1119.2 618.0 L1119.3 612.4 L1119.4 641.4 L1119.5 596.6 L1119.6 611.1 L1119.8 625.5 L1119.9 611.6 L1120.0 580.2 L1120.1 583.2 L1120.2 629.0 L1120.3 620.9 L1120.4 601.7 L1120.5 665.0 L1120.6 617.2 L1120.7 586.7 L1120.8 651.6 L1121.0 607.8 L1121.1 620.9 L1121.2 605.9 L1121.3 662.4 L1121.4 614.3 L1121.5 596.8 L1121.6 603.2 L1121.7 620.5 L1121.8 598.5 L1121.9 591.3 L1122.0 615.7 L1122.2 681.4 L1122.3 686.2 L1122.4 614.7 L1122.5 634.2 L1122.6 656.1 L1122.7 626.6 L1122.8 612.2 L1122.9 633.7 L1123.0 602.7 L1123.1 644.5 L1123.2 651.0 L1123.3 652.1 L1123.5 631.7 L1123.6 647.3 L1123.7 617.3 L1123.8 641.9 L1123.9 641.8 L1124.0 663.3 L1124.1 690.7 L1124.2 650.8 L1124.3 654.3 L1124.4 615.0 L1124.5 622.4 L1124.6 652.2 L1124.7 619.1 L1124.9 647.5 L1125.0 671.3 L1125.1 603.8 L1125.2 647.5 L1125.3 626.9 L1125.4 668.8 L1125.5 595.1 L1125.6 643.4 L1125.7 620.9 L1125.8 589.2 L1125.9 627.0 L1126.0 645.0 L1126.1 601.9 L1126.2 694.0 L1126.4 631.4 L1126.5 669.9 L1126.6 652.1 L1126.7 597.0 L1126.8 628.1 L1126.9 644.2 L1127.0 647.5 L1127.1 652.0 L1127.2 640.3 L1127.3 676.3 L1127.4 627.5 L1127.5 637.5 L1127.6 682.4 L1127.7 668.6 L1127.8 595.8 L1127.9 704.0 L1128.1 603.7 L1128.2 631.9 L1128.3 646.0 L1128.4 605.0 L1128.5 641.7 L1128.6 639.8 L1128.7 620.3 L1128.8 603.8 L1128.9 627.2 L1129.0 587.3 L1129.1 688.6 L1129.2 621.2 L1129.3 617.2 L1129.4 619.5 L1129.5 663.8 L1129.6 637.6 L1129.7 633.7 L1129.9 649.4 L1130.0 641.0 L1130.1 689.2 L1130.2 625.9 L1130.3 659.1 L1130.4 656.1 L1130.5 704.8 L1130.6 593.1 L1130.7 634.2 L1130.8 630.3 L1130.9 657.9 L1131.0 717.9 L1131.1 680.6 L1131.2 603.5 L1131.3 686.9 L1131.4 682.7 L1131.5 634.0 L1131.6 642.1 L1131.7 671.5 L1131.8 633.6 L1131.9 647.4 L1132.1 653.9 L1132.2 607.3 L1132.3 708.7 L1132.4 621.3 L1132.5 673.9 L1132.6 630.9 L1132.7 625.2 L1132.8 601.9 L1132.9 636.0 L1133.0 656.4 L1133.1 638.7 L1133.2 639.7 L1133.3 647.5 L1133.4 628.0 L1133.5 702.9 L1133.6 632.1 L1133.7 662.8 L1133.8 636.9 L1133.9 622.9 L1134.0 645.2 L1134.1 634.3 L1134.2 600.7 L1134.3 648.8 L1134.4 642.3 L1134.5 665.6 L1134.6 600.0 L1134.7 594.8 L1134.8 705.9 L1135.0 622.0 L1135.1 693.8 L1135.2 713.2 L1135.3 684.9 L1135.4 657.2 L1135.5 588.5 L1135.6 605.7 L1135.7 678.5 L1135.8 650.0 L1135.9 614.1 L1136.0 650.8 L1136.1 633.6 L1136.2 648.4 L1136.3 634.5 L1136.4 633.7 L1136.5 671.8 L1136.6 663.3 L1136.7 714.4 L1136.8 619.7 L1136.9 692.5 L1137.0 610.8 L1137.1 654.9 L1137.2 604.9 L1137.3 610.8 L1137.4 642.8 L1137.5 613.9 L1137.6 625.4 L1137.7 684.5 L1137.8 611.9 L1137.9 653.3 L1138.0 634.0 L1138.1 619.9 L1138.2 665.4 L1138.3 662.5 L1138.4 646.4 L1138.5 674.1 L1138.6 656.1" fill="none" stroke="#878787" stroke-width="4.4" stroke-linejoin="round" stroke-linecap="round"/>
<path d="M180.7 136.8 L193.7 136.8 L193.7 755.5 L1138.7 755.5" fill="none" stroke="#000" stroke-width="6.9" stroke-linejoin="round" stroke-linecap="round"/>
<line x1="180.7" y1="136.8" x2="193.7" y2="136.8" stroke="#000" stroke-width="7.1" stroke-linecap="round"/>
<text x="171.2" y="150.0" font-size="51" text-anchor="end" >10</text>
<line x1="180.7" y1="280.8" x2="193.7" y2="280.8" stroke="#000" stroke-width="7.1" stroke-linecap="round"/>
<text x="171.2" y="294.0" font-size="51" text-anchor="end" >1</text>
<line x1="180.7" y1="424.8" x2="193.7" y2="424.8" stroke="#000" stroke-width="7.1" stroke-linecap="round"/>
<text x="171.2" y="438.0" font-size="51" text-anchor="end" >0.1</text>
<line x1="180.7" y1="568.8" x2="193.7" y2="568.8" stroke="#000" stroke-width="7.1" stroke-linecap="round"/>
<text x="171.2" y="582.0" font-size="51" text-anchor="end" >0.01</text>
<line x1="180.7" y1="712.8" x2="193.7" y2="712.8" stroke="#000" stroke-width="7.1" stroke-linecap="round"/>
<text x="171.2" y="726.0" font-size="51" text-anchor="end" >1E-3</text>
<line x1="361.1" y1="755.5" x2="361.1" y2="761.9" stroke="#000" stroke-width="7.2" stroke-linecap="round"/>
<line x1="459.1" y1="755.5" x2="459.1" y2="761.9" stroke="#000" stroke-width="7.2" stroke-linecap="round"/>
<line x1="528.6" y1="755.5" x2="528.6" y2="761.9" stroke="#000" stroke-width="7.2" stroke-linecap="round"/>
<line x1="582.5" y1="755.5" x2="582.5" y2="761.9" stroke="#000" stroke-width="7.2" stroke-linecap="round"/>
<line x1="626.5" y1="755.5" x2="626.5" y2="761.9" stroke="#000" stroke-width="7.2" stroke-linecap="round"/>
<line x1="663.7" y1="755.5" x2="663.7" y2="761.9" stroke="#000" stroke-width="7.2" stroke-linecap="round"/>
<line x1="696.0" y1="755.5" x2="696.0" y2="761.9" stroke="#000" stroke-width="7.2" stroke-linecap="round"/>
<line x1="724.4" y1="755.5" x2="724.4" y2="761.9" stroke="#000" stroke-width="7.2" stroke-linecap="round"/>
<line x1="917.3" y1="755.5" x2="917.3" y2="761.9" stroke="#000" stroke-width="7.2" stroke-linecap="round"/>
<line x1="1015.3" y1="755.5" x2="1015.3" y2="761.9" stroke="#000" stroke-width="7.2" stroke-linecap="round"/>
<line x1="1084.8" y1="755.5" x2="1084.8" y2="761.9" stroke="#000" stroke-width="7.2" stroke-linecap="round"/>
<line x1="1138.7" y1="755.5" x2="1138.7" y2="761.9" stroke="#000" stroke-width="7.2" stroke-linecap="round"/>
<line x1="193.7" y1="755.5" x2="193.7" y2="768.4" stroke="#000" stroke-width="7.2" stroke-linecap="round"/>
<line x1="749.9" y1="755.5" x2="749.9" y2="768.4" stroke="#000" stroke-width="7.2" stroke-linecap="round"/>
<text x="191.5" y="807.7" font-size="51" text-anchor="middle" >1</text>
<text x="750.5" y="807.7" font-size="51" text-anchor="middle" >10</text>
<text x="1140.0" y="807.7" font-size="51" text-anchor="middle" >50</text>
<text x="683.0" y="861.0" font-size="55" text-anchor="middle" >frquency(Hz)</text>
<text transform="translate(63.5 409.2) rotate(-90)" font-size="51.6" text-anchor="middle">Power (mv<tspan font-size="31" dy="-27">2</tspan><tspan dy="27">)</tspan></text>
<path d="M187.6 97.5 L192.2 52.9 L197.3 113.1 L200.0 72.9 L204.5 91.5 L208.3 75.9 L213.0 115.1 L217.9 86.4 L221.3 96.7 L226.0 69.8 L229.1 94.9 L234.9 52.1 L237.5 114.8 L241.8 77.2 L246.6 102.7 L251.5 72.3 L255.4 117.4 L260.0 93.2 L263.7 114.2 L267.1 95.9 L271.3 121.4 L276.1 100.7 L279.3 145.2 L284.7 105.0 L289.0 127.0 L292.8 75.5 L296.4 100.7 L299.9 99.3 L304.3 117.0 L308.4 76.7 L312.6 106.4 L317.1 67.0 L321.4 81.3 L324.9 41.0 L330.2 108.5 L334.2 77.0 L338.6 102.1 L341.6 105.4 L346.4 126.1 L350.7 109.6 L354.3 118.4 L358.5 86.7 L363.4 98.8 L367.2 78.0 L371.9 107.9 L375.2 63.9 L380.1 96.9 L384.3 69.3 L388.3 105.9 L392.7 85.6 L396.4 94.2 L400.1 78.1 L403.9 129.6 L409.1 121.1 L411.9 137.5 L416.5 86.2 L420.3 107.8 L425.2 74.3 L430.0 110.6 L433.0 84.9 L438.1 113.2 L442.3 62.6 L446.1 103.0 L449.4 83.4 L454.8 118.1 L458.2 84.4 L462.9 140.3 L466.5 116.8 L471.5 147.0 L475.3 138.0 L478.3 147.3 L482.5 108.7 L488.0 168.9 L491.2 105.0 L495.4 132.4 L498.8 95.7 L504.2 98.3 L508.7 58.6 L513.0 112.3 L515.7 45.2 L521.2 95.1 L524.0 43.5 L528.5 91.8 L532.7 74.1 L537.2 130.4 L541.3 95.0 L545.5 139.4 L549.6 93.0 L554.6 116.5 L557.3 56.6 L561.4 82.1 L566.8 86.1 L569.9 106.7 L574.8 89.3 L579.5 117.4 L581.9 85.1 L587.5 124.9 L590.1 64.1 L595.2 90.8" fill="none" stroke="#000" stroke-width="3.3" stroke-linejoin="round" stroke-linecap="round"/>
<path d="M620.0 134.4 L624.0 122.1 L627.4 121.9 L631.6 98.1 L633.9 111.7 L637.7 83.7 L641.1 134.6 L645.3 107.1 L648.0 123.6 L652.5 91.8 L654.6 131.6 L659.1 84.9 L663.0 133.3 L666.4 114.3 L669.0 150.7 L672.1 115.5 L677.0 142.2 L680.8 89.0 L683.9 101.8 L686.6 100.5 L691.0 104.9 L694.3 78.6 L697.3 97.6 L701.2 76.1 L704.4 96.1 L708.1 61.4 L711.9 114.8 L714.3 88.0 L719.2 96.1 L722.9 72.7 L725.8 87.4 L729.5 83.0 L731.7 100.4 L735.4 76.7 L740.2 116.3 L743.4 111.8 L746.5 130.5 L749.3 124.1 L753.5 138.9 L757.0 109.0 L760.2 121.0 L763.2 92.7 L767.4 121.8 L770.3 92.4 L773.7 125.9 L778.3 95.0 L782.1 100.5 L784.3 84.6 L787.9 124.8 L792.0 86.2 L795.0 118.1 L799.5 114.7 L802.7 108.3 L805.9 111.2 L810.3 136.6 L813.4 91.5 L816.0 120.4 L819.4 95.7 L823.6 116.7 L826.7 89.4 L831.2 99.2 L833.3 78.3 L837.2 83.5 L840.5 82.6 L844.9 108.6 L848.6 106.8 L851.9 132.0 L854.4 103.7 L859.1 126.8 L861.1 103.0 L865.3 111.8 L869.8 101.8 L873.3 116.7 L875.2 103.4 L879.8 133.3 L882.4 100.2 L886.6 108.8 L889.5 113.5 L892.9 109.6 L897.0 101.5 L900.6 125.6 L903.9 121.0 L907.5 138.1 L910.7 111.7 L915.2 149.3 L917.6 123.1 L922.1 151.2 L925.2 116.4 L928.8 145.8 L931.2 129.8 L935.8 138.5 L939.9 102.0 L942.5 94.7 L946.8 72.1 L949.4 60.4 L952.5 68.1 L957.0 65.9 L960.5 32.2 L962.7 58.5 L967.5 69.6 L970.4 80.0 L974.6 72.6 L977.3 79.6 L980.5 63.9 L985.2 92.2 L988.2 112.4 L992.1 143.3 L994.2 144.3 L998.9 149.4 L1002.5 128.1 L1005.3 131.6 L1008.5 114.7 L1011.9 100.9 L1016.7 99.3 L1019.9 73.3 L1023.7 93.1 L1026.1 98.7" fill="none" stroke="#878787" stroke-width="4.5" stroke-linejoin="round" stroke-linecap="round"/>
<line x1="1066.5" y1="25.5" x2="1157.5" y2="25.5" stroke="#000" stroke-width="4.5" stroke-linecap="round"/>
<line x1="1066.5" y1="75.0" x2="1157.5" y2="75.0" stroke="#878787" stroke-width="4.5" stroke-linecap="round"/>
<text x="1168.4" y="37.0" font-size="36.3" text-anchor="start" letter-spacing="2.2">Con</text>
<text x="1168.4" y="87.0" font-size="36.3" text-anchor="start" letter-spacing="2.2">2VO</text>
<line x1="1046.5" y1="83.0" x2="1046.5" y2="180.0" stroke="#000" stroke-width="3.6" stroke-linecap="round"/>
<line x1="953.0" y1="178.0" x2="1050.1" y2="178.0" stroke="#000" stroke-width="3.6" stroke-linecap="round"/>
<text x="1065.5" y="157.9" font-size="49" text-anchor="start" >0.2mv</text>
<text x="997.5" y="232.0" font-size="49" text-anchor="middle" >1s</text>
<text x="33.5" y="934.3" font-size="47" text-anchor="start" >C</text>
<path d="M193.9 1218.2 L198.9 1251.6 L203.8 1257.6 L208.6 1243.8 L213.3 1228.1 L217.9 1234.5 L222.5 1236.1 L226.9 1248.8 L231.3 1235.6 L235.6 1242.5 L239.8 1220.0 L243.9 1242.3 L248.0 1245.7 L252.0 1272.0 L255.9 1228.9 L259.8 1252.4 L263.6 1276.6 L267.3 1236.9 L271.0 1267.5 L274.7 1223.6 L278.3 1232.6 L281.8 1248.9 L285.3 1278.5 L288.7 1280.7 L292.1 1241.8 L295.4 1255.3 L298.7 1244.7 L302.0 1242.3 L305.2 1273.2 L308.3 1238.5 L311.5 1248.2 L314.5 1228.3 L317.6 1253.1 L320.6 1283.7 L323.5 1253.4 L326.5 1262.7 L329.4 1252.1 L332.2 1268.5 L335.1 1245.3 L337.8 1225.4 L340.6 1241.8 L343.3 1235.6 L346.0 1250.6 L348.7 1281.4 L351.3 1240.7 L354.0 1263.9 L356.5 1252.6 L359.1 1227.8 L361.6 1238.8 L364.1 1236.9 L366.6 1259.5 L369.1 1248.7 L371.5 1253.7 L373.9 1256.0 L376.3 1241.6 L378.6 1274.8 L381.0 1226.4 L383.3 1245.5 L385.6 1222.5 L387.8 1256.0 L390.1 1231.8 L392.3 1239.2 L394.5 1247.9 L396.7 1255.7 L398.9 1255.1 L401.0 1263.4 L403.1 1249.6 L405.2 1235.9 L407.3 1233.1 L409.4 1243.5 L411.5 1258.8 L413.5 1254.2 L415.5 1257.0 L417.5 1244.5 L419.5 1246.4 L421.5 1272.4 L423.4 1260.2 L425.4 1239.7 L427.3 1270.4 L429.2 1256.5 L431.1 1252.2 L433.0 1262.0 L434.8 1247.2 L436.7 1281.7 L438.5 1230.4 L440.3 1221.7 L442.1 1276.4 L443.9 1235.2 L445.7 1263.7 L447.5 1240.4 L449.2 1219.5 L451.0 1274.9 L452.7 1239.2 L454.4 1229.6 L456.1 1266.1 L457.8 1261.1 L459.5 1248.2 L461.2 1231.8 L462.8 1231.6 L464.5 1237.6 L466.1 1254.8 L467.7 1240.2 L469.4 1244.5 L471.0 1279.7 L472.5 1248.5 L474.1 1230.1 L475.7 1239.6 L477.3 1249.8 L478.8 1262.0 L480.4 1226.3 L481.9 1236.9 L483.4 1187.0 L484.9 1169.9 L486.4 1109.5 L487.9 1184.1 L489.4 1187.7 L490.9 1185.2 L492.3 1195.1 L493.8 1222.0 L495.2 1226.9 L496.7 1223.1 L498.1 1232.6 L499.5 1234.7 L501.0 1231.4 L502.4 1231.9 L503.8 1217.1 L505.1 1225.4 L506.5 1218.4 L507.9 1218.4 L509.3 1204.3 L510.6 1198.9 L512.0 1189.4 L513.3 1187.5 L514.7 1183.7 L516.0 1171.7 L517.3 1160.2 L518.6 1160.6 L519.9 1148.5 L521.2 1137.8 L522.5 1137.9 L523.8 1125.9 L525.1 1137.2 L526.4 1143.2 L527.6 1151.8 L528.9 1158.4 L530.1 1163.4 L531.4 1181.2 L532.6 1194.5 L533.9 1191.7 L535.1 1199.0 L536.3 1219.6 L537.5 1210.2 L538.7 1208.5 L539.9 1220.7 L541.1 1226.6 L542.3 1219.8 L543.5 1222.2 L544.7 1234.4 L545.8 1234.8 L547.0 1235.3 L548.2 1238.8 L549.3 1261.0 L550.5 1258.4 L551.6 1240.0 L552.8 1233.7 L553.9 1255.7 L555.0 1238.6 L556.2 1247.1 L557.3 1254.4 L558.4 1240.5 L559.5 1235.0 L560.6 1256.7 L561.7 1255.5 L562.8 1263.9 L563.9 1253.9 L565.0 1268.5 L566.0 1284.8 L567.1 1290.2 L568.2 1280.2 L569.2 1289.3 L570.3 1286.4 L571.4 1284.8 L572.4 1288.5 L573.5 1277.1 L574.5 1293.8 L575.5 1299.0 L576.6 1307.9 L577.6 1274.4 L578.6 1292.1 L579.6 1287.9 L580.6 1288.5 L581.7 1312.9 L582.7 1296.1 L583.7 1297.9 L584.7 1316.3 L585.7 1306.8 L586.6 1295.1 L587.6 1292.4 L588.6 1275.6 L589.6 1282.7 L590.6 1305.9 L591.5 1305.3 L592.5 1309.8 L593.5 1318.6 L594.4 1302.6 L595.4 1299.7 L596.3 1320.5 L597.3 1323.4 L598.2 1321.7 L599.2 1347.7 L600.1 1315.5 L601.0 1298.9 L602.0 1319.3 L602.9 1335.9 L603.8 1321.5 L604.7 1316.1 L605.6 1327.3 L606.5 1336.8 L607.4 1326.4 L608.4 1328.8 L609.3 1325.8 L610.2 1319.7 L611.0 1341.3 L611.9 1334.4 L612.8 1331.4 L613.7 1327.2 L614.6 1334.7 L615.5 1325.9 L616.3 1334.4 L617.2 1359.4 L618.1 1323.1 L618.9 1348.1 L619.8 1328.8 L620.7 1326.4 L621.5 1352.9 L622.4 1364.1 L623.2 1348.8 L624.1 1353.0 L624.9 1340.3 L625.8 1389.8 L626.6 1344.5 L627.4 1358.6 L628.3 1370.2 L629.1 1351.2 L629.9 1361.2 L630.7 1342.4 L631.6 1348.2 L632.4 1365.4 L633.2 1352.1 L634.0 1361.8 L634.8 1334.3 L635.6 1369.5 L636.4 1350.5 L637.2 1355.3 L638.0 1369.2 L638.8 1375.5 L639.6 1364.7 L640.4 1373.7 L641.2 1344.4 L642.0 1410.5 L642.8 1367.0 L643.5 1372.4 L644.3 1360.4 L645.1 1357.5 L645.9 1369.6 L646.6 1374.7 L647.4 1380.7 L648.2 1371.2 L648.9 1360.9 L649.7 1391.3 L650.5 1363.9 L651.2 1366.6 L652.0 1383.5 L652.7 1387.3 L653.5 1383.9 L654.2 1378.8 L655.0 1389.6 L655.7 1373.4 L656.5 1403.1 L657.2 1375.6 L657.9 1402.7 L658.7 1382.7 L659.4 1369.6 L660.1 1414.8 L660.8 1399.9 L661.6 1383.4 L662.3 1408.2 L663.0 1387.5 L663.7 1403.7 L664.4 1418.4 L665.2 1375.6 L665.9 1397.7 L666.6 1409.8 L667.3 1400.5 L668.0 1406.9 L668.7 1408.2 L669.4 1383.5 L670.1 1405.9 L670.8 1394.0 L671.5 1398.0 L672.2 1399.7 L672.9 1418.6 L673.6 1416.8 L674.2 1407.5 L674.9 1392.7 L675.6 1424.6 L676.3 1432.1 L677.0 1401.2 L677.7 1400.4 L678.3 1408.6 L679.0 1406.0 L679.7 1418.4 L680.3 1400.8 L681.0 1436.7 L681.7 1396.1 L682.3 1418.0 L683.0 1382.5 L683.7 1404.3 L684.3 1399.5 L685.0 1403.6 L685.6 1410.5 L686.3 1396.9 L686.9 1404.4 L687.6 1398.0 L688.2 1414.8 L688.9 1420.3 L689.5 1399.5 L690.2 1411.0 L690.8 1396.3 L691.5 1408.5 L692.1 1420.9 L692.7 1407.3 L693.4 1410.1 L694.0 1413.2 L694.6 1417.6 L695.3 1434.1 L695.9 1413.1 L696.5 1435.5 L697.1 1423.3 L697.8 1401.1 L698.4 1423.4 L699.0 1409.5 L699.6 1427.4 L700.2 1423.5 L700.9 1423.2 L701.5 1413.9 L702.1 1413.5 L702.7 1443.2 L703.3 1417.2 L703.9 1416.3 L704.5 1443.5 L705.1 1408.6 L705.7 1411.7 L706.3 1428.0 L706.9 1434.1 L707.5 1446.7 L708.1 1424.6 L708.7 1417.3 L709.3 1434.4 L709.9 1421.7 L710.5 1421.4 L711.1 1431.3 L711.7 1437.4 L712.3 1427.6 L712.8 1421.7 L713.4 1438.6 L714.0 1446.6 L714.6 1445.6 L715.2 1434.8 L715.7 1449.7 L716.3 1441.3 L716.9 1453.6 L717.5 1428.7 L718.0 1432.0 L718.6 1432.6 L719.2 1447.7 L719.8 1442.8 L720.3 1448.1 L720.9 1442.9 L721.5 1484.2 L722.0 1435.6 L722.6 1427.6 L723.1 1444.1 L723.7 1441.6 L724.3 1437.5 L724.8 1449.0 L725.4 1432.0 L725.9 1443.5 L726.5 1423.7 L727.0 1462.2 L727.6 1425.9 L728.1 1431.2 L728.7 1436.0 L729.2 1423.5 L729.8 1424.5 L730.3 1415.2 L730.9 1445.7 L731.4 1458.4 L731.9 1467.5 L732.5 1446.9 L733.0 1430.1 L733.5 1458.2 L734.1 1442.3 L734.6 1458.7 L735.2 1432.4 L735.7 1452.0 L736.2 1429.8 L736.7 1432.1 L737.3 1433.4 L737.8 1441.2 L738.3 1432.6 L738.9 1455.5 L739.4 1438.6 L739.9 1420.7 L740.4 1420.7 L740.9 1442.7 L741.5 1458.7 L742.0 1428.1 L742.5 1452.2 L743.0 1427.7 L743.5 1442.7 L744.0 1443.3 L744.6 1428.1 L745.1 1447.5 L745.6 1444.7 L746.1 1450.8 L746.6 1468.6 L747.1 1438.4 L747.6 1445.1 L748.1 1437.2 L748.6 1447.8 L749.1 1460.2 L749.6 1458.6 L750.1 1471.5 L750.6 1456.2 L751.1 1444.0 L751.6 1445.9 L752.1 1455.2 L752.6 1454.4 L753.1 1457.0 L753.6 1455.9 L754.1 1440.6 L754.6 1472.6 L755.1 1445.8 L755.6 1457.1 L756.1 1462.8 L756.5 1453.4 L757.0 1453.8 L757.5 1449.3 L758.0 1462.5 L758.5 1442.8 L759.0 1454.5 L759.5 1443.9 L759.9 1485.5 L760.4 1443.1 L760.9 1453.6 L761.4 1463.6 L761.9 1452.6 L762.3 1463.3 L762.8 1457.1 L763.3 1454.2 L763.8 1436.2 L764.2 1446.9 L764.7 1465.3 L765.2 1455.3 L765.6 1437.7 L766.1 1447.3 L766.6 1434.0 L767.0 1438.8 L767.5 1462.9 L768.0 1485.1 L768.4 1452.5 L768.9 1433.6 L769.4 1448.8 L769.8 1454.8 L770.3 1445.4 L770.7 1450.3 L771.2 1458.2 L771.7 1466.6 L772.1 1468.0 L772.6 1466.1 L773.0 1471.3 L773.5 1463.0 L773.9 1455.0 L774.4 1470.3 L774.8 1453.9 L775.3 1455.9 L775.7 1476.8 L776.2 1470.0 L776.6 1485.6 L777.1 1454.3 L777.5 1470.8 L778.0 1452.4 L778.4 1446.2 L778.9 1475.5 L779.3 1466.1 L779.8 1468.7 L780.2 1452.2 L780.6 1452.7 L781.1 1483.3 L781.5 1458.7 L782.0 1464.6 L782.4 1452.9 L782.8 1480.0 L783.3 1467.1 L783.7 1453.8 L784.1 1442.1 L784.6 1473.3 L785.0 1472.4 L785.4 1458.7 L785.9 1461.8 L786.3 1465.9 L786.7 1474.4 L787.2 1444.9 L787.6 1452.3 L788.0 1472.7 L788.5 1464.7 L788.9 1452.6 L789.3 1452.6 L789.7 1460.1 L790.2 1467.4 L790.6 1445.5 L791.0 1473.2 L791.4 1465.2 L791.8 1472.6 L792.3 1457.3 L792.7 1474.0 L793.1 1457.3 L793.5 1453.2 L793.9 1458.5 L794.4 1482.9 L794.8 1472.2 L795.2 1477.7 L795.6 1468.1 L796.0 1484.4 L796.4 1480.5 L796.8 1467.1 L797.3 1455.2 L797.7 1455.3 L798.1 1472.5 L798.5 1473.3 L798.9 1452.0 L799.3 1450.2 L799.7 1471.1 L800.1 1474.3 L800.5 1477.6 L800.9 1468.4 L801.3 1462.1 L801.7 1475.5 L802.1 1458.6 L802.5 1481.7 L803.0 1460.3 L803.4 1451.7 L803.8 1464.4 L804.2 1483.9 L804.6 1479.7 L805.0 1471.4 L805.4 1475.1 L805.7 1463.1 L806.1 1455.1 L806.5 1459.9 L806.9 1465.4 L807.3 1476.1 L807.7 1475.6 L808.1 1468.8 L808.5 1451.0 L808.9 1451.8 L809.3 1445.2 L809.7 1463.5 L810.1 1462.1 L810.5 1481.9 L810.9 1477.6 L811.2 1490.5 L811.6 1478.7 L812.0 1471.2 L812.4 1473.1 L812.8 1489.8 L813.2 1492.1 L813.6 1464.9 L813.9 1486.0 L814.3 1463.4 L814.7 1472.2 L815.1 1479.1 L815.5 1476.1 L815.9 1464.5 L816.2 1478.5 L816.6 1466.8 L817.0 1459.5 L817.4 1511.3 L817.8 1456.0 L818.1 1479.2 L818.5 1460.0 L818.9 1473.5 L819.3 1497.2 L819.6 1487.5 L820.0 1491.7 L820.4 1487.8 L820.8 1478.8 L821.1 1495.6 L821.5 1463.3 L821.9 1473.0 L822.3 1459.0 L822.6 1455.5 L823.0 1457.9 L823.4 1457.1 L823.7 1457.3 L824.1 1511.3 L824.5 1478.1 L824.8 1474.6 L825.2 1477.1 L825.6 1463.2 L825.9 1468.7 L826.3 1474.2 L826.7 1490.7 L827.0 1477.6 L827.4 1466.9 L827.8 1465.1 L828.1 1493.9 L828.5 1488.3 L828.8 1472.0 L829.2 1473.0 L829.6 1471.8 L829.9 1482.9 L830.3 1473.2 L830.6 1462.8 L831.0 1462.2 L831.4 1485.0 L831.7 1480.2 L832.1 1461.8 L832.4 1477.9 L832.8 1460.7 L833.1 1464.6 L833.5 1478.9 L833.8 1475.1 L834.2 1473.7 L834.5 1478.4 L834.9 1480.0 L835.2 1474.8 L835.6 1496.7 L836.0 1499.5 L836.3 1486.6 L836.6 1502.9 L837.0 1480.8 L837.3 1486.7 L837.7 1473.6 L838.0 1487.5 L838.4 1469.9 L838.7 1498.8 L839.1 1485.8 L839.4 1494.7 L839.8 1457.4 L840.1 1500.3 L840.5 1477.8 L840.8 1472.9 L841.1 1512.4 L841.5 1464.3 L841.8 1469.2 L842.2 1495.4 L842.5 1487.2 L842.9 1470.7 L843.2 1492.7 L843.5 1476.3 L843.9 1486.1 L844.2 1481.2 L844.6 1493.9 L844.9 1480.5 L845.2 1477.0 L845.6 1478.0 L845.9 1473.6 L846.2 1466.7 L846.6 1487.6 L846.9 1480.1 L847.2 1466.6 L847.6 1489.3 L847.9 1492.7 L848.2 1479.4 L848.6 1483.7 L848.9 1498.8 L849.2 1474.6 L849.6 1477.8 L849.9 1469.8 L850.2 1486.0 L850.6 1479.0 L850.9 1459.1 L851.2 1463.0 L851.6 1468.3 L851.9 1466.8 L852.2 1477.9 L852.5 1489.8 L852.9 1462.9 L853.2 1486.3 L853.5 1459.6 L853.8 1481.2 L854.2 1474.5 L854.5 1470.0 L854.8 1483.6 L855.1 1471.4 L855.5 1461.0 L855.8 1492.0 L856.1 1475.0 L856.4 1487.9 L856.8 1471.7 L857.1 1473.9 L857.4 1505.7 L857.7 1486.5 L858.0 1480.7 L858.4 1468.4 L858.7 1477.8 L859.0 1477.4 L859.3 1475.7 L859.6 1495.4 L859.9 1486.3 L860.3 1485.9 L860.6 1500.3 L860.9 1480.6 L861.2 1463.3 L861.5 1509.0 L861.8 1487.2 L862.2 1497.7 L862.5 1490.9 L862.8 1486.5 L863.1 1473.0 L863.4 1486.6 L863.7 1486.5 L864.0 1474.9 L864.3 1485.4 L864.7 1483.4 L865.0 1501.7 L865.3 1479.7 L865.6 1494.2 L865.9 1478.1 L866.2 1485.0 L866.5 1507.7 L866.8 1504.7 L867.1 1491.7 L867.4 1467.3 L867.7 1465.5 L868.1 1484.4 L868.4 1464.0 L868.7 1495.4 L869.0 1498.5 L869.3 1477.1 L869.6 1475.6 L869.9 1482.7 L870.2 1487.0 L870.5 1489.4 L870.8 1503.7 L871.1 1472.9 L871.4 1471.0 L871.7 1487.0 L872.0 1499.4 L872.3 1482.3 L872.6 1505.7 L872.9 1499.2 L873.2 1468.1 L873.5 1475.4 L873.8 1487.1 L874.1 1494.8 L874.4 1485.2 L874.7 1485.9 L875.0 1487.0 L875.3 1500.0 L875.6 1485.5 L875.9 1487.4 L876.2 1486.8 L876.5 1491.1 L876.8 1513.5 L877.1 1475.5 L877.4 1479.3 L877.7 1495.7 L878.0 1459.5 L878.3 1505.1 L878.6 1499.4 L878.8 1490.3 L879.1 1475.1 L879.4 1510.1 L879.7 1470.4 L880.0 1462.9 L880.3 1473.8 L880.6 1456.2 L880.9 1480.9 L881.2 1484.4 L881.5 1499.7 L881.8 1480.5 L882.0 1467.8 L882.3 1477.9 L882.6 1480.7 L882.9 1491.2 L883.2 1470.1 L883.5 1478.8 L883.8 1485.8 L884.1 1505.0 L884.4 1498.2 L884.6 1485.6 L884.9 1464.6 L885.2 1503.4 L885.5 1495.1 L885.8 1478.8 L886.1 1474.7 L886.3 1465.8 L886.6 1482.0 L886.9 1477.7 L887.2 1483.0 L887.5 1482.9 L887.8 1491.1 L888.0 1471.6 L888.3 1462.1 L888.6 1479.7 L888.9 1486.6 L889.2 1492.2 L889.5 1495.6 L889.7 1472.4 L890.0 1487.1 L890.3 1508.8 L890.6 1480.5 L890.9 1486.0 L891.1 1477.7 L891.4 1503.9 L891.7 1491.6 L892.0 1475.4 L892.2 1494.5 L892.5 1488.4 L892.8 1466.5 L893.1 1481.0 L893.4 1474.8 L893.6 1476.5 L893.9 1477.5 L894.2 1462.3 L894.5 1487.4 L894.7 1505.2 L895.0 1483.8 L895.3 1493.5 L895.5 1500.5 L895.8 1478.0 L896.1 1496.1 L896.4 1519.7 L896.6 1483.9 L896.9 1487.0 L897.2 1490.3 L897.5 1512.6 L897.7 1481.8 L898.0 1471.4 L898.3 1501.8 L898.5 1483.3 L898.8 1491.4 L899.1 1496.8 L899.3 1482.7 L899.6 1505.7 L899.9 1472.6 L900.2 1489.9 L900.4 1477.3 L900.7 1492.0 L901.0 1497.3 L901.2 1489.5 L901.5 1477.2 L901.8 1472.6 L902.0 1482.4 L902.3 1477.9 L902.6 1472.0 L902.8 1488.9 L903.1 1486.4 L903.4 1473.9 L903.6 1530.3 L903.9 1481.1 L904.1 1485.9 L904.4 1480.4 L904.7 1503.3 L904.9 1462.0 L905.2 1483.5 L905.5 1489.1 L905.7 1475.2 L906.0 1471.7 L906.2 1489.2 L906.5 1481.4 L906.8 1481.0 L907.0 1476.0 L907.3 1485.3 L907.6 1479.0 L907.8 1500.1 L908.1 1480.4 L908.3 1448.3 L908.6 1481.7 L908.9 1473.6 L909.1 1476.6 L909.4 1500.0 L909.6 1473.3 L909.9 1513.3 L910.1 1506.1 L910.4 1480.2 L910.7 1480.8 L910.9 1481.7 L911.2 1479.6 L911.4 1455.1 L911.7 1472.1 L911.9 1494.1 L912.2 1482.1 L912.4 1487.9 L912.7 1474.1 L913.0 1496.7 L913.2 1519.6 L913.5 1459.3 L913.7 1473.2 L914.0 1497.2 L914.2 1487.1 L914.5 1479.6 L914.7 1482.5 L915.0 1463.2 L915.2 1483.4 L915.5 1507.4 L915.7 1476.2 L916.0 1494.7 L916.2 1495.3 L916.5 1494.3 L916.7 1474.0 L917.0 1474.4 L917.2 1495.4 L917.5 1494.1 L917.7 1478.0 L918.0 1482.2 L918.2 1494.0 L918.5 1513.6 L918.7 1516.1 L919.0 1482.7 L919.2 1484.6 L919.5 1487.5 L919.7 1516.1 L920.0 1475.3 L920.2 1484.9 L920.5 1485.9 L920.7 1480.2 L921.0 1480.8 L921.2 1492.2 L921.5 1469.0 L921.7 1473.5 L921.9 1487.5 L922.2 1477.8 L922.4 1492.5 L922.7 1483.2 L922.9 1468.5 L923.2 1494.7 L923.4 1478.4 L923.7 1487.4 L923.9 1469.9 L924.1 1474.0 L924.4 1487.6 L924.6 1473.4 L924.9 1491.6 L925.1 1481.2 L925.4 1511.0 L925.6 1483.3 L925.8 1482.2 L926.1 1501.6 L926.3 1487.6 L926.6 1491.2 L926.8 1499.4 L927.0 1516.7 L927.3 1495.9 L927.5 1499.9 L927.8 1477.8 L928.0 1482.8 L928.2 1481.0 L928.5 1492.2 L928.7 1485.7 L929.0 1471.4 L929.2 1513.4 L929.4 1478.9 L929.7 1526.4 L929.9 1484.6 L930.1 1492.8 L930.4 1482.5 L930.6 1477.0 L930.8 1484.5 L931.1 1489.8 L931.3 1484.6 L931.6 1470.3 L931.8 1509.2 L932.0 1486.6 L932.3 1502.4 L932.5 1488.6 L932.7 1497.6 L933.0 1502.3 L933.2 1481.6 L933.4 1470.6 L933.7 1481.2 L933.9 1483.9 L934.1 1498.9 L934.4 1493.5 L934.6 1475.2 L934.8 1491.5 L935.1 1491.4 L935.3 1482.7 L935.5 1480.9 L935.8 1494.6 L936.0 1485.6 L936.2 1511.1 L936.5 1473.8 L936.7 1494.4 L936.9 1476.2 L937.1 1480.9 L937.4 1505.5 L937.6 1491.9 L937.8 1488.4 L938.1 1476.8 L938.3 1480.2 L938.5 1494.6 L938.7 1503.4 L939.0 1475.7 L939.2 1466.4 L939.4 1488.3 L939.7 1490.5 L939.9 1488.8 L940.1 1493.7 L940.3 1468.0 L940.6 1492.1 L940.8 1496.2 L941.0 1474.1 L941.2 1503.3 L941.5 1489.8 L941.7 1494.3 L941.9 1481.3 L942.2 1495.9 L942.4 1491.7 L942.6 1507.3 L942.8 1479.5 L943.1 1482.0 L943.3 1483.8 L943.5 1487.7 L943.7 1486.0 L943.9 1477.2 L944.2 1482.5 L944.4 1477.1 L944.6 1486.4 L944.8 1451.3 L945.1 1494.5 L945.3 1472.1 L945.5 1495.7 L945.7 1508.2 L946.0 1504.1 L946.2 1487.6 L946.4 1474.2 L946.6 1479.5 L946.8 1475.8 L947.1 1470.4 L947.3 1487.6 L947.5 1495.0 L947.7 1477.2 L947.9 1465.2 L948.2 1467.4 L948.4 1493.1 L948.6 1489.9 L948.8 1460.9 L949.0 1461.7 L949.3 1487.7 L949.5 1480.8 L949.7 1488.1 L949.9 1513.0 L950.1 1489.5 L950.3 1482.5 L950.6 1500.7 L950.8 1481.7 L951.0 1504.5 L951.2 1470.5 L951.4 1494.9 L951.7 1481.3 L951.9 1495.7 L952.1 1507.8 L952.3 1505.8 L952.5 1494.4 L952.7 1490.3 L952.9 1485.6 L953.2 1481.4 L953.4 1478.6 L953.6 1475.9 L953.8 1474.3 L954.0 1530.5 L954.2 1487.7 L954.5 1472.1 L954.7 1492.4 L954.9 1490.8 L955.1 1477.5 L955.3 1495.1 L955.5 1487.7 L955.7 1477.6 L955.9 1479.1 L956.2 1459.9 L956.4 1493.8 L956.6 1495.6 L956.8 1490.3 L957.0 1488.2 L957.2 1471.2 L957.4 1487.5 L957.6 1488.7 L957.9 1479.8 L958.1 1482.5 L958.3 1492.5 L958.5 1493.0 L958.7 1482.6 L958.9 1471.9 L959.1 1493.4 L959.3 1495.8 L959.5 1468.8 L959.7 1503.1 L960.0 1460.8 L960.2 1483.6 L960.4 1495.6 L960.6 1500.1 L960.8 1506.4 L961.0 1486.8 L961.2 1481.2 L961.4 1477.1 L961.6 1473.8 L961.8 1506.1 L962.0 1498.3 L962.2 1483.5 L962.5 1464.2 L962.7 1480.8 L962.9 1488.0 L963.1 1487.4 L963.3 1494.9 L963.5 1478.9 L963.7 1488.6 L963.9 1473.8 L964.1 1487.5 L964.3 1503.5 L964.5 1508.6 L964.7 1489.1 L964.9 1489.8 L965.1 1498.2 L965.3 1488.2 L965.5 1481.8 L965.7 1494.3 L966.0 1499.7 L966.2 1501.3 L966.4 1482.0 L966.6 1484.1 L966.8 1496.8 L967.0 1476.7 L967.2 1483.1 L967.4 1504.8 L967.6 1474.7 L967.8 1504.8 L968.0 1494.0 L968.2 1474.0 L968.4 1498.4 L968.6 1479.3 L968.8 1462.2 L969.0 1485.8 L969.2 1473.1 L969.4 1502.8 L969.6 1486.8 L969.8 1484.2 L970.0 1495.8 L970.2 1533.8 L970.4 1488.3 L970.6 1475.5 L970.8 1462.1 L971.0 1479.1 L971.2 1476.9 L971.4 1478.4 L971.6 1488.4 L971.8 1489.1 L972.0 1476.3 L972.2 1467.8 L972.4 1480.4 L972.6 1479.1 L972.8 1503.3 L973.0 1510.6 L973.2 1460.9 L973.4 1482.5 L973.6 1488.7 L973.8 1483.0 L974.0 1491.6 L974.2 1476.9 L974.4 1498.8 L974.6 1473.3 L974.8 1471.2 L975.0 1486.5 L975.2 1481.9 L975.4 1477.6 L975.6 1477.5 L975.8 1475.7 L975.9 1470.7 L976.1 1478.7 L976.3 1485.1 L976.5 1480.3 L976.7 1494.1 L976.9 1515.7 L977.1 1478.6 L977.3 1484.3 L977.5 1473.7 L977.7 1484.6 L977.9 1495.7 L978.1 1469.2 L978.3 1482.0 L978.5 1514.8 L978.7 1482.0 L978.9 1488.7 L979.1 1483.4 L979.3 1473.5 L979.4 1479.2 L979.6 1507.5 L979.8 1476.0 L980.0 1479.1 L980.2 1489.1 L980.4 1455.8 L980.6 1488.8 L980.8 1469.1 L981.0 1468.8 L981.2 1480.9 L981.4 1496.5 L981.6 1500.0 L981.8 1474.1 L981.9 1491.1 L982.1 1475.3 L982.3 1483.5 L982.5 1490.6 L982.7 1474.8 L982.9 1488.6 L983.1 1513.7 L983.3 1489.0 L983.5 1490.6 L983.7 1473.1 L983.8 1483.1 L984.0 1488.6 L984.2 1481.2 L984.4 1497.9 L984.6 1491.3 L984.8 1465.1 L985.0 1481.6 L985.2 1467.9 L985.4 1477.5 L985.5 1508.1 L985.7 1489.1 L985.9 1486.2 L986.1 1507.0 L986.3 1516.7 L986.5 1508.6 L986.7 1485.6 L986.9 1478.5 L987.0 1467.9 L987.2 1474.9 L987.4 1466.9 L987.6 1474.4 L987.8 1514.6 L988.0 1489.0 L988.2 1473.5 L988.4 1484.7 L988.5 1467.5 L988.7 1484.9 L988.9 1478.8 L989.1 1485.3 L989.3 1480.5 L989.5 1499.5 L989.6 1477.4 L989.8 1481.4 L990.0 1523.6 L990.2 1468.4 L990.4 1491.8 L990.6 1482.2 L990.8 1476.3 L990.9 1484.0 L991.1 1468.9 L991.3 1477.1 L991.5 1477.5 L991.7 1483.1 L991.9 1478.6 L992.0 1493.9 L992.2 1503.9 L992.4 1494.7 L992.6 1501.0 L992.8 1476.5 L993.0 1501.1 L993.1 1498.4 L993.3 1479.8 L993.5 1507.7 L993.7 1477.0 L993.9 1501.0 L994.0 1485.7 L994.2 1462.7 L994.4 1494.5 L994.6 1501.7 L994.8 1472.1 L995.0 1496.2 L995.1 1514.3 L995.3 1478.0 L995.5 1490.7 L995.7 1470.4 L995.9 1472.8 L996.0 1489.1 L996.2 1485.0 L996.4 1489.5 L996.6 1496.8 L996.8 1500.6 L996.9 1511.2 L997.1 1495.4 L997.3 1492.5 L997.5 1481.1 L997.7 1473.8 L997.8 1494.3 L998.0 1473.5 L998.2 1494.3 L998.4 1463.1 L998.5 1508.0 L998.7 1488.5 L998.9 1487.9 L999.1 1491.0 L999.3 1501.4 L999.4 1488.4 L999.6 1500.5 L999.8 1475.6 L1000.0 1468.4 L1000.1 1489.4 L1000.3 1485.9 L1000.5 1481.0 L1000.7 1486.8 L1000.9 1505.2 L1001.0 1468.4 L1001.2 1483.1 L1001.4 1485.2 L1001.6 1477.4 L1001.7 1489.6 L1001.9 1477.5 L1002.1 1474.5 L1002.3 1492.5 L1002.4 1483.2 L1002.6 1468.6 L1002.8 1501.3 L1003.0 1493.3 L1003.1 1491.1 L1003.3 1479.3 L1003.5 1480.4 L1003.7 1488.0 L1003.8 1487.2 L1004.0 1499.5 L1004.2 1475.5 L1004.4 1479.3 L1004.5 1491.1 L1004.7 1481.9 L1004.9 1470.0 L1005.1 1489.5 L1005.2 1474.6 L1005.4 1490.3 L1005.6 1482.0 L1005.7 1516.7 L1005.9 1504.0 L1006.1 1473.9 L1006.3 1507.0 L1006.4 1467.8 L1006.6 1499.6 L1006.8 1478.4 L1007.0 1472.3 L1007.1 1489.1 L1007.3 1488.2 L1007.5 1491.0 L1007.6 1489.0 L1007.8 1504.7 L1008.0 1507.9 L1008.2 1474.5 L1008.3 1469.6 L1008.5 1491.9 L1008.7 1487.2 L1008.8 1467.1 L1009.0 1489.5 L1009.2 1494.2 L1009.4 1472.5 L1009.5 1475.0 L1009.7 1460.7 L1009.9 1483.1 L1010.0 1479.1 L1010.2 1491.5 L1010.4 1494.3 L1010.5 1478.1 L1010.7 1476.0 L1010.9 1490.7 L1011.1 1480.8 L1011.2 1484.2 L1011.4 1484.6 L1011.6 1482.3 L1011.7 1512.3 L1011.9 1478.2 L1012.1 1467.6 L1012.2 1465.9 L1012.4 1480.4 L1012.6 1490.0 L1012.7 1472.5 L1012.9 1468.2 L1013.1 1493.9 L1013.2 1476.7 L1013.4 1487.9 L1013.6 1495.2 L1013.7 1477.0 L1013.9 1512.4 L1014.1 1476.9 L1014.2 1489.4 L1014.4 1495.7 L1014.6 1479.5 L1014.7 1488.8 L1014.9 1481.1 L1015.1 1457.5 L1015.2 1499.2 L1015.4 1488.2 L1015.6 1468.4 L1015.7 1490.6 L1015.9 1495.8 L1016.1 1492.1 L1016.2 1477.2 L1016.4 1500.8 L1016.6 1494.1 L1016.7 1477.2 L1016.9 1495.8 L1017.1 1469.9 L1017.2 1475.8 L1017.4 1480.7 L1017.6 1492.7 L1017.7 1471.2 L1017.9 1483.0 L1018.1 1501.4 L1018.2 1503.5 L1018.4 1509.2 L1018.5 1503.6 L1018.7 1482.0 L1018.9 1479.6 L1019.0 1495.1 L1019.2 1475.7 L1019.4 1474.0 L1019.5 1493.4 L1019.7 1479.3 L1019.9 1482.2 L1020.0 1483.9 L1020.2 1476.2 L1020.3 1474.2 L1020.5 1473.9 L1020.7 1470.9 L1020.8 1477.4 L1021.0 1487.2 L1021.2 1482.4 L1021.3 1499.2 L1021.5 1468.0 L1021.6 1485.3 L1021.8 1527.9 L1022.0 1500.8 L1022.1 1460.9 L1022.3 1472.1 L1022.5 1475.5 L1022.6 1475.1 L1022.8 1479.2 L1022.9 1483.2 L1023.1 1481.3 L1023.3 1484.8 L1023.4 1482.0 L1023.6 1475.1 L1023.7 1476.3 L1023.9 1495.8 L1024.1 1490.6 L1024.2 1473.7 L1024.4 1478.9 L1024.5 1499.7 L1024.7 1483.8 L1024.9 1482.1 L1025.0 1480.0 L1025.2 1486.8 L1025.3 1495.4 L1025.5 1501.5 L1025.7 1467.7 L1025.8 1499.6 L1026.0 1476.2 L1026.1 1481.3 L1026.3 1483.9 L1026.5 1494.0 L1026.6 1481.1 L1026.8 1473.7 L1026.9 1504.1 L1027.1 1493.6 L1027.2 1495.1 L1027.4 1490.0 L1027.6 1484.8 L1027.7 1478.8 L1027.9 1478.6 L1028.0 1498.1 L1028.2 1465.9 L1028.4 1468.1 L1028.5 1481.5 L1028.7 1499.1 L1028.8 1473.0 L1029.0 1494.6 L1029.1 1481.8 L1029.3 1495.5 L1029.5 1476.8 L1029.6 1480.8 L1029.8 1484.7 L1029.9 1486.3 L1030.1 1485.4 L1030.2 1487.9 L1030.4 1511.5 L1030.5 1489.4 L1030.7 1490.3 L1030.9 1476.3 L1031.0 1489.9 L1031.2 1483.6 L1031.3 1482.3 L1031.5 1496.5 L1031.6 1461.0 L1031.8 1486.8 L1031.9 1475.4 L1032.1 1505.7 L1032.3 1492.0 L1032.4 1471.4 L1032.6 1476.2 L1032.7 1507.5 L1032.9 1483.2 L1033.0 1484.4 L1033.2 1504.9 L1033.3 1499.7 L1033.5 1467.9 L1033.7 1501.2 L1033.8 1485.6 L1034.0 1481.8 L1034.1 1495.4 L1034.3 1505.5 L1034.4 1485.4 L1034.6 1454.3 L1034.7 1481.1 L1034.9 1488.3 L1035.0 1480.1 L1035.2 1499.6 L1035.3 1486.3 L1035.5 1497.0 L1035.6 1481.1 L1035.8 1492.8 L1036.0 1481.9 L1036.1 1477.9 L1036.3 1468.3 L1036.4 1499.5 L1036.6 1479.6 L1036.7 1494.6 L1036.9 1494.3 L1037.0 1497.4 L1037.2 1501.4 L1037.3 1477.1 L1037.5 1502.3 L1037.6 1484.0 L1037.8 1481.5 L1037.9 1475.4 L1038.1 1487.8 L1038.2 1488.3 L1038.4 1495.5 L1038.5 1508.4 L1038.7 1476.5 L1038.8 1488.8 L1039.0 1474.8 L1039.1 1476.0 L1039.3 1498.5 L1039.4 1493.2 L1039.6 1482.3 L1039.7 1476.5 L1039.9 1485.4 L1040.0 1502.5 L1040.2 1477.1 L1040.3 1531.9 L1040.5 1491.0 L1040.6 1486.4 L1040.8 1472.1 L1040.9 1490.5 L1041.1 1485.6 L1041.2 1485.4 L1041.4 1508.0 L1041.5 1486.8 L1041.7 1502.6 L1041.8 1516.2 L1042.0 1487.1 L1042.1 1486.8 L1042.3 1501.0 L1042.4 1481.7 L1042.6 1498.2 L1042.7 1493.9 L1042.9 1479.7 L1043.0 1493.2 L1043.2 1491.2 L1043.3 1496.2 L1043.5 1483.5 L1043.6 1489.7 L1043.8 1463.8 L1043.9 1517.2 L1044.1 1478.7 L1044.2 1496.9 L1044.3 1497.0 L1044.5 1488.2 L1044.6 1492.3 L1044.8 1487.0 L1044.9 1492.4 L1045.1 1490.4 L1045.2 1484.9 L1045.4 1492.6 L1045.5 1493.1 L1045.7 1512.7 L1045.8 1492.6 L1046.0 1518.8 L1046.1 1507.5 L1046.3 1488.1 L1046.4 1495.6 L1046.5 1492.1 L1046.7 1479.7 L1046.8 1495.7 L1047.0 1487.7 L1047.1 1497.6 L1047.3 1512.7 L1047.4 1484.5 L1047.6 1505.1 L1047.7 1482.4 L1047.9 1507.0 L1048.0 1490.1 L1048.1 1532.2 L1048.3 1493.7 L1048.4 1490.5 L1048.6 1497.2 L1048.7 1502.7 L1048.9 1488.8 L1049.0 1539.4 L1049.2 1500.8 L1049.3 1491.5 L1049.5 1509.1 L1049.6 1493.4 L1049.7 1482.5 L1049.9 1518.5 L1050.0 1488.8 L1050.2 1516.7 L1050.3 1499.1 L1050.5 1503.6 L1050.6 1492.0 L1050.7 1489.3 L1050.9 1501.8 L1051.0 1483.6 L1051.2 1526.0 L1051.3 1500.8 L1051.5 1506.0 L1051.6 1492.7 L1051.7 1495.2 L1051.9 1476.0 L1052.0 1483.8 L1052.2 1517.6 L1052.3 1490.6 L1052.5 1499.8 L1052.6 1486.9 L1052.7 1504.8 L1052.9 1512.0 L1053.0 1502.0 L1053.2 1485.1 L1053.3 1504.1 L1053.5 1490.7 L1053.6 1488.1 L1053.7 1522.5 L1053.9 1497.2 L1054.0 1491.4 L1054.2 1477.4 L1054.3 1498.3 L1054.4 1508.7 L1054.6 1510.5 L1054.7 1482.8 L1054.9 1492.8 L1055.0 1503.7 L1055.2 1492.6 L1055.3 1496.9 L1055.4 1487.6 L1055.6 1477.0 L1055.7 1479.2 L1055.9 1469.1 L1056.0 1511.7 L1056.1 1495.3 L1056.3 1485.3 L1056.4 1506.2 L1056.6 1479.3 L1056.7 1482.7 L1056.8 1479.9 L1057.0 1491.8 L1057.1 1499.5 L1057.3 1497.5 L1057.4 1517.2 L1057.5 1502.6 L1057.7 1494.2 L1057.8 1480.7 L1058.0 1507.0 L1058.1 1493.2 L1058.2 1494.9 L1058.4 1512.8 L1058.5 1500.9 L1058.7 1496.0 L1058.8 1504.4 L1058.9 1487.0 L1059.1 1489.6 L1059.2 1495.2 L1059.3 1504.3 L1059.5 1506.2 L1059.6 1496.0 L1059.8 1484.1 L1059.9 1486.7 L1060.0 1499.2 L1060.2 1477.3 L1060.3 1503.8 L1060.4 1510.9 L1060.6 1504.4 L1060.7 1495.3 L1060.9 1493.4 L1061.0 1488.2 L1061.1 1500.9 L1061.3 1521.5 L1061.4 1499.6 L1061.5 1546.7 L1061.7 1493.0 L1061.8 1497.1 L1062.0 1497.2 L1062.1 1509.3 L1062.2 1503.9 L1062.4 1487.9 L1062.5 1500.6 L1062.6 1501.8 L1062.8 1510.5 L1062.9 1493.0 L1063.1 1519.7 L1063.2 1494.4 L1063.3 1493.1 L1063.5 1506.3 L1063.6 1521.0 L1063.7 1500.0 L1063.9 1496.8 L1064.0 1487.4 L1064.1 1499.7 L1064.3 1498.6 L1064.4 1507.6 L1064.5 1487.6 L1064.7 1507.4 L1064.8 1494.7 L1065.0 1484.4 L1065.1 1493.3 L1065.2 1488.7 L1065.4 1501.8 L1065.5 1477.6 L1065.6 1510.8 L1065.8 1489.4 L1065.9 1484.1 L1066.0 1514.1 L1066.2 1510.3 L1066.3 1495.5 L1066.4 1493.6 L1066.6 1542.3 L1066.7 1494.6 L1066.8 1514.3 L1067.0 1513.3 L1067.1 1496.3 L1067.2 1483.9 L1067.4 1515.8 L1067.5 1489.0 L1067.6 1507.8 L1067.8 1513.1 L1067.9 1502.1 L1068.0 1514.6 L1068.2 1497.1 L1068.3 1503.1 L1068.4 1509.1 L1068.6 1500.7 L1068.7 1539.1 L1068.8 1494.5 L1069.0 1514.0 L1069.1 1507.9 L1069.2 1504.0 L1069.4 1500.9 L1069.5 1484.4 L1069.6 1496.9 L1069.8 1497.7 L1069.9 1490.6 L1070.0 1490.9 L1070.2 1509.5 L1070.3 1483.5 L1070.4 1503.9 L1070.6 1513.2 L1070.7 1502.5 L1070.8 1501.3 L1071.0 1503.2 L1071.1 1519.7 L1071.2 1505.0 L1071.4 1511.2 L1071.5 1505.2 L1071.6 1499.2 L1071.8 1507.1 L1071.9 1521.8 L1072.0 1498.8 L1072.2 1504.0 L1072.3 1501.5 L1072.4 1513.1 L1072.5 1487.8 L1072.7 1527.6 L1072.8 1504.7 L1072.9 1493.8 L1073.1 1517.2 L1073.2 1530.3 L1073.3 1519.8 L1073.5 1513.3 L1073.6 1502.8 L1073.7 1509.4 L1073.9 1517.5 L1074.0 1510.7 L1074.1 1504.7 L1074.2 1514.4 L1074.4 1497.5 L1074.5 1517.7 L1074.6 1510.7 L1074.8 1510.7 L1074.9 1484.7 L1075.0 1483.7 L1075.2 1487.0 L1075.3 1515.2 L1075.4 1484.7 L1075.5 1509.0 L1075.7 1509.7 L1075.8 1509.4 L1075.9 1500.1 L1076.1 1505.4 L1076.2 1499.1 L1076.3 1528.7 L1076.4 1504.8 L1076.6 1504.5 L1076.7 1522.9 L1076.8 1505.2 L1077.0 1511.3 L1077.1 1507.4 L1077.2 1538.1 L1077.3 1511.0 L1077.5 1501.1 L1077.6 1503.6 L1077.7 1531.6 L1077.9 1534.8 L1078.0 1504.5 L1078.1 1503.1 L1078.2 1507.8 L1078.4 1489.0 L1078.5 1511.1 L1078.6 1507.5 L1078.8 1520.9 L1078.9 1516.2 L1079.0 1532.0 L1079.1 1498.0 L1079.3 1497.0 L1079.4 1489.7 L1079.5 1510.4 L1079.6 1512.4 L1079.8 1502.2 L1079.9 1495.7 L1080.0 1484.4 L1080.2 1487.8 L1080.3 1507.1 L1080.4 1517.4 L1080.5 1523.3 L1080.7 1535.4 L1080.8 1529.6 L1080.9 1511.8 L1081.0 1528.1 L1081.2 1508.0 L1081.3 1504.9 L1081.4 1492.2 L1081.5 1512.5 L1081.7 1495.7 L1081.8 1502.1 L1081.9 1530.4 L1082.1 1514.5 L1082.2 1496.8 L1082.3 1510.8 L1082.4 1513.5 L1082.6 1497.2 L1082.7 1491.1 L1082.8 1499.8 L1082.9 1518.7 L1083.1 1535.5 L1083.2 1495.7 L1083.3 1514.3 L1083.4 1569.4 L1083.6 1515.1 L1083.7 1493.4 L1083.8 1507.2 L1083.9 1506.9 L1084.1 1530.8 L1084.2 1511.8 L1084.3 1529.6 L1084.4 1517.3 L1084.6 1498.9 L1084.7 1506.8 L1084.8 1508.6 L1084.9 1541.3 L1085.1 1518.6 L1085.2 1502.7 L1085.3 1534.0 L1085.4 1511.1 L1085.6 1514.4 L1085.7 1506.0 L1085.8 1568.3 L1085.9 1533.8 L1086.1 1521.3 L1086.2 1521.9 L1086.3 1525.0 L1086.4 1494.3 L1086.5 1499.5 L1086.7 1516.8 L1086.8 1530.6 L1086.9 1537.8 L1087.0 1502.2 L1087.2 1504.5 L1087.3 1506.1 L1087.4 1497.6 L1087.5 1508.6 L1087.7 1516.9 L1087.8 1493.9 L1087.9 1501.6 L1088.0 1495.2 L1088.1 1509.4 L1088.3 1499.6 L1088.4 1528.1 L1088.5 1517.5 L1088.6 1520.0 L1088.8 1512.4 L1088.9 1508.3 L1089.0 1519.3 L1089.1 1531.5 L1089.3 1530.1 L1089.4 1523.5 L1089.5 1545.6 L1089.6 1527.4 L1089.7 1517.0 L1089.9 1502.6 L1090.0 1508.2 L1090.1 1532.9 L1090.2 1507.0 L1090.4 1502.2 L1090.5 1491.8 L1090.6 1520.0 L1090.7 1537.2 L1090.8 1498.8 L1091.0 1508.3 L1091.1 1530.9 L1091.2 1526.3 L1091.3 1513.9 L1091.4 1501.8 L1091.6 1535.3 L1091.7 1522.0 L1091.8 1514.5 L1091.9 1527.2 L1092.0 1509.6 L1092.2 1512.3 L1092.3 1519.9 L1092.4 1537.0 L1092.5 1510.4 L1092.7 1516.2 L1092.8 1502.5 L1092.9 1536.4 L1093.0 1519.9 L1093.1 1521.9 L1093.3 1511.4 L1093.4 1493.6 L1093.5 1505.0 L1093.6 1516.4 L1093.7 1526.8 L1093.9 1518.8 L1094.0 1517.1 L1094.1 1515.8 L1094.2 1498.9 L1094.3 1505.2 L1094.5 1528.0 L1094.6 1514.8 L1094.7 1500.6 L1094.8 1501.8 L1094.9 1504.1 L1095.1 1513.2 L1095.2 1499.1 L1095.3 1516.6 L1095.4 1506.6 L1095.5 1505.1 L1095.6 1526.8 L1095.8 1509.8 L1095.9 1529.6 L1096.0 1537.8 L1096.1 1541.6 L1096.2 1557.4 L1096.4 1504.1 L1096.5 1520.9 L1096.6 1494.9 L1096.7 1521.4 L1096.8 1512.8 L1097.0 1528.5 L1097.1 1534.8 L1097.2 1513.5 L1097.3 1524.4 L1097.4 1510.4 L1097.5 1536.8 L1097.7 1521.5 L1097.8 1523.9 L1097.9 1523.6 L1098.0 1510.9 L1098.1 1514.5 L1098.3 1517.8 L1098.4 1529.5 L1098.5 1512.0 L1098.6 1520.3 L1098.7 1554.2 L1098.8 1517.0 L1099.0 1545.0 L1099.1 1530.5 L1099.2 1524.6 L1099.3 1497.7 L1099.4 1518.9 L1099.5 1532.7 L1099.7 1515.0 L1099.8 1560.2 L1099.9 1517.9 L1100.0 1521.3 L1100.1 1528.4 L1100.2 1539.0 L1100.4 1522.9 L1100.5 1528.7 L1100.6 1535.0 L1100.7 1511.7 L1100.8 1504.9 L1100.9 1516.9 L1101.1 1511.2 L1101.2 1522.1 L1101.3 1531.2 L1101.4 1521.6 L1101.5 1507.4 L1101.6 1539.4 L1101.8 1525.4 L1101.9 1520.5 L1102.0 1564.4 L1102.1 1534.0 L1102.2 1551.2 L1102.3 1502.3 L1102.5 1533.8 L1102.6 1523.9 L1102.7 1555.1 L1102.8 1528.8 L1102.9 1530.8 L1103.0 1531.8 L1103.2 1528.2 L1103.3 1530.7 L1103.4 1532.2 L1103.5 1540.4 L1103.6 1521.1 L1103.7 1549.8 L1103.8 1510.5 L1104.0 1529.4 L1104.1 1504.4 L1104.2 1523.3 L1104.3 1540.7 L1104.4 1514.1 L1104.5 1536.3 L1104.6 1513.5 L1104.8 1514.8 L1104.9 1546.6 L1105.0 1522.4 L1105.1 1543.5 L1105.2 1530.0 L1105.3 1518.4 L1105.4 1498.5 L1105.6 1524.5 L1105.7 1576.8 L1105.8 1538.0 L1105.9 1525.1 L1106.0 1522.7 L1106.1 1517.6 L1106.2 1525.1 L1106.4 1520.9 L1106.5 1508.2 L1106.6 1535.0 L1106.7 1534.3 L1106.8 1530.9 L1106.9 1540.5 L1107.0 1528.0 L1107.2 1544.9 L1107.3 1542.2 L1107.4 1543.7 L1107.5 1522.9 L1107.6 1543.2 L1107.7 1524.8 L1107.8 1503.9 L1107.9 1496.0 L1108.1 1524.9 L1108.2 1540.1 L1108.3 1534.7 L1108.4 1553.2 L1108.5 1520.0 L1108.6 1534.8 L1108.7 1515.2 L1108.9 1526.3 L1109.0 1518.6 L1109.1 1538.3 L1109.2 1534.6 L1109.3 1561.9 L1109.4 1530.0 L1109.5 1530.1 L1109.6 1547.0 L1109.8 1531.3 L1109.9 1538.0 L1110.0 1531.4 L1110.1 1534.4 L1110.2 1523.6 L1110.3 1525.5 L1110.4 1531.9 L1110.5 1550.7 L1110.6 1511.7 L1110.8 1555.6 L1110.9 1531.9 L1111.0 1522.1 L1111.1 1520.8 L1111.2 1545.7 L1111.3 1535.2 L1111.4 1527.5 L1111.5 1547.0 L1111.7 1544.3 L1111.8 1542.2 L1111.9 1547.9 L1112.0 1556.3 L1112.1 1537.9 L1112.2 1549.0 L1112.3 1547.9 L1112.4 1548.5 L1112.5 1534.7 L1112.7 1525.5 L1112.8 1527.5 L1112.9 1516.6 L1113.0 1532.1 L1113.1 1551.8 L1113.2 1511.9 L1113.3 1531.5 L1113.4 1559.6 L1113.5 1543.9 L1113.7 1529.2 L1113.8 1528.1 L1113.9 1550.4 L1114.0 1568.9 L1114.1 1544.8 L1114.2 1522.0 L1114.3 1529.9 L1114.4 1551.2 L1114.5 1549.6 L1114.6 1551.0 L1114.8 1573.7 L1114.9 1562.4 L1115.0 1545.5 L1115.1 1541.0 L1115.2 1521.3 L1115.3 1550.3 L1115.4 1535.0 L1115.5 1559.6 L1115.6 1524.4 L1115.7 1536.7 L1115.9 1533.9 L1116.0 1520.0 L1116.1 1590.2 L1116.2 1515.5 L1116.3 1551.7 L1116.4 1541.3 L1116.5 1515.1 L1116.6 1538.6 L1116.7 1530.1 L1116.8 1549.1 L1116.9 1532.3 L1117.1 1517.3 L1117.2 1549.4 L1117.3 1562.6 L1117.4 1557.4 L1117.5 1545.7 L1117.6 1549.2 L1117.7 1529.7 L1117.8 1534.8 L1117.9 1549.2 L1118.0 1558.7 L1118.1 1526.6 L1118.2 1535.2 L1118.4 1537.0 L1118.5 1531.6 L1118.6 1534.7 L1118.7 1523.4 L1118.8 1528.9 L1118.9 1533.2 L1119.0 1532.3 L1119.1 1545.6 L1119.2 1550.5 L1119.3 1549.7 L1119.4 1549.2 L1119.5 1552.6 L1119.7 1549.7 L1119.8 1526.1 L1119.9 1536.4 L1120.0 1553.1 L1120.1 1554.6 L1120.2 1542.0 L1120.3 1552.7 L1120.4 1551.1 L1120.5 1546.7 L1120.6 1565.0 L1120.7 1549.1 L1120.8 1575.6 L1120.9 1526.9 L1121.0 1548.7 L1121.2 1546.9 L1121.3 1548.0 L1121.4 1576.3 L1121.5 1538.6 L1121.6 1547.2 L1121.7 1551.2 L1121.8 1525.4 L1121.9 1529.8 L1122.0 1539.9 L1122.1 1561.7 L1122.2 1525.8 L1122.3 1543.5 L1122.4 1554.4 L1122.5 1535.2 L1122.7 1562.3 L1122.8 1583.0 L1122.9 1574.0 L1123.0 1542.9 L1123.1 1539.5 L1123.2 1529.3 L1123.3 1501.3 L1123.4 1539.8 L1123.5 1528.2 L1123.6 1545.6 L1123.7 1544.4 L1123.8 1556.1 L1123.9 1563.7 L1124.0 1540.7 L1124.1 1533.1 L1124.2 1547.2 L1124.3 1562.7 L1124.5 1545.4 L1124.6 1546.6 L1124.7 1546.2 L1124.8 1552.9 L1124.9 1518.4 L1125.0 1532.2 L1125.1 1534.5 L1125.2 1534.0 L1125.3 1542.7 L1125.4 1553.5 L1125.5 1539.9 L1125.6 1563.7 L1125.7 1556.6 L1125.8 1524.9 L1125.9 1551.9 L1126.0 1561.9 L1126.1 1552.5 L1126.2 1542.3 L1126.3 1574.5 L1126.5 1552.3 L1126.6 1539.7 L1126.7 1554.3 L1126.8 1534.7 L1126.9 1549.4 L1127.0 1551.4 L1127.1 1567.6 L1127.2 1554.3 L1127.3 1547.2 L1127.4 1566.6 L1127.5 1547.7 L1127.6 1595.2 L1127.7 1565.6 L1127.8 1557.3 L1127.9 1577.2 L1128.0 1560.1 L1128.1 1544.3 L1128.2 1562.6 L1128.3 1562.4 L1128.4 1545.3 L1128.5 1589.1 L1128.6 1561.2 L1128.7 1590.2 L1128.9 1548.8 L1129.0 1562.6 L1129.1 1550.3 L1129.2 1567.5 L1129.3 1539.8 L1129.4 1544.7 L1129.5 1536.8 L1129.6 1575.6 L1129.7 1540.3 L1129.8 1561.8 L1129.9 1575.7 L1130.0 1573.0 L1130.1 1577.2 L1130.2 1542.8 L1130.3 1550.1 L1130.4 1551.0 L1130.5 1605.2 L1130.6 1552.0 L1130.7 1548.3 L1130.8 1544.2 L1130.9 1552.8 L1131.0 1534.1 L1131.1 1525.2 L1131.2 1552.0 L1131.3 1562.6 L1131.4 1580.4 L1131.5 1532.2 L1131.6 1542.1 L1131.7 1566.2 L1131.8 1546.7 L1131.9 1545.5 L1132.0 1575.7 L1132.1 1534.4 L1132.2 1552.8 L1132.4 1534.4 L1132.5 1544.6 L1132.6 1599.6 L1132.7 1557.8 L1132.8 1607.2 L1132.9 1569.4 L1133.0 1568.3 L1133.1 1566.7 L1133.2 1557.3 L1133.3 1560.9 L1133.4 1540.8 L1133.5 1548.0 L1133.6 1565.5 L1133.7 1583.6 L1133.8 1570.3 L1133.9 1582.9 L1134.0 1582.5 L1134.1 1554.3 L1134.2 1530.6 L1134.3 1593.9 L1134.4 1549.9 L1134.5 1559.7 L1134.6 1574.3 L1134.7 1539.1 L1134.8 1563.8 L1134.9 1574.2 L1135.0 1538.8 L1135.1 1556.7" fill="none" stroke="#000" stroke-width="4.4" stroke-linejoin="round" stroke-linecap="round"/>
<path d="M193.9 1066.1 L198.9 1094.7 L203.8 1105.9 L208.6 1093.8 L213.3 1087.1 L217.9 1086.3 L222.5 1082.3 L226.9 1089.4 L231.3 1082.2 L235.6 1083.9 L239.8 1078.6 L243.9 1083.2 L248.0 1086.6 L252.0 1087.4 L255.9 1109.1 L259.8 1109.8 L263.6 1125.1 L267.3 1119.7 L271.0 1073.7 L274.7 1045.0 L278.3 1072.2 L281.8 1079.5 L285.3 1100.2 L288.7 1115.9 L292.1 1128.4 L295.4 1155.2 L298.7 1153.6 L302.0 1129.9 L305.2 1124.0 L308.3 1125.8 L311.5 1117.1 L314.5 1128.9 L317.6 1149.3 L320.6 1150.0 L323.5 1155.1 L326.5 1171.3 L329.4 1184.5 L332.2 1165.9 L335.1 1127.7 L337.8 1146.3 L340.6 1158.2 L343.3 1171.4 L346.0 1159.1 L348.7 1144.8 L351.3 1161.1 L354.0 1178.8 L356.5 1180.2 L359.1 1194.1 L361.6 1191.0 L364.1 1195.0 L366.6 1207.9 L369.1 1182.1 L371.5 1174.2 L373.9 1161.7 L376.3 1171.5 L378.6 1163.2 L381.0 1176.5 L383.3 1176.5 L385.6 1195.3 L387.8 1201.3 L390.1 1196.7 L392.3 1202.1 L394.5 1201.0 L396.7 1210.3 L398.9 1196.5 L401.0 1197.7 L403.1 1221.7 L405.2 1200.2 L407.3 1186.8 L409.4 1201.3 L411.5 1194.3 L413.5 1198.2 L415.5 1192.7 L417.5 1200.0 L419.5 1216.4 L421.5 1204.3 L423.4 1223.2 L425.4 1217.2 L427.3 1228.9 L429.2 1219.5 L431.1 1238.2 L433.0 1208.2 L434.8 1232.3 L436.7 1218.0 L438.5 1214.6 L440.3 1263.8 L442.1 1232.8 L443.9 1217.5 L445.7 1240.7 L447.5 1221.7 L449.2 1232.6 L451.0 1223.1 L452.7 1235.8 L454.4 1233.1 L456.1 1235.6 L457.8 1223.4 L459.5 1221.6 L461.2 1240.7 L462.8 1239.0 L464.5 1235.1 L466.1 1230.9 L467.7 1230.3 L469.4 1210.7 L471.0 1207.4 L472.5 1237.8 L474.1 1229.1 L475.7 1209.9 L477.3 1228.8 L478.8 1232.4 L480.4 1209.9 L481.9 1222.8 L483.4 1213.9 L484.9 1221.9 L486.4 1205.8 L487.9 1219.0 L489.4 1229.4 L490.9 1211.9 L492.3 1224.5 L493.8 1214.5 L495.2 1230.5 L496.7 1226.5 L498.1 1220.9 L499.5 1247.5 L501.0 1250.5 L502.4 1228.3 L503.8 1257.2 L505.1 1231.2 L506.5 1234.2 L507.9 1220.0 L509.3 1246.5 L510.6 1249.5 L512.0 1238.3 L513.3 1243.2 L514.7 1234.7 L516.0 1234.3 L517.3 1243.6 L518.6 1264.5 L519.9 1231.8 L521.2 1232.8 L522.5 1248.2 L523.8 1269.7 L525.1 1249.3 L526.4 1264.6 L527.6 1257.1 L528.9 1269.4 L530.1 1245.5 L531.4 1242.5 L532.6 1269.2 L533.9 1259.2 L535.1 1259.9 L536.3 1255.1 L537.5 1254.5 L538.7 1248.0 L539.9 1254.3 L541.1 1288.7 L542.3 1277.2 L543.5 1263.7 L544.7 1256.1 L545.8 1285.3 L547.0 1249.9 L548.2 1258.3 L549.3 1257.3 L550.5 1251.4 L551.6 1270.1 L552.8 1272.6 L553.9 1265.8 L555.0 1243.4 L556.2 1268.8 L557.3 1279.4 L558.4 1265.2 L559.5 1279.3 L560.6 1269.4 L561.7 1264.6 L562.8 1265.9 L563.9 1270.3 L565.0 1276.7 L566.0 1289.9 L567.1 1274.4 L568.2 1292.3 L569.2 1286.9 L570.3 1285.2 L571.4 1287.8 L572.4 1276.2 L573.5 1312.6 L574.5 1298.6 L575.5 1305.4 L576.6 1272.9 L577.6 1284.3 L578.6 1284.3 L579.6 1289.3 L580.6 1294.2 L581.7 1299.9 L582.7 1299.1 L583.7 1311.9 L584.7 1290.8 L585.7 1321.7 L586.6 1291.8 L587.6 1310.4 L588.6 1288.6 L589.6 1304.7 L590.6 1332.0 L591.5 1300.0 L592.5 1321.6 L593.5 1299.0 L594.4 1324.2 L595.4 1308.0 L596.3 1301.6 L597.3 1298.3 L598.2 1314.9 L599.2 1328.6 L600.1 1299.1 L601.0 1300.0 L602.0 1306.9 L602.9 1330.0 L603.8 1315.0 L604.7 1315.1 L605.6 1322.7 L606.5 1320.5 L607.4 1375.0 L608.4 1314.5 L609.3 1323.7 L610.2 1314.5 L611.0 1323.3 L611.9 1314.1 L612.8 1317.2 L613.7 1344.3 L614.6 1325.2 L615.5 1327.9 L616.3 1328.6 L617.2 1311.2 L618.1 1330.3 L618.9 1322.4 L619.8 1337.2 L620.7 1319.9 L621.5 1321.2 L622.4 1317.6 L623.2 1326.0 L624.1 1353.1 L624.9 1321.4 L625.8 1340.9 L626.6 1364.4 L627.4 1309.5 L628.3 1337.5 L629.1 1327.4 L629.9 1358.9 L630.7 1331.7 L631.6 1334.7 L632.4 1327.1 L633.2 1337.0 L634.0 1361.7 L634.8 1350.2 L635.6 1335.3 L636.4 1359.2 L637.2 1350.0 L638.0 1355.1 L638.8 1336.5 L639.6 1340.6 L640.4 1359.2 L641.2 1347.6 L642.0 1349.0 L642.8 1339.7 L643.5 1342.3 L644.3 1352.4 L645.1 1347.5 L645.9 1382.8 L646.6 1340.6 L647.4 1333.1 L648.2 1346.4 L648.9 1333.4 L649.7 1367.8 L650.5 1333.6 L651.2 1357.6 L652.0 1345.2 L652.7 1363.0 L653.5 1351.7 L654.2 1351.0 L655.0 1343.0 L655.7 1370.3 L656.5 1350.2 L657.2 1346.7 L657.9 1350.7 L658.7 1348.4 L659.4 1376.6 L660.1 1357.2 L660.8 1372.2 L661.6 1368.9 L662.3 1362.4 L663.0 1360.6 L663.7 1351.9 L664.4 1373.5 L665.2 1371.5 L665.9 1357.0 L666.6 1358.9 L667.3 1380.7 L668.0 1372.1 L668.7 1349.1 L669.4 1384.5 L670.1 1368.7 L670.8 1368.2 L671.5 1359.1 L672.2 1376.9 L672.9 1364.3 L673.6 1373.7 L674.2 1371.9 L674.9 1360.6 L675.6 1373.8 L676.3 1365.9 L677.0 1363.3 L677.7 1365.2 L678.3 1352.6 L679.0 1358.6 L679.7 1362.6 L680.3 1367.8 L681.0 1366.2 L681.7 1365.9 L682.3 1370.1 L683.0 1401.6 L683.7 1370.6 L684.3 1366.8 L685.0 1393.4 L685.6 1352.1 L686.3 1370.8 L686.9 1366.2 L687.6 1340.3 L688.2 1374.4 L688.9 1356.3 L689.5 1363.4 L690.2 1359.3 L690.8 1389.5 L691.5 1393.4 L692.1 1381.6 L692.7 1366.9 L693.4 1396.6 L694.0 1376.5 L694.6 1386.8 L695.3 1369.8 L695.9 1363.9 L696.5 1372.1 L697.1 1373.6 L697.8 1385.5 L698.4 1359.5 L699.0 1414.3 L699.6 1372.1 L700.2 1373.8 L700.9 1378.9 L701.5 1381.1 L702.1 1373.3 L702.7 1372.4 L703.3 1403.1 L703.9 1380.9 L704.5 1349.7 L705.1 1368.1 L705.7 1368.1 L706.3 1357.3 L706.9 1401.5 L707.5 1398.4 L708.1 1359.5 L708.7 1402.0 L709.3 1377.8 L709.9 1377.0 L710.5 1401.8 L711.1 1386.1 L711.7 1391.7 L712.3 1384.3 L712.8 1367.5 L713.4 1392.4 L714.0 1369.6 L714.6 1350.0 L715.2 1370.8 L715.7 1365.7 L716.3 1399.2 L716.9 1376.7 L717.5 1380.8 L718.0 1400.8 L718.6 1408.2 L719.2 1376.1 L719.8 1363.5 L720.3 1372.3 L720.9 1395.6 L721.5 1386.6 L722.0 1366.2 L722.6 1367.4 L723.1 1374.1 L723.7 1425.1 L724.3 1382.5 L724.8 1385.4 L725.4 1381.5 L725.9 1383.0 L726.5 1392.4 L727.0 1396.8 L727.6 1398.3 L728.1 1392.3 L728.7 1379.6 L729.2 1400.5 L729.8 1387.7 L730.3 1394.4 L730.9 1389.0 L731.4 1416.8 L731.9 1400.4 L732.5 1397.7 L733.0 1399.7 L733.5 1380.1 L734.1 1393.1 L734.6 1397.7 L735.2 1390.2 L735.7 1397.6 L736.2 1407.6 L736.7 1392.6 L737.3 1382.0 L737.8 1383.4 L738.3 1384.0 L738.9 1392.0 L739.4 1385.0 L739.9 1397.6 L740.4 1370.0 L740.9 1386.5 L741.5 1388.0 L742.0 1372.8 L742.5 1402.2 L743.0 1390.7 L743.5 1397.5 L744.0 1379.1 L744.6 1393.1 L745.1 1393.4 L745.6 1400.8 L746.1 1412.2 L746.6 1381.7 L747.1 1402.3 L747.6 1420.1 L748.1 1396.8 L748.6 1370.0 L749.1 1391.5 L749.6 1373.5 L750.1 1392.1 L750.6 1382.2 L751.1 1422.4 L751.6 1385.1 L752.1 1404.1 L752.6 1411.4 L753.1 1390.7 L753.6 1405.8 L754.1 1388.4 L754.6 1404.1 L755.1 1383.3 L755.6 1401.4 L756.1 1385.5 L756.5 1398.3 L757.0 1394.2 L757.5 1426.9 L758.0 1385.9 L758.5 1397.1 L759.0 1401.6 L759.5 1427.4 L759.9 1395.8 L760.4 1410.2 L760.9 1397.9 L761.4 1396.2 L761.9 1380.2 L762.3 1434.5 L762.8 1428.1 L763.3 1429.9 L763.8 1413.7 L764.2 1391.6 L764.7 1392.7 L765.2 1392.0 L765.6 1416.7 L766.1 1424.4 L766.6 1384.8 L767.0 1395.7 L767.5 1404.6 L768.0 1403.8 L768.4 1403.7 L768.9 1419.1 L769.4 1426.2 L769.8 1386.0 L770.3 1403.6 L770.7 1404.8 L771.2 1408.1 L771.7 1410.0 L772.1 1415.8 L772.6 1416.1 L773.0 1402.5 L773.5 1397.7 L773.9 1418.7 L774.4 1419.4 L774.8 1406.1 L775.3 1437.0 L775.7 1393.8 L776.2 1421.4 L776.6 1420.6 L777.1 1385.1 L777.5 1399.1 L778.0 1386.8 L778.4 1399.7 L778.9 1423.6 L779.3 1396.6 L779.8 1422.9 L780.2 1409.1 L780.6 1416.5 L781.1 1427.3 L781.5 1407.6 L782.0 1390.5 L782.4 1416.2 L782.8 1392.5 L783.3 1384.9 L783.7 1428.7 L784.1 1412.2 L784.6 1419.9 L785.0 1410.8 L785.4 1418.9 L785.9 1380.7 L786.3 1375.1 L786.7 1404.2 L787.2 1412.3 L787.6 1411.2 L788.0 1390.2 L788.5 1413.9 L788.9 1412.4 L789.3 1400.2 L789.7 1383.7 L790.2 1383.8 L790.6 1409.0 L791.0 1402.3 L791.4 1384.7 L791.8 1432.3 L792.3 1385.7 L792.7 1386.6 L793.1 1397.7 L793.5 1393.2 L793.9 1419.8 L794.4 1427.9 L794.8 1384.9 L795.2 1404.9 L795.6 1401.0 L796.0 1402.7 L796.4 1380.8 L796.8 1393.7 L797.3 1401.1 L797.7 1409.1 L798.1 1394.9 L798.5 1430.4 L798.9 1396.5 L799.3 1366.3 L799.7 1377.1 L800.1 1393.6 L800.5 1407.6 L800.9 1385.9 L801.3 1418.6 L801.7 1405.8 L802.1 1373.5 L802.5 1397.3 L803.0 1394.2 L803.4 1381.5 L803.8 1401.7 L804.2 1389.1 L804.6 1392.1 L805.0 1411.4 L805.4 1393.4 L805.7 1388.5 L806.1 1419.0 L806.5 1403.7 L806.9 1392.7 L807.3 1391.0 L807.7 1403.8 L808.1 1423.3 L808.5 1412.5 L808.9 1431.8 L809.3 1423.1 L809.7 1425.3 L810.1 1423.4 L810.5 1418.7 L810.9 1417.5 L811.2 1406.9 L811.6 1415.6 L812.0 1426.8 L812.4 1422.7 L812.8 1421.9 L813.2 1423.0 L813.6 1418.4 L813.9 1416.4 L814.3 1461.9 L814.7 1412.8 L815.1 1423.3 L815.5 1426.6 L815.9 1441.6 L816.2 1458.0 L816.6 1447.4 L817.0 1419.2 L817.4 1415.1 L817.8 1421.0 L818.1 1435.6 L818.5 1420.1 L818.9 1436.4 L819.3 1441.5 L819.6 1415.2 L820.0 1428.1 L820.4 1414.4 L820.8 1424.9 L821.1 1420.6 L821.5 1464.4 L821.9 1443.0 L822.3 1425.5 L822.6 1419.5 L823.0 1430.0 L823.4 1444.1 L823.7 1411.8 L824.1 1455.4 L824.5 1410.5 L824.8 1430.8 L825.2 1446.2 L825.6 1413.0 L825.9 1432.7 L826.3 1434.9 L826.7 1420.3 L827.0 1446.4 L827.4 1433.0 L827.8 1426.9 L828.1 1435.0 L828.5 1439.0 L828.8 1427.1 L829.2 1427.4 L829.6 1442.1 L829.9 1469.7 L830.3 1427.0 L830.6 1427.7 L831.0 1431.3 L831.4 1442.8 L831.7 1433.0 L832.1 1449.6 L832.4 1413.9 L832.8 1424.6 L833.1 1444.6 L833.5 1431.1 L833.8 1419.7 L834.2 1423.5 L834.5 1422.5 L834.9 1471.2 L835.2 1449.3 L835.6 1464.0 L836.0 1434.3 L836.3 1426.4 L836.6 1425.3 L837.0 1452.3 L837.3 1415.3 L837.7 1415.9 L838.0 1475.9 L838.4 1448.9 L838.7 1420.2 L839.1 1440.3 L839.4 1423.7 L839.8 1448.6 L840.1 1435.9 L840.5 1439.5 L840.8 1439.7 L841.1 1437.7 L841.5 1422.4 L841.8 1436.7 L842.2 1439.6 L842.5 1430.2 L842.9 1431.0 L843.2 1440.1 L843.5 1450.8 L843.9 1458.0 L844.2 1428.4 L844.6 1429.0 L844.9 1441.3 L845.2 1450.3 L845.6 1437.2 L845.9 1437.8 L846.2 1462.2 L846.6 1428.0 L846.9 1439.7 L847.2 1464.5 L847.6 1469.8 L847.9 1456.4 L848.2 1465.2 L848.6 1462.8 L848.9 1451.8 L849.2 1466.6 L849.6 1417.7 L849.9 1436.7 L850.2 1438.7 L850.6 1460.5 L850.9 1452.8 L851.2 1425.6 L851.6 1446.3 L851.9 1449.6 L852.2 1462.1 L852.5 1440.7 L852.9 1437.3 L853.2 1476.8 L853.5 1442.4 L853.8 1448.5 L854.2 1461.2 L854.5 1458.4 L854.8 1458.1 L855.1 1428.9 L855.5 1447.9 L855.8 1454.0 L856.1 1439.8 L856.4 1462.9 L856.8 1456.7 L857.1 1442.7 L857.4 1450.3 L857.7 1467.9 L858.0 1446.4 L858.4 1493.5 L858.7 1463.5 L859.0 1477.2 L859.3 1448.9 L859.6 1461.8 L859.9 1450.2 L860.3 1465.2 L860.6 1447.5 L860.9 1458.5 L861.2 1468.8 L861.5 1441.1 L861.8 1454.0 L862.2 1472.7 L862.5 1454.2 L862.8 1458.8 L863.1 1479.2 L863.4 1455.9 L863.7 1465.0 L864.0 1468.4 L864.3 1465.2 L864.7 1472.0 L865.0 1461.6 L865.3 1464.5 L865.6 1469.3 L865.9 1489.0 L866.2 1442.9 L866.5 1468.6 L866.8 1477.8 L867.1 1455.2 L867.4 1475.2 L867.7 1449.3 L868.1 1444.9 L868.4 1468.3 L868.7 1464.3 L869.0 1455.2 L869.3 1450.0 L869.6 1448.9 L869.9 1468.7 L870.2 1461.4 L870.5 1470.6 L870.8 1457.2 L871.1 1447.5 L871.4 1472.5 L871.7 1483.1 L872.0 1461.8 L872.3 1445.1 L872.6 1470.6 L872.9 1458.9 L873.2 1481.2 L873.5 1479.2 L873.8 1456.3 L874.1 1456.8 L874.4 1462.5 L874.7 1495.0 L875.0 1465.7 L875.3 1467.6 L875.6 1459.7 L875.9 1460.3 L876.2 1451.1 L876.5 1450.0 L876.8 1491.7 L877.1 1457.9 L877.4 1467.7 L877.7 1476.2 L878.0 1472.7 L878.3 1471.2 L878.6 1449.5 L878.8 1468.8 L879.1 1482.5 L879.4 1458.6 L879.7 1457.6 L880.0 1447.7 L880.3 1471.2 L880.6 1451.8 L880.9 1486.6 L881.2 1452.5 L881.5 1451.6 L881.8 1467.6 L882.0 1460.9 L882.3 1495.5 L882.6 1469.9 L882.9 1494.6 L883.2 1459.0 L883.5 1458.4 L883.8 1468.2 L884.1 1471.8 L884.4 1458.5 L884.6 1456.0 L884.9 1470.2 L885.2 1470.7 L885.5 1475.9 L885.8 1463.1 L886.1 1488.8 L886.3 1444.8 L886.6 1497.4 L886.9 1473.6 L887.2 1467.0 L887.5 1454.7 L887.8 1480.9 L888.0 1461.4 L888.3 1522.0 L888.6 1465.2 L888.9 1479.5 L889.2 1502.4 L889.5 1488.0 L889.7 1480.8 L890.0 1474.2 L890.3 1465.8 L890.6 1503.1 L890.9 1486.0 L891.1 1471.9 L891.4 1437.5 L891.7 1482.8 L892.0 1480.9 L892.2 1475.2 L892.5 1466.2 L892.8 1482.8 L893.1 1472.6 L893.4 1533.0 L893.6 1472.5 L893.9 1461.5 L894.2 1473.3 L894.5 1472.0 L894.7 1457.3 L895.0 1461.1 L895.3 1492.4 L895.5 1494.7 L895.8 1499.1 L896.1 1454.6 L896.4 1491.8 L896.6 1475.5 L896.9 1484.8 L897.2 1477.7 L897.5 1489.1 L897.7 1452.9 L898.0 1459.8 L898.3 1464.0 L898.5 1473.7 L898.8 1487.6 L899.1 1495.1 L899.3 1475.9 L899.6 1484.5 L899.9 1453.3 L900.2 1499.5 L900.4 1474.5 L900.7 1443.8 L901.0 1490.5 L901.2 1487.0 L901.5 1496.8 L901.8 1474.7 L902.0 1459.7 L902.3 1486.4 L902.6 1495.5 L902.8 1502.4 L903.1 1497.1 L903.4 1505.4 L903.6 1538.8 L903.9 1483.1 L904.1 1471.7 L904.4 1471.5 L904.7 1487.4 L904.9 1462.1 L905.2 1502.3 L905.5 1485.1 L905.7 1496.6 L906.0 1460.8 L906.2 1471.4 L906.5 1495.5 L906.8 1476.3 L907.0 1505.9 L907.3 1480.2 L907.6 1484.1 L907.8 1514.9 L908.1 1459.9 L908.3 1513.9 L908.6 1477.6 L908.9 1460.2 L909.1 1486.9 L909.4 1493.3 L909.6 1474.6 L909.9 1472.2 L910.1 1503.4 L910.4 1483.7 L910.7 1484.7 L910.9 1484.4 L911.2 1499.6 L911.4 1460.0 L911.7 1496.7 L911.9 1478.7 L912.2 1475.0 L912.4 1493.2 L912.7 1483.1 L913.0 1475.2 L913.2 1516.7 L913.5 1487.5 L913.7 1489.2 L914.0 1473.8 L914.2 1463.1 L914.5 1485.3 L914.7 1500.9 L915.0 1489.8 L915.2 1481.6 L915.5 1479.6 L915.7 1471.7 L916.0 1487.7 L916.2 1494.8 L916.5 1486.4 L916.7 1497.7 L917.0 1498.7 L917.2 1464.2 L917.5 1496.6 L917.7 1524.7 L918.0 1499.7 L918.2 1483.6 L918.5 1484.4 L918.7 1500.2 L919.0 1499.8 L919.2 1516.7 L919.5 1464.8 L919.7 1486.5 L920.0 1487.3 L920.2 1468.3 L920.5 1468.8 L920.7 1484.1 L921.0 1486.9 L921.2 1515.4 L921.5 1458.6 L921.7 1484.8 L921.9 1490.1 L922.2 1488.2 L922.4 1454.9 L922.7 1474.4 L922.9 1506.7 L923.2 1492.9 L923.4 1478.9 L923.7 1489.8 L923.9 1493.4 L924.1 1486.7 L924.4 1472.4 L924.6 1472.2 L924.9 1494.1 L925.1 1491.3 L925.4 1505.0 L925.6 1457.9 L925.8 1485.1 L926.1 1490.3 L926.3 1469.9 L926.6 1521.2 L926.8 1548.0 L927.0 1492.9 L927.3 1511.5 L927.5 1520.6 L927.8 1500.5 L928.0 1491.1 L928.2 1489.9 L928.5 1507.7 L928.7 1485.3 L929.0 1493.6 L929.2 1497.5 L929.4 1524.9 L929.7 1497.2 L929.9 1482.1 L930.1 1487.9 L930.4 1511.4 L930.6 1504.4 L930.8 1484.7 L931.1 1518.8 L931.3 1479.8 L931.6 1474.1 L931.8 1524.9 L932.0 1496.5 L932.3 1494.6 L932.5 1477.4 L932.7 1516.3 L933.0 1516.0 L933.2 1489.8 L933.4 1486.7 L933.7 1488.2 L933.9 1519.0 L934.1 1520.3 L934.4 1499.8 L934.6 1489.3 L934.8 1481.7 L935.1 1523.6 L935.3 1472.6 L935.5 1513.7 L935.8 1489.5 L936.0 1481.2 L936.2 1484.1 L936.5 1480.7 L936.7 1507.8 L936.9 1492.7 L937.1 1489.9 L937.4 1487.6 L937.6 1505.2 L937.8 1506.0 L938.1 1542.9 L938.3 1516.6 L938.5 1488.2 L938.7 1495.5 L939.0 1509.6 L939.2 1497.1 L939.4 1508.0 L939.7 1489.3 L939.9 1490.7 L940.1 1511.2 L940.3 1511.9 L940.6 1508.4 L940.8 1502.4 L941.0 1479.5 L941.2 1485.4 L941.5 1479.4 L941.7 1498.9 L941.9 1496.9 L942.2 1497.7 L942.4 1498.7 L942.6 1500.0 L942.8 1504.1 L943.1 1490.9 L943.3 1501.9 L943.5 1505.9 L943.7 1498.1 L943.9 1490.1 L944.2 1487.0 L944.4 1492.3 L944.6 1533.2 L944.8 1512.7 L945.1 1492.5 L945.3 1492.1 L945.5 1467.2 L945.7 1475.5 L946.0 1484.0 L946.2 1514.3 L946.4 1514.4 L946.6 1500.8 L946.8 1513.5 L947.1 1488.1 L947.3 1517.4 L947.5 1506.7 L947.7 1472.6 L947.9 1541.1 L948.2 1522.9 L948.4 1486.3 L948.6 1523.9 L948.8 1480.6 L949.0 1519.9 L949.3 1498.9 L949.5 1509.6 L949.7 1500.1 L949.9 1523.4 L950.1 1488.4 L950.3 1509.8 L950.6 1532.7 L950.8 1517.1 L951.0 1495.5 L951.2 1495.3 L951.4 1501.1 L951.7 1520.5 L951.9 1514.2 L952.1 1504.6 L952.3 1490.2 L952.5 1490.1 L952.7 1507.4 L952.9 1491.6 L953.2 1499.2 L953.4 1506.7 L953.6 1515.7 L953.8 1471.4 L954.0 1487.2 L954.2 1504.2 L954.5 1499.7 L954.7 1513.5 L954.9 1486.8 L955.1 1509.4 L955.3 1483.1 L955.5 1474.2 L955.7 1497.7 L955.9 1521.6 L956.2 1539.9 L956.4 1514.1 L956.6 1516.4 L956.8 1506.3 L957.0 1491.9 L957.2 1498.1 L957.4 1495.8 L957.6 1521.5 L957.9 1493.8 L958.1 1514.7 L958.3 1534.7 L958.5 1510.4 L958.7 1482.3 L958.9 1530.3 L959.1 1508.5 L959.3 1507.8 L959.5 1514.1 L959.7 1526.4 L960.0 1593.0 L960.2 1510.6 L960.4 1490.4 L960.6 1489.5 L960.8 1532.7 L961.0 1500.6 L961.2 1487.7 L961.4 1521.8 L961.6 1510.6 L961.8 1493.7 L962.0 1515.2 L962.2 1525.4 L962.5 1498.9 L962.7 1492.6 L962.9 1508.3 L963.1 1491.8 L963.3 1521.9 L963.5 1507.3 L963.7 1497.2 L963.9 1516.5 L964.1 1506.2 L964.3 1467.9 L964.5 1507.9 L964.7 1515.7 L964.9 1473.9 L965.1 1509.2 L965.3 1545.4 L965.5 1507.5 L965.7 1542.8 L966.0 1476.0 L966.2 1493.6 L966.4 1499.7 L966.6 1481.6 L966.8 1513.7 L967.0 1494.1 L967.2 1493.3 L967.4 1509.3 L967.6 1503.5 L967.8 1511.2 L968.0 1483.8 L968.2 1517.0 L968.4 1505.8 L968.6 1507.0 L968.8 1527.5 L969.0 1510.7 L969.2 1513.4 L969.4 1499.5 L969.6 1518.7 L969.8 1511.1 L970.0 1526.2 L970.2 1517.5 L970.4 1489.7 L970.6 1489.4 L970.8 1510.3 L971.0 1537.5 L971.2 1541.2 L971.4 1500.7 L971.6 1489.8 L971.8 1507.1 L972.0 1513.1 L972.2 1487.3 L972.4 1505.0 L972.6 1497.8 L972.8 1513.5 L973.0 1511.9 L973.2 1494.9 L973.4 1526.3 L973.6 1509.9 L973.8 1521.5 L974.0 1480.4 L974.2 1543.9 L974.4 1492.4 L974.6 1512.6 L974.8 1521.7 L975.0 1493.7 L975.2 1488.9 L975.4 1504.5 L975.6 1501.0 L975.8 1498.8 L975.9 1488.7 L976.1 1534.0 L976.3 1551.7 L976.5 1513.0 L976.7 1491.9 L976.9 1503.1 L977.1 1517.8 L977.3 1483.5 L977.5 1482.8 L977.7 1512.1 L977.9 1496.0 L978.1 1497.6 L978.3 1519.0 L978.5 1521.0 L978.7 1536.2 L978.9 1491.0 L979.1 1486.0 L979.3 1549.6 L979.4 1490.9 L979.6 1511.4 L979.8 1503.6 L980.0 1512.8 L980.2 1511.2 L980.4 1507.6 L980.6 1506.2 L980.8 1523.4 L981.0 1511.7 L981.2 1501.1 L981.4 1533.8 L981.6 1544.1 L981.8 1544.9 L981.9 1487.1 L982.1 1516.8 L982.3 1526.5 L982.5 1502.8 L982.7 1544.7 L982.9 1516.7 L983.1 1496.5 L983.3 1555.7 L983.5 1502.7 L983.7 1515.8 L983.8 1565.5 L984.0 1523.2 L984.2 1513.4 L984.4 1505.9 L984.6 1510.3 L984.8 1509.4 L985.0 1518.7 L985.2 1511.6 L985.4 1518.3 L985.5 1500.9 L985.7 1503.0 L985.9 1526.8 L986.1 1506.4 L986.3 1527.7 L986.5 1510.8 L986.7 1512.0 L986.9 1511.0 L987.0 1521.2 L987.2 1505.4 L987.4 1506.9 L987.6 1528.9 L987.8 1518.4 L988.0 1518.5 L988.2 1516.6 L988.4 1503.7 L988.5 1502.6 L988.7 1541.3 L988.9 1507.3 L989.1 1500.4 L989.3 1513.7 L989.5 1515.0 L989.6 1493.1 L989.8 1517.3 L990.0 1538.1 L990.2 1524.9 L990.4 1506.4 L990.6 1533.5 L990.8 1509.2 L990.9 1484.2 L991.1 1540.2 L991.3 1521.0 L991.5 1525.5 L991.7 1498.5 L991.9 1517.3 L992.0 1509.0 L992.2 1510.9 L992.4 1503.8 L992.6 1497.0 L992.8 1546.1 L993.0 1539.9 L993.1 1514.7 L993.3 1541.7 L993.5 1550.0 L993.7 1529.9 L993.9 1520.2 L994.0 1534.3 L994.2 1536.5 L994.4 1509.0 L994.6 1525.5 L994.8 1532.0 L995.0 1477.9 L995.1 1502.9 L995.3 1507.5 L995.5 1507.1 L995.7 1539.9 L995.9 1503.5 L996.0 1486.8 L996.2 1511.0 L996.4 1543.9 L996.6 1520.2 L996.8 1511.8 L996.9 1514.7 L997.1 1509.1 L997.3 1545.6 L997.5 1521.7 L997.7 1521.7 L997.8 1525.3 L998.0 1489.8 L998.2 1539.3 L998.4 1508.9 L998.5 1505.1 L998.7 1530.6 L998.9 1495.0 L999.1 1520.9 L999.3 1502.1 L999.4 1520.0 L999.6 1486.0 L999.8 1553.4 L1000.0 1501.5 L1000.1 1518.2 L1000.3 1512.8 L1000.5 1518.0 L1000.7 1525.6 L1000.9 1515.9 L1001.0 1544.0 L1001.2 1523.8 L1001.4 1509.8 L1001.6 1514.5 L1001.7 1514.9 L1001.9 1516.8 L1002.1 1540.2 L1002.3 1522.9 L1002.4 1535.3 L1002.6 1502.7 L1002.8 1528.0 L1003.0 1557.7 L1003.1 1496.9 L1003.3 1521.6 L1003.5 1566.8 L1003.7 1531.7 L1003.8 1499.4 L1004.0 1528.0 L1004.2 1524.5 L1004.4 1511.9 L1004.5 1533.9 L1004.7 1514.9 L1004.9 1546.4 L1005.1 1513.6 L1005.2 1513.5 L1005.4 1522.9 L1005.6 1550.3 L1005.7 1516.7 L1005.9 1521.7 L1006.1 1497.5 L1006.3 1536.5 L1006.4 1518.4 L1006.6 1536.1 L1006.8 1535.3 L1007.0 1510.7 L1007.1 1536.6 L1007.3 1527.4 L1007.5 1533.0 L1007.6 1520.8 L1007.8 1528.3 L1008.0 1514.8 L1008.2 1538.2 L1008.3 1526.8 L1008.5 1528.0 L1008.7 1543.4 L1008.8 1545.6 L1009.0 1513.6 L1009.2 1548.7 L1009.4 1546.2 L1009.5 1518.0 L1009.7 1518.0 L1009.9 1538.4 L1010.0 1500.1 L1010.2 1529.3 L1010.4 1513.0 L1010.5 1504.8 L1010.7 1518.5 L1010.9 1513.0 L1011.1 1563.6 L1011.2 1520.7 L1011.4 1585.3 L1011.6 1533.4 L1011.7 1499.5 L1011.9 1547.8 L1012.1 1501.8 L1012.2 1522.8 L1012.4 1536.4 L1012.6 1506.4 L1012.7 1502.5 L1012.9 1548.0 L1013.1 1488.9 L1013.2 1517.6 L1013.4 1504.2 L1013.6 1536.0 L1013.7 1542.0 L1013.9 1519.9 L1014.1 1550.8 L1014.2 1521.9 L1014.4 1532.0 L1014.6 1506.7 L1014.7 1504.9 L1014.9 1517.9 L1015.1 1516.1 L1015.2 1524.8 L1015.4 1490.1 L1015.6 1511.5 L1015.7 1527.2 L1015.9 1552.1 L1016.1 1511.9 L1016.2 1563.2 L1016.4 1497.4 L1016.6 1537.5 L1016.7 1506.2 L1016.9 1528.8 L1017.1 1546.4 L1017.2 1545.7 L1017.4 1504.9 L1017.6 1506.8 L1017.7 1526.1 L1017.9 1522.0 L1018.1 1542.0 L1018.2 1507.5 L1018.4 1529.2 L1018.5 1520.5 L1018.7 1516.3 L1018.9 1551.1 L1019.0 1524.3 L1019.2 1551.7 L1019.4 1528.6 L1019.5 1521.5 L1019.7 1523.6 L1019.9 1530.7 L1020.0 1524.1 L1020.2 1509.5 L1020.3 1510.0 L1020.5 1505.0 L1020.7 1550.5 L1020.8 1501.5 L1021.0 1499.5 L1021.2 1524.1 L1021.3 1566.6 L1021.5 1554.7 L1021.6 1543.1 L1021.8 1511.8 L1022.0 1547.3 L1022.1 1541.7 L1022.3 1531.8 L1022.5 1531.5 L1022.6 1541.4 L1022.8 1522.2 L1022.9 1554.9 L1023.1 1507.5 L1023.3 1554.3 L1023.4 1520.5 L1023.6 1501.1 L1023.7 1536.0 L1023.9 1527.1 L1024.1 1519.3 L1024.2 1501.8 L1024.4 1512.5 L1024.5 1567.5 L1024.7 1515.7 L1024.9 1542.0 L1025.0 1568.8 L1025.2 1548.1 L1025.3 1532.4 L1025.5 1555.0 L1025.7 1512.0 L1025.8 1543.1 L1026.0 1540.5 L1026.1 1494.1 L1026.3 1499.4 L1026.5 1515.9 L1026.6 1511.2 L1026.8 1543.3 L1026.9 1543.5 L1027.1 1543.2 L1027.2 1523.3 L1027.4 1520.2 L1027.6 1511.0 L1027.7 1527.6 L1027.9 1548.3 L1028.0 1567.3 L1028.2 1506.1 L1028.4 1535.2 L1028.5 1529.8 L1028.7 1536.1 L1028.8 1530.4 L1029.0 1534.8 L1029.1 1525.0 L1029.3 1522.7 L1029.5 1553.3 L1029.6 1536.0 L1029.8 1499.5 L1029.9 1513.5 L1030.1 1540.2 L1030.2 1528.1 L1030.4 1517.0 L1030.5 1547.8 L1030.7 1502.2 L1030.9 1548.5 L1031.0 1533.6 L1031.2 1530.3 L1031.3 1523.8 L1031.5 1561.5 L1031.6 1525.2 L1031.8 1528.3 L1031.9 1498.8 L1032.1 1516.2 L1032.3 1530.6 L1032.4 1546.5 L1032.6 1531.6 L1032.7 1551.7 L1032.9 1514.4 L1033.0 1524.9 L1033.2 1535.3 L1033.3 1513.7 L1033.5 1517.6 L1033.7 1530.2 L1033.8 1546.6 L1034.0 1504.5 L1034.1 1532.8 L1034.3 1525.5 L1034.4 1528.7 L1034.6 1532.1 L1034.7 1539.1 L1034.9 1521.1 L1035.0 1559.4 L1035.2 1526.5 L1035.3 1516.0 L1035.5 1539.6 L1035.6 1564.7 L1035.8 1516.6 L1036.0 1507.0 L1036.1 1554.0 L1036.3 1528.8 L1036.4 1532.6 L1036.6 1549.1 L1036.7 1553.7 L1036.9 1539.0 L1037.0 1513.1 L1037.2 1529.8 L1037.3 1583.3 L1037.5 1511.8 L1037.6 1550.6 L1037.8 1486.8 L1037.9 1546.2 L1038.1 1561.7 L1038.2 1554.6 L1038.4 1527.7 L1038.5 1553.3 L1038.7 1565.4 L1038.8 1577.0 L1039.0 1524.7 L1039.1 1512.2 L1039.3 1544.2 L1039.4 1537.7 L1039.6 1531.3 L1039.7 1534.1 L1039.9 1505.8 L1040.0 1537.8 L1040.2 1552.4 L1040.3 1529.7 L1040.5 1540.2 L1040.6 1544.3 L1040.8 1513.6 L1040.9 1536.8 L1041.1 1538.7 L1041.2 1516.3 L1041.4 1502.8 L1041.5 1534.7 L1041.7 1552.8 L1041.8 1516.0 L1042.0 1537.0 L1042.1 1533.5 L1042.3 1523.5 L1042.4 1533.2 L1042.6 1533.5 L1042.7 1527.1 L1042.9 1546.5 L1043.0 1546.0 L1043.2 1548.8 L1043.3 1534.0 L1043.5 1515.5 L1043.6 1515.6 L1043.8 1522.2 L1043.9 1527.4 L1044.1 1499.1 L1044.2 1526.9 L1044.3 1542.8 L1044.5 1567.7 L1044.6 1516.5 L1044.8 1516.9 L1044.9 1535.1 L1045.1 1503.6 L1045.2 1531.1 L1045.4 1547.9 L1045.5 1508.8 L1045.7 1530.2 L1045.8 1552.9 L1046.0 1512.5 L1046.1 1526.6 L1046.3 1545.5 L1046.4 1550.2 L1046.5 1498.9 L1046.7 1535.1 L1046.8 1555.0 L1047.0 1543.6 L1047.1 1531.8 L1047.3 1536.8 L1047.4 1521.9 L1047.6 1526.5 L1047.7 1546.7 L1047.9 1533.5 L1048.0 1542.3 L1048.1 1554.9 L1048.3 1527.4 L1048.4 1510.6 L1048.6 1512.9 L1048.7 1530.0 L1048.9 1584.2 L1049.0 1529.0 L1049.2 1524.9 L1049.3 1511.2 L1049.5 1529.1 L1049.6 1538.2 L1049.7 1561.4 L1049.9 1545.4 L1050.0 1544.4 L1050.2 1556.0 L1050.3 1571.1 L1050.5 1557.0 L1050.6 1523.0 L1050.7 1530.2 L1050.9 1569.7 L1051.0 1538.7 L1051.2 1531.9 L1051.3 1572.7 L1051.5 1494.4 L1051.6 1556.7 L1051.7 1499.3 L1051.9 1528.8 L1052.0 1522.9 L1052.2 1528.1 L1052.3 1628.9 L1052.5 1532.2 L1052.6 1569.4 L1052.7 1553.6 L1052.9 1539.3 L1053.0 1543.4 L1053.2 1526.0 L1053.3 1576.2 L1053.5 1546.8 L1053.6 1529.2 L1053.7 1533.5 L1053.9 1551.1 L1054.0 1583.0 L1054.2 1591.4 L1054.3 1545.5 L1054.4 1531.0 L1054.6 1546.3 L1054.7 1555.2 L1054.9 1502.5 L1055.0 1554.0 L1055.2 1544.9 L1055.3 1557.6 L1055.4 1534.0 L1055.6 1562.8 L1055.7 1543.2 L1055.9 1551.2 L1056.0 1521.8 L1056.1 1537.7 L1056.3 1526.4 L1056.4 1561.4 L1056.6 1540.0 L1056.7 1549.4 L1056.8 1523.2 L1057.0 1524.6 L1057.1 1547.4 L1057.3 1539.8 L1057.4 1533.1 L1057.5 1539.0 L1057.7 1523.5 L1057.8 1529.8 L1058.0 1523.0 L1058.1 1511.7 L1058.2 1546.8 L1058.4 1550.4 L1058.5 1556.7 L1058.7 1541.0 L1058.8 1535.6 L1058.9 1559.8 L1059.1 1517.1 L1059.2 1545.1 L1059.3 1555.8 L1059.5 1541.5 L1059.6 1547.8 L1059.8 1567.3 L1059.9 1528.7 L1060.0 1547.9 L1060.2 1528.1 L1060.3 1563.4 L1060.4 1545.6 L1060.6 1526.9 L1060.7 1516.7 L1060.9 1598.7 L1061.0 1540.2 L1061.1 1549.4 L1061.3 1529.7 L1061.4 1558.2 L1061.5 1524.1 L1061.7 1562.1 L1061.8 1547.0 L1062.0 1514.2 L1062.1 1569.1 L1062.2 1546.5 L1062.4 1531.7 L1062.5 1550.5 L1062.6 1552.5 L1062.8 1546.5 L1062.9 1538.9 L1063.1 1568.9 L1063.2 1554.5 L1063.3 1564.8 L1063.5 1532.7 L1063.6 1525.5 L1063.7 1574.7 L1063.9 1532.5 L1064.0 1526.5 L1064.1 1552.6 L1064.3 1533.1 L1064.4 1602.2 L1064.5 1520.0 L1064.7 1522.2 L1064.8 1533.1 L1065.0 1530.3 L1065.1 1539.7 L1065.2 1520.1 L1065.4 1530.3 L1065.5 1515.1 L1065.6 1529.6 L1065.8 1554.1 L1065.9 1512.3 L1066.0 1567.8 L1066.2 1539.2 L1066.3 1551.5 L1066.4 1551.7 L1066.6 1568.5 L1066.7 1526.7 L1066.8 1576.5 L1067.0 1526.2 L1067.1 1531.8 L1067.2 1523.0 L1067.4 1530.4 L1067.5 1538.7 L1067.6 1571.3 L1067.8 1542.1 L1067.9 1550.5 L1068.0 1542.7 L1068.2 1523.8 L1068.3 1556.5 L1068.4 1586.4 L1068.6 1569.3 L1068.7 1591.1 L1068.8 1534.8 L1069.0 1573.2 L1069.1 1536.4 L1069.2 1532.3 L1069.4 1557.8 L1069.5 1503.5 L1069.6 1516.8 L1069.8 1563.7 L1069.9 1529.3 L1070.0 1556.6 L1070.2 1548.3 L1070.3 1533.7 L1070.4 1549.2 L1070.6 1524.1 L1070.7 1543.0 L1070.8 1542.9 L1071.0 1516.0 L1071.1 1551.2 L1071.2 1528.6 L1071.4 1542.0 L1071.5 1564.4 L1071.6 1513.1 L1071.8 1553.0 L1071.9 1518.6 L1072.0 1543.9 L1072.2 1539.3 L1072.3 1567.2 L1072.4 1559.9 L1072.5 1556.3 L1072.7 1531.4 L1072.8 1533.8 L1072.9 1524.8 L1073.1 1537.0 L1073.2 1563.7 L1073.3 1563.8 L1073.5 1565.8 L1073.6 1568.8 L1073.7 1534.2 L1073.9 1556.5 L1074.0 1539.7 L1074.1 1516.0 L1074.2 1547.0 L1074.4 1533.6 L1074.5 1573.5 L1074.6 1544.5 L1074.8 1564.1 L1074.9 1523.5 L1075.0 1560.0 L1075.2 1531.8 L1075.3 1564.7 L1075.4 1570.6 L1075.5 1552.3 L1075.7 1572.2 L1075.8 1556.4 L1075.9 1561.4 L1076.1 1552.8 L1076.2 1521.5 L1076.3 1572.5 L1076.4 1535.4 L1076.6 1612.2 L1076.7 1565.0 L1076.8 1550.4 L1077.0 1529.9 L1077.1 1547.4 L1077.2 1554.7 L1077.3 1561.5 L1077.5 1576.3 L1077.6 1536.0 L1077.7 1577.8 L1077.9 1588.2 L1078.0 1547.3 L1078.1 1524.3 L1078.2 1569.1 L1078.4 1535.3 L1078.5 1560.8 L1078.6 1537.9 L1078.8 1525.7 L1078.9 1536.2 L1079.0 1545.2 L1079.1 1551.4 L1079.3 1544.7 L1079.4 1546.3 L1079.5 1544.9 L1079.6 1558.4 L1079.8 1561.5 L1079.9 1529.1 L1080.0 1555.9 L1080.2 1538.3 L1080.3 1542.6 L1080.4 1569.4 L1080.5 1539.8 L1080.7 1522.6 L1080.8 1519.3 L1080.9 1547.4 L1081.0 1530.7 L1081.2 1537.1 L1081.3 1552.9 L1081.4 1542.8 L1081.5 1548.7 L1081.7 1559.6 L1081.8 1542.2 L1081.9 1549.7 L1082.1 1571.8 L1082.2 1558.2 L1082.3 1523.7 L1082.4 1540.0 L1082.6 1576.9 L1082.7 1551.9 L1082.8 1568.7 L1082.9 1550.0 L1083.1 1578.3 L1083.2 1541.6 L1083.3 1558.7 L1083.4 1558.3 L1083.6 1553.4 L1083.7 1548.5 L1083.8 1531.9 L1083.9 1574.7 L1084.1 1572.1 L1084.2 1572.6 L1084.3 1561.6 L1084.4 1584.1 L1084.6 1554.8 L1084.7 1563.8 L1084.8 1578.1 L1084.9 1540.6 L1085.1 1585.9 L1085.2 1549.9 L1085.3 1532.8 L1085.4 1524.0 L1085.6 1526.8 L1085.7 1580.2 L1085.8 1558.6 L1085.9 1544.6 L1086.1 1549.0 L1086.2 1542.1 L1086.3 1525.9 L1086.4 1551.2 L1086.5 1572.0 L1086.7 1548.6 L1086.8 1545.0 L1086.9 1558.5 L1087.0 1559.8 L1087.2 1534.0 L1087.3 1551.2 L1087.4 1523.2 L1087.5 1555.9 L1087.7 1544.4 L1087.8 1567.7 L1087.9 1565.4 L1088.0 1568.4 L1088.1 1533.6 L1088.3 1573.4 L1088.4 1615.7 L1088.5 1544.2 L1088.6 1552.8 L1088.8 1549.8 L1088.9 1561.8 L1089.0 1558.7 L1089.1 1520.7 L1089.3 1561.3 L1089.4 1539.7 L1089.5 1561.2 L1089.6 1538.1 L1089.7 1592.7 L1089.9 1530.7 L1090.0 1560.2 L1090.1 1535.8 L1090.2 1524.6 L1090.4 1549.2 L1090.5 1519.0 L1090.6 1539.4 L1090.7 1551.0 L1090.8 1587.0 L1091.0 1560.2 L1091.1 1556.7 L1091.2 1543.7 L1091.3 1519.7 L1091.4 1549.7 L1091.6 1554.3 L1091.7 1580.2 L1091.8 1529.8 L1091.9 1571.4 L1092.0 1552.0 L1092.2 1550.6 L1092.3 1515.8 L1092.4 1557.0 L1092.5 1555.4 L1092.7 1592.2 L1092.8 1545.9 L1092.9 1553.7 L1093.0 1526.1 L1093.1 1567.1 L1093.3 1555.3 L1093.4 1579.6 L1093.5 1534.9 L1093.6 1585.8 L1093.7 1553.2 L1093.9 1557.8 L1094.0 1545.2 L1094.1 1547.2 L1094.2 1576.6 L1094.3 1557.1 L1094.5 1576.4 L1094.6 1571.6 L1094.7 1549.8 L1094.8 1582.8 L1094.9 1588.6 L1095.1 1572.6 L1095.2 1571.9 L1095.3 1555.7 L1095.4 1539.2 L1095.5 1554.6 L1095.6 1566.7 L1095.8 1567.8 L1095.9 1534.5 L1096.0 1552.6 L1096.1 1568.6 L1096.2 1556.0 L1096.4 1576.2 L1096.5 1540.8 L1096.6 1572.3 L1096.7 1572.0 L1096.8 1536.4 L1097.0 1559.3 L1097.1 1546.2 L1097.2 1559.6 L1097.3 1588.0 L1097.4 1559.8 L1097.5 1591.6 L1097.7 1552.3 L1097.8 1573.8 L1097.9 1568.2 L1098.0 1567.7 L1098.1 1551.2 L1098.3 1552.9 L1098.4 1565.7 L1098.5 1588.7 L1098.6 1588.8 L1098.7 1569.5 L1098.8 1554.5 L1099.0 1564.8 L1099.1 1601.1 L1099.2 1577.4 L1099.3 1555.2 L1099.4 1593.3 L1099.5 1561.4 L1099.7 1559.7 L1099.8 1592.0 L1099.9 1538.3 L1100.0 1528.5 L1100.1 1553.7 L1100.2 1552.7 L1100.4 1528.9 L1100.5 1548.3 L1100.6 1566.5 L1100.7 1521.2 L1100.8 1563.8 L1100.9 1577.9 L1101.1 1553.8 L1101.2 1558.9 L1101.3 1567.0 L1101.4 1557.8 L1101.5 1573.7 L1101.6 1549.9 L1101.8 1527.2 L1101.9 1560.7 L1102.0 1581.8 L1102.1 1543.0 L1102.2 1556.3 L1102.3 1557.5 L1102.5 1565.1 L1102.6 1570.5 L1102.7 1603.1 L1102.8 1569.9 L1102.9 1568.1 L1103.0 1583.8 L1103.2 1567.4 L1103.3 1562.2 L1103.4 1532.4 L1103.5 1574.1 L1103.6 1551.9 L1103.7 1558.0 L1103.8 1547.6 L1104.0 1562.3 L1104.1 1570.7 L1104.2 1564.4 L1104.3 1549.0 L1104.4 1572.4 L1104.5 1539.6 L1104.6 1563.2 L1104.8 1560.7 L1104.9 1544.4 L1105.0 1559.4 L1105.1 1546.9 L1105.2 1553.0 L1105.3 1605.2 L1105.4 1567.9 L1105.6 1557.7 L1105.7 1585.5 L1105.8 1550.8 L1105.9 1572.2 L1106.0 1553.6 L1106.1 1556.8 L1106.2 1579.4 L1106.4 1537.1 L1106.5 1557.8 L1106.6 1553.7 L1106.7 1576.4 L1106.8 1554.3 L1106.9 1568.3 L1107.0 1581.0 L1107.2 1578.4 L1107.3 1568.0 L1107.4 1564.7 L1107.5 1586.8 L1107.6 1566.3 L1107.7 1561.7 L1107.8 1569.7 L1107.9 1575.1 L1108.1 1517.8 L1108.2 1560.8 L1108.3 1566.7 L1108.4 1571.1 L1108.5 1557.5 L1108.6 1537.3 L1108.7 1588.9 L1108.9 1549.9 L1109.0 1552.6 L1109.1 1598.3 L1109.2 1592.8 L1109.3 1576.8 L1109.4 1551.7 L1109.5 1553.6 L1109.6 1539.9 L1109.8 1599.8 L1109.9 1532.6 L1110.0 1575.8 L1110.1 1584.3 L1110.2 1584.9 L1110.3 1558.4 L1110.4 1557.5 L1110.5 1572.6 L1110.6 1563.4 L1110.8 1552.7 L1110.9 1557.1 L1111.0 1553.7 L1111.1 1551.3 L1111.2 1552.3 L1111.3 1602.7 L1111.4 1562.5 L1111.5 1578.8 L1111.7 1521.6 L1111.8 1601.7 L1111.9 1533.3 L1112.0 1547.1 L1112.1 1548.3 L1112.2 1557.0 L1112.3 1605.3 L1112.4 1579.3 L1112.5 1548.1 L1112.7 1541.1 L1112.8 1591.8 L1112.9 1570.8 L1113.0 1551.7 L1113.1 1600.6 L1113.2 1588.0 L1113.3 1578.2 L1113.4 1547.8 L1113.5 1586.6 L1113.7 1554.9 L1113.8 1573.6 L1113.9 1561.1 L1114.0 1583.3 L1114.1 1561.8 L1114.2 1600.0 L1114.3 1574.8 L1114.4 1545.8 L1114.5 1587.0 L1114.6 1536.3 L1114.8 1585.9 L1114.9 1613.6 L1115.0 1593.9 L1115.1 1551.0 L1115.2 1555.7 L1115.3 1580.5 L1115.4 1561.4 L1115.5 1613.6 L1115.6 1569.1 L1115.7 1577.1 L1115.9 1543.2 L1116.0 1524.7 L1116.1 1572.7 L1116.2 1604.8 L1116.3 1578.1 L1116.4 1565.3 L1116.5 1608.0 L1116.6 1560.6 L1116.7 1598.0 L1116.8 1635.6 L1116.9 1565.6 L1117.1 1572.1 L1117.2 1576.1 L1117.3 1550.3 L1117.4 1550.3 L1117.5 1552.7 L1117.6 1563.9 L1117.7 1554.6 L1117.8 1554.7 L1117.9 1599.4 L1118.0 1587.9 L1118.1 1637.3 L1118.2 1568.8 L1118.4 1543.5 L1118.5 1564.6 L1118.6 1561.4 L1118.7 1563.6 L1118.8 1575.2 L1118.9 1563.6 L1119.0 1539.2 L1119.1 1595.3 L1119.2 1565.7 L1119.3 1615.8 L1119.4 1577.1 L1119.5 1556.4 L1119.7 1551.1 L1119.8 1571.3 L1119.9 1567.4 L1120.0 1591.8 L1120.1 1571.6 L1120.2 1582.9 L1120.3 1575.9 L1120.4 1582.5 L1120.5 1580.7 L1120.6 1596.1 L1120.7 1562.4 L1120.8 1589.3 L1120.9 1542.0 L1121.0 1551.0 L1121.2 1591.8 L1121.3 1580.9 L1121.4 1608.6 L1121.5 1566.8 L1121.6 1556.8 L1121.7 1556.0 L1121.8 1582.0 L1121.9 1620.8 L1122.0 1584.6 L1122.1 1573.4 L1122.2 1616.9 L1122.3 1585.0 L1122.4 1588.0 L1122.5 1568.2 L1122.7 1566.7 L1122.8 1601.3 L1122.9 1572.4 L1123.0 1552.3 L1123.1 1545.5 L1123.2 1564.8 L1123.3 1551.6 L1123.4 1569.4 L1123.5 1563.9 L1123.6 1556.3 L1123.7 1547.8 L1123.8 1557.2 L1123.9 1576.0 L1124.0 1570.5 L1124.1 1599.7 L1124.2 1564.4 L1124.3 1552.0 L1124.5 1584.0 L1124.6 1560.6 L1124.7 1596.8 L1124.8 1605.0 L1124.9 1598.7 L1125.0 1574.2 L1125.1 1601.8 L1125.2 1562.0 L1125.3 1572.2 L1125.4 1566.5 L1125.5 1568.0 L1125.6 1564.3 L1125.7 1596.0 L1125.8 1577.3 L1125.9 1594.4 L1126.0 1585.7 L1126.1 1574.3 L1126.2 1582.6 L1126.3 1557.2 L1126.5 1560.7 L1126.6 1554.4 L1126.7 1571.9 L1126.8 1586.3 L1126.9 1561.2 L1127.0 1590.3 L1127.1 1588.7 L1127.2 1569.6 L1127.3 1595.7 L1127.4 1580.1 L1127.5 1574.6 L1127.6 1647.8 L1127.7 1600.5 L1127.8 1571.4 L1127.9 1577.0 L1128.0 1571.3 L1128.1 1568.4 L1128.2 1572.1 L1128.3 1591.8 L1128.4 1549.8 L1128.5 1567.8 L1128.6 1575.2 L1128.7 1574.8 L1128.9 1627.0 L1129.0 1589.1 L1129.1 1555.4 L1129.2 1566.5 L1129.3 1560.8 L1129.4 1591.6 L1129.5 1581.2 L1129.6 1547.6 L1129.7 1561.0 L1129.8 1635.2 L1129.9 1564.7 L1130.0 1581.0 L1130.1 1557.2 L1130.2 1581.3 L1130.3 1578.4 L1130.4 1558.4 L1130.5 1572.8 L1130.6 1622.6 L1130.7 1559.3 L1130.8 1597.3 L1130.9 1555.8 L1131.0 1607.9 L1131.1 1549.5 L1131.2 1572.6 L1131.3 1543.1 L1131.4 1609.2 L1131.5 1564.1 L1131.6 1573.6 L1131.7 1595.8 L1131.8 1608.8 L1131.9 1612.3 L1132.0 1574.8 L1132.1 1598.8 L1132.2 1629.7 L1132.4 1559.2 L1132.5 1537.8 L1132.6 1596.5 L1132.7 1583.9 L1132.8 1566.0 L1132.9 1610.8 L1133.0 1581.8 L1133.1 1576.2 L1133.2 1613.5 L1133.3 1581.6 L1133.4 1556.8 L1133.5 1597.4 L1133.6 1606.7 L1133.7 1565.6 L1133.8 1599.3 L1133.9 1584.6 L1134.0 1582.9 L1134.1 1601.4 L1134.2 1585.0 L1134.3 1551.8 L1134.4 1575.3 L1134.5 1587.9 L1134.6 1599.5 L1134.7 1570.2 L1134.8 1595.3 L1134.9 1597.2 L1135.0 1556.0 L1135.1 1563.4" fill="none" stroke="#878787" stroke-width="4.4" stroke-linejoin="round" stroke-linecap="round"/>
<path d="M180.9 1018.7 L193.9 1018.7 L193.9 1638.0 L1135.1 1638.0" fill="none" stroke="#000" stroke-width="6.9" stroke-linejoin="round" stroke-linecap="round"/>
<line x1="180.9" y1="1018.7" x2="193.9" y2="1018.7" stroke="#000" stroke-width="7.1" stroke-linecap="round"/>
<text x="171.4" y="1031.9" font-size="51" text-anchor="end" >10</text>
<line x1="186.7" y1="1119.3" x2="193.9" y2="1119.3" stroke="#000" stroke-width="6.6" stroke-linecap="round"/>
<line x1="186.7" y1="1093.9" x2="193.9" y2="1093.9" stroke="#000" stroke-width="6.6" stroke-linecap="round"/>
<line x1="186.7" y1="1076.0" x2="193.9" y2="1076.0" stroke="#000" stroke-width="6.6" stroke-linecap="round"/>
<line x1="186.7" y1="1062.0" x2="193.9" y2="1062.0" stroke="#000" stroke-width="6.6" stroke-linecap="round"/>
<line x1="186.7" y1="1050.6" x2="193.9" y2="1050.6" stroke="#000" stroke-width="6.6" stroke-linecap="round"/>
<line x1="186.7" y1="1041.0" x2="193.9" y2="1041.0" stroke="#000" stroke-width="6.6" stroke-linecap="round"/>
<line x1="186.7" y1="1032.6" x2="193.9" y2="1032.6" stroke="#000" stroke-width="6.6" stroke-linecap="round"/>
<line x1="186.7" y1="1025.3" x2="193.9" y2="1025.3" stroke="#000" stroke-width="6.6" stroke-linecap="round"/>
<line x1="180.9" y1="1162.6" x2="193.9" y2="1162.6" stroke="#000" stroke-width="7.1" stroke-linecap="round"/>
<text x="171.4" y="1175.8" font-size="51" text-anchor="end" >1</text>
<line x1="186.7" y1="1263.2" x2="193.9" y2="1263.2" stroke="#000" stroke-width="6.6" stroke-linecap="round"/>
<line x1="186.7" y1="1237.8" x2="193.9" y2="1237.8" stroke="#000" stroke-width="6.6" stroke-linecap="round"/>
<line x1="186.7" y1="1219.9" x2="193.9" y2="1219.9" stroke="#000" stroke-width="6.6" stroke-linecap="round"/>
<line x1="186.7" y1="1205.9" x2="193.9" y2="1205.9" stroke="#000" stroke-width="6.6" stroke-linecap="round"/>
<line x1="186.7" y1="1194.5" x2="193.9" y2="1194.5" stroke="#000" stroke-width="6.6" stroke-linecap="round"/>
<line x1="186.7" y1="1184.9" x2="193.9" y2="1184.9" stroke="#000" stroke-width="6.6" stroke-linecap="round"/>
<line x1="186.7" y1="1176.5" x2="193.9" y2="1176.5" stroke="#000" stroke-width="6.6" stroke-linecap="round"/>
<line x1="186.7" y1="1169.2" x2="193.9" y2="1169.2" stroke="#000" stroke-width="6.6" stroke-linecap="round"/>
<line x1="180.9" y1="1306.5" x2="193.9" y2="1306.5" stroke="#000" stroke-width="7.1" stroke-linecap="round"/>
<text x="171.4" y="1319.7" font-size="51" text-anchor="end" >0.1</text>
<line x1="186.7" y1="1407.1" x2="193.9" y2="1407.1" stroke="#000" stroke-width="6.6" stroke-linecap="round"/>
<line x1="186.7" y1="1381.7" x2="193.9" y2="1381.7" stroke="#000" stroke-width="6.6" stroke-linecap="round"/>
<line x1="186.7" y1="1363.8" x2="193.9" y2="1363.8" stroke="#000" stroke-width="6.6" stroke-linecap="round"/>
<line x1="186.7" y1="1349.8" x2="193.9" y2="1349.8" stroke="#000" stroke-width="6.6" stroke-linecap="round"/>
<line x1="186.7" y1="1338.4" x2="193.9" y2="1338.4" stroke="#000" stroke-width="6.6" stroke-linecap="round"/>
<line x1="186.7" y1="1328.8" x2="193.9" y2="1328.8" stroke="#000" stroke-width="6.6" stroke-linecap="round"/>
<line x1="186.7" y1="1320.4" x2="193.9" y2="1320.4" stroke="#000" stroke-width="6.6" stroke-linecap="round"/>
<line x1="186.7" y1="1313.1" x2="193.9" y2="1313.1" stroke="#000" stroke-width="6.6" stroke-linecap="round"/>
<line x1="180.9" y1="1450.4" x2="193.9" y2="1450.4" stroke="#000" stroke-width="7.1" stroke-linecap="round"/>
<text x="171.4" y="1463.6" font-size="51" text-anchor="end" >0.01</text>
<line x1="186.7" y1="1551.0" x2="193.9" y2="1551.0" stroke="#000" stroke-width="6.6" stroke-linecap="round"/>
<line x1="186.7" y1="1525.6" x2="193.9" y2="1525.6" stroke="#000" stroke-width="6.6" stroke-linecap="round"/>
<line x1="186.7" y1="1507.7" x2="193.9" y2="1507.7" stroke="#000" stroke-width="6.6" stroke-linecap="round"/>
<line x1="186.7" y1="1493.7" x2="193.9" y2="1493.7" stroke="#000" stroke-width="6.6" stroke-linecap="round"/>
<line x1="186.7" y1="1482.3" x2="193.9" y2="1482.3" stroke="#000" stroke-width="6.6" stroke-linecap="round"/>
<line x1="186.7" y1="1472.7" x2="193.9" y2="1472.7" stroke="#000" stroke-width="6.6" stroke-linecap="round"/>
<line x1="186.7" y1="1464.3" x2="193.9" y2="1464.3" stroke="#000" stroke-width="6.6" stroke-linecap="round"/>
<line x1="186.7" y1="1457.0" x2="193.9" y2="1457.0" stroke="#000" stroke-width="6.6" stroke-linecap="round"/>
<line x1="180.9" y1="1594.3" x2="193.9" y2="1594.3" stroke="#000" stroke-width="7.1" stroke-linecap="round"/>
<text x="171.4" y="1607.5" font-size="51" text-anchor="end" >1E-3</text>
<line x1="186.7" y1="1637.6" x2="193.9" y2="1637.6" stroke="#000" stroke-width="6.6" stroke-linecap="round"/>
<line x1="186.7" y1="1626.2" x2="193.9" y2="1626.2" stroke="#000" stroke-width="6.6" stroke-linecap="round"/>
<line x1="186.7" y1="1616.6" x2="193.9" y2="1616.6" stroke="#000" stroke-width="6.6" stroke-linecap="round"/>
<line x1="186.7" y1="1608.2" x2="193.9" y2="1608.2" stroke="#000" stroke-width="6.6" stroke-linecap="round"/>
<line x1="186.7" y1="1600.9" x2="193.9" y2="1600.9" stroke="#000" stroke-width="6.6" stroke-linecap="round"/>
<line x1="186.7" y1="1638.0" x2="193.9" y2="1638.0" stroke="#000" stroke-width="6.6" stroke-linecap="round"/>
<line x1="360.7" y1="1638.0" x2="360.7" y2="1644.4" stroke="#000" stroke-width="7.2" stroke-linecap="round"/>
<line x1="458.2" y1="1638.0" x2="458.2" y2="1644.4" stroke="#000" stroke-width="7.2" stroke-linecap="round"/>
<line x1="527.4" y1="1638.0" x2="527.4" y2="1644.4" stroke="#000" stroke-width="7.2" stroke-linecap="round"/>
<line x1="581.1" y1="1638.0" x2="581.1" y2="1644.4" stroke="#000" stroke-width="7.2" stroke-linecap="round"/>
<line x1="625.0" y1="1638.0" x2="625.0" y2="1644.4" stroke="#000" stroke-width="7.2" stroke-linecap="round"/>
<line x1="662.1" y1="1638.0" x2="662.1" y2="1644.4" stroke="#000" stroke-width="7.2" stroke-linecap="round"/>
<line x1="694.2" y1="1638.0" x2="694.2" y2="1644.4" stroke="#000" stroke-width="7.2" stroke-linecap="round"/>
<line x1="722.6" y1="1638.0" x2="722.6" y2="1644.4" stroke="#000" stroke-width="7.2" stroke-linecap="round"/>
<line x1="914.7" y1="1638.0" x2="914.7" y2="1644.4" stroke="#000" stroke-width="7.2" stroke-linecap="round"/>
<line x1="1012.2" y1="1638.0" x2="1012.2" y2="1644.4" stroke="#000" stroke-width="7.2" stroke-linecap="round"/>
<line x1="1081.4" y1="1638.0" x2="1081.4" y2="1644.4" stroke="#000" stroke-width="7.2" stroke-linecap="round"/>
<line x1="1135.1" y1="1638.0" x2="1135.1" y2="1644.4" stroke="#000" stroke-width="7.2" stroke-linecap="round"/>
<line x1="193.9" y1="1638.0" x2="193.9" y2="1650.9" stroke="#000" stroke-width="7.2" stroke-linecap="round"/>
<line x1="747.9" y1="1638.0" x2="747.9" y2="1650.9" stroke="#000" stroke-width="7.2" stroke-linecap="round"/>
<text x="191.5" y="1697.0" font-size="51" text-anchor="middle" >1</text>
<text x="748.5" y="1697.0" font-size="51" text-anchor="middle" >10</text>
<text x="1140.0" y="1688.0" font-size="51" text-anchor="middle" >50</text>
<text x="685.3" y="1744.0" font-size="55" text-anchor="middle" >frquency(Hz)</text>
<text transform="translate(60.8 1302.4) rotate(-90)" font-size="51.6" text-anchor="middle">Power (mv<tspan font-size="31" dy="-27">2</tspan><tspan dy="27">)</tspan></text>
<path d="M195.8 942.2 L198.1 945.8 L199.6 967.6 L201.5 979.4 L202.6 966.6 L204.2 964.5 L206.5 953.5 L207.5 965.3 L209.2 970.4 L211.3 947.1 L212.7 935.8 L214.6 945.2 L216.5 948.1 L218.0 940.3 L219.4 961.3 L221.2 975.6 L223.2 973.1 L224.5 983.1 L226.4 983.9 L228.7 971.7 L229.8 949.6 L231.5 927.4 L233.3 923.2 L235.4 928.6 L236.8 924.6 L238.3 924.8 L240.1 920.9 L242.3 914.6 L243.3 922.5 L245.1 929.4 L247.2 923.1 L248.6 919.4 L250.4 938.0 L252.2 944.5 L253.4 923.9 L255.3 925.8 L257.2 953.3 L258.5 945.7 L260.3 930.0 L261.9 937.1 L263.8 960.0 L266.0 966.3 L267.7 974.6 L269.3 1009.2 L270.8 1015.9 L272.8 1019.1 L274.0 1027.2 L275.5 1024.2 L277.3 1012.4 L279.3 1018.6 L280.8 1023.9 L282.5 1020.8 L284.0 1010.2 L286.2 1002.0 L288.0 1005.7 L289.4 995.6 L290.9 991.9 L292.7 985.2 L294.8 982.7 L296.2 987.2 L297.9 982.1 L299.9 980.7 L301.7 976.3 L303.3 969.6 L304.7 973.9 L306.4 983.9 L308.2 985.2 L309.9 982.3 L311.9 988.7 L313.6 983.3 L314.6 980.0 L316.5 986.2 L318.3 978.1 L320.2 968.0 L321.9 965.2 L323.5 969.5 L325.1 963.5 L326.5 963.5 L328.2 965.6 L330.5 943.3 L331.7 932.7 L333.6 917.7 L335.7 909.0 L337.0 923.3 L338.8 935.9 L340.1 934.7 L342.1 930.8 L343.9 931.2 L345.4 938.4 L347.4 956.1 L348.8 975.0 L350.4 992.9 L352.3 1000.6 L354.2 1002.8 L355.7 992.3 L357.5 974.4 L359.4 979.3 L361.1 977.9 L362.9 961.5 L364.5 945.8 L365.9 950.3 L368.1 957.6 L369.7 954.4 L371.1 945.6 L372.9 957.4 L374.5 976.1 L376.1 976.6 L377.5 970.0 L379.4 977.2 L380.9 1000.5 L382.8 1012.5 L384.4 991.8 L386.7 979.1 L388.4 983.2 L390.1 976.3 L391.9 957.7 L393.2 940.3 L394.9 952.5 L397.0 989.2 L398.1 1011.2 L400.0 981.4 L401.5 946.9 L403.3 949.7 L405.2 939.3 L406.6 932.7 L408.9 945.0 L410.6 938.1 L411.6 926.9 L413.4 948.0 L415.3 954.8 L416.6 956.6 L418.4 964.1 L420.2 956.6 L422.4 950.0 L423.4 959.4 L425.7 972.0 L427.2 963.1 L428.9 951.9 L430.5 936.5 L432.6 935.1 L434.3 930.2 L435.5 928.0 L437.5 923.6 L438.9 914.3 L441.0 916.8 L442.2 921.2 L444.4 924.2 L446.3 918.4 L447.2 907.6 L449.0 906.9 L451.4 900.3 L452.5 899.8 L454.3 913.6 L456.1 909.7 L457.8 915.8 L459.1 921.7 L461.4 916.5 L462.6 929.1 L465.0 949.5 L465.9 940.4 L467.7 923.1 L470.0 910.7 L471.4 929.5 L473.5 940.8 L475.1 940.0 L476.3 955.3 L478.5 957.7 L479.8 944.6 L481.4 955.2 L483.0 970.4 L485.4 978.7 L486.3 978.7 L488.4 984.2 L489.7 977.7 L491.8 976.5 L493.3 986.2 L494.9 984.0 L496.7 987.3 L498.4 984.6 L499.9 981.4 L502.0 993.7 L503.4 1012.1 L505.8 1033.1 L507.2 1040.2 L509.1 1036.6 L510.3 1042.3 L511.9 1053.5 L514.1 1033.9 L515.4 1014.3 L517.3 1012.5 L519.0 1000.6 L520.4 983.6 L522.1 976.8 L523.7 976.9 L525.5 969.6 L527.7 973.1 L529.5 982.9 L530.9 980.3 L532.7 975.9 L534.0 964.3 L535.9 955.2 L537.6 954.4 L539.3 944.6 L541.5 936.4 L542.9 937.2 L544.4 925.0 L546.1 911.7 L547.8 932.9 L550.0 952.4 L551.5 949.9 L552.7 969.4 L554.4 980.7 L556.1 980.0 L558.1 995.5 L559.7 990.1 L561.9 965.7 L563.6 959.7 L565.0 949.5 L566.9 925.9 L568.7 926.2 L570.0 934.6 L572.0 928.4 L573.1 926.2 L574.9 931.9 L577.2 934.2 L578.4 937.3 L579.9 952.3 L582.0 955.3 L583.3 945.4 L585.4 937.3 L586.7 924.2 L589.0 912.9 L590.5 896.7 L592.1 910.7 L594.0 944.0 L595.4 949.6 L597.5 960.6 L598.6 965.1 L601.0 970.7 L602.1 971.9 L603.6 973.3 L606.0 970.4" fill="none" stroke="#000" stroke-width="3.4" stroke-linejoin="round" stroke-linecap="round"/>
<path d="M634.3 953.9 L635.6 944.7 L637.4 940.8 L639.5 948.2 L641.0 938.4 L642.8 933.3 L643.9 948.7 L646.3 944.2 L647.7 931.2 L649.4 945.6 L650.7 954.7 L652.6 954.2 L654.5 959.5 L656.1 959.1 L657.8 960.1 L659.7 957.3 L661.3 951.6 L662.5 947.2 L664.7 938.5 L666.5 942.5 L668.3 945.8 L669.4 937.8 L671.7 947.4 L673.1 951.4 L674.8 938.5 L676.9 946.0 L677.9 956.8 L680.1 963.7 L681.3 979.0 L683.6 999.8 L684.6 1000.8 L686.7 994.1 L688.1 984.6 L689.9 972.4 L691.4 981.3 L693.3 997.9 L695.3 1009.2 L697.1 1014.5 L698.8 1022.6 L700.2 1009.2 L702.0 974.9 L703.7 945.5 L705.2 955.4 L707.1 970.0 L709.2 966.7 L710.5 957.3 L712.1 954.2 L714.1 949.8 L715.9 930.7 L716.9 935.9 L718.8 956.2 L720.9 975.6 L722.4 974.9 L723.7 987.8 L725.7 1002.7 L727.4 998.8 L729.3 1002.7 L730.8 1019.7 L733.0 1030.1 L734.4 1015.9 L735.7 1016.0 L737.7 1020.5 L739.3 1029.9 L740.7 1034.7 L742.5 1022.2 L744.7 1002.9 L746.1 1002.7 L747.6 1006.3 L749.7 1004.8 L751.4 1011.8 L752.8 1018.1 L754.4 1032.0 L756.4 1023.2 L758.0 1021.7 L759.7 1021.7 L761.4 1011.6 L763.0 1001.5 L764.9 997.2 L766.5 991.9 L768.5 983.2 L770.2 984.7 L771.9 977.1 L773.2 962.1 L774.9 956.0 L776.8 954.2 L778.2 943.8 L779.9 932.7 L781.7 932.0 L783.2 934.2 L785.1 931.6 L787.1 937.3 L788.8 945.9 L790.4 939.5 L792.3 936.5 L794.1 944.0 L795.4 951.2 L797.5 944.6 L799.2 937.3 L800.7 934.6 L802.4 934.0 L803.8 939.5 L805.6 946.2 L807.1 940.0 L808.9 944.0 L811.0 957.2 L812.6 964.3 L814.3 951.8 L816.3 946.1 L817.3 954.6 L819.0 953.6 L820.9 947.6 L822.5 941.8 L824.4 950.6 L826.4 948.4 L827.9 939.5 L829.2 945.9 L831.1 953.8 L832.7 961.5 L834.8 972.3 L836.1 968.9 L838.2 964.7 L839.5 959.0 L841.0 942.4 L843.5 941.3 L844.8 947.0 L846.7 947.4 L848.3 950.0 L850.3 956.2 L851.3 966.2 L853.2 977.9 L855.0 970.0 L856.9 959.7 L858.6 965.1 L859.7 954.6 L861.9 945.6 L863.9 942.9 L865.5 947.6 L866.7 949.6 L868.7 946.8 L870.2 956.4 L872.0 972.5 L873.3 975.2 L875.0 974.7 L877.1 961.4 L878.7 959.8 L880.6 960.4 L881.9 956.9 L884.2 955.5 L885.2 945.3 L887.5 936.5 L889.2 944.9 L890.8 951.9 L892.8 950.9 L893.7 945.3 L895.5 938.3 L897.3 936.4 L899.2 946.8 L901.2 950.5 L902.7 954.4 L904.2 970.9 L905.9 974.8 L907.9 957.0 L909.5 945.4 L911.3 939.3 L912.4 958.2 L914.1 983.3 L916.1 982.5 L917.9 990.4 L919.8 986.3 L921.4 983.5 L922.8 974.9 L925.1 972.8 L926.1 979.8 L927.9 984.1 L929.5 988.5 L931.2 995.4 L933.4 1003.1 L935.0 995.0 L936.8 999.0 L938.0 1011.9 L940.0 1008.1 L942.0 1014.6 L943.4 1024.6 L945.4 1024.7 L946.4 1025.6 L948.3 1024.9 L950.0 1026.5 L952.2 1016.6 L953.8 991.7 L955.2 978.4 L956.9 968.8 L959.0 962.8 L960.1 956.6 L961.8 962.3 L963.6 963.2 L965.6 972.1 L966.9 974.9 L968.6 961.3 L971.0 957.9 L971.9 959.2 L974.0 946.1 L975.8 942.9 L977.0 943.3 L979.5 951.1 L980.5 953.3 L982.1 964.0 L984.4 959.6 L986.0 948.3 L987.9 941.4 L989.6 934.0 L991.3 932.3 L992.8 929.5 L994.1 916.8 L996.4 919.0 L997.6 929.8 L999.3 940.3 L1000.9 949.5 L1002.7 952.7 L1004.7 964.7 L1006.1 974.3 L1007.7 982.2 L1010.0 999.8 L1011.1 1008.8 L1012.9 1007.7 L1015.0 1000.0 L1016.7 1000.7 L1018.3 1006.2 L1020.3 1005.4 L1022.0 1001.3 L1023.4 993.3 L1025.0 980.0 L1026.8 972.8 L1028.4 975.4 L1030.5 974.7 L1032.1 967.4 L1033.6 971.8 L1035.5 971.4 L1037.2 960.8 L1038.4 953.2 L1040.1 945.0" fill="none" stroke="#878787" stroke-width="4.5" stroke-linejoin="round" stroke-linecap="round"/>
<line x1="1064.5" y1="894.5" x2="1155.5" y2="894.5" stroke="#000" stroke-width="4.5" stroke-linecap="round"/>
<line x1="1064.5" y1="944.5" x2="1155.5" y2="944.5" stroke="#878787" stroke-width="4.5" stroke-linecap="round"/>
<text x="1165.2" y="906.0" font-size="36.3" text-anchor="start" letter-spacing="2.2">Con</text>
<text x="1165.2" y="957.0" font-size="36.3" text-anchor="start" letter-spacing="2.2">2VO</text>
<line x1="1050.0" y1="961.5" x2="1050.0" y2="1055.0" stroke="#000" stroke-width="3.6" stroke-linecap="round"/>
<line x1="957.5" y1="1048.0" x2="1050.0" y2="1048.0" stroke="#000" stroke-width="3.6" stroke-linecap="round"/>
<text x="1069.2" y="1023.4" font-size="49" text-anchor="start" >0.2mv</text>
<text x="1008.5" y="1100.0" font-size="49" text-anchor="middle" >1s</text>
<text x="1377.0" y="61.0" font-size="47" text-anchor="start" >B</text>
<path d="M1501.9 95.5 L1509.5 95.5 L1509.5 757.5" fill="none" stroke="#000" stroke-width="6.8" stroke-linejoin="round" stroke-linecap="round"/>
<line x1="1501.9" y1="95.5" x2="1509.5" y2="95.5" stroke="#000" stroke-width="7.0" stroke-linecap="round"/>
<text x="1496.3" y="108.8" font-size="51" text-anchor="end" >20</text>
<line x1="1501.9" y1="426.5" x2="1509.5" y2="426.5" stroke="#000" stroke-width="7.0" stroke-linecap="round"/>
<text x="1496.3" y="439.8" font-size="51" text-anchor="end" >10</text>
<line x1="1501.9" y1="757.5" x2="1509.5" y2="757.5" stroke="#000" stroke-width="7.0" stroke-linecap="round"/>
<text x="1496.3" y="770.8" font-size="51" text-anchor="end" >0</text>
<line x1="1504.9" y1="261.0" x2="1509.5" y2="261.0" stroke="#000" stroke-width="6.2" stroke-linecap="round"/>
<line x1="1504.9" y1="592.0" x2="1509.5" y2="592.0" stroke="#000" stroke-width="6.2" stroke-linecap="round"/>
<rect x="1548.2" y="204.8" width="156.1" height="552.7" fill="#000" stroke="#000" stroke-width="6" stroke-linejoin="round"/>
<rect x="1704.3" y="248.2" width="155.3" height="509.3" fill="#878787" stroke="#000" stroke-width="6" stroke-linejoin="round"/>
<line x1="1626.3" y1="175.7" x2="1626.3" y2="203.0" stroke="#000" stroke-width="6" stroke-linecap="butt"/>
<line x1="1615.3" y1="175.7" x2="1637.3" y2="175.7" stroke="#000" stroke-width="6" stroke-linecap="round"/>
<line x1="1781.9" y1="187.9" x2="1781.9" y2="246.0" stroke="#000" stroke-width="6" stroke-linecap="butt"/>
<line x1="1770.9" y1="187.9" x2="1792.9" y2="187.9" stroke="#000" stroke-width="6" stroke-linecap="round"/>
<line x1="1501.0" y1="757.5" x2="1900.5" y2="757.5" stroke="#000" stroke-width="6.4" stroke-linecap="round"/>
<line x1="1704.5" y1="757.5" x2="1704.5" y2="766.5" stroke="#000" stroke-width="6" stroke-linecap="round"/>
<text x="1706.0" y="853.7" font-size="55" text-anchor="middle" >theta</text>
<path d="M2083.4 95.5 L2091.0 95.5 L2091.0 753.5" fill="none" stroke="#000" stroke-width="6.8" stroke-linejoin="round" stroke-linecap="round"/>
<line x1="2083.4" y1="95.5" x2="2091.0" y2="95.5" stroke="#000" stroke-width="7.0" stroke-linecap="round"/>
<text x="2075.8" y="107.4" font-size="51" text-anchor="end" >6</text>
<line x1="2083.4" y1="424.5" x2="2091.0" y2="424.5" stroke="#000" stroke-width="7.0" stroke-linecap="round"/>
<text x="2075.8" y="436.4" font-size="51" text-anchor="end" >3</text>
<line x1="2083.4" y1="753.5" x2="2091.0" y2="753.5" stroke="#000" stroke-width="7.0" stroke-linecap="round"/>
<text x="2075.8" y="765.4" font-size="51" text-anchor="end" >0</text>
<line x1="2086.4" y1="260.0" x2="2091.0" y2="260.0" stroke="#000" stroke-width="6.2" stroke-linecap="round"/>
<line x1="2086.4" y1="589.0" x2="2091.0" y2="589.0" stroke="#000" stroke-width="6.2" stroke-linecap="round"/>
<rect x="2131.2" y="314.0" width="153.6" height="439.5" fill="#000" stroke="#000" stroke-width="6" stroke-linejoin="round"/>
<rect x="2284.8" y="361.6" width="156.4" height="391.9" fill="#878787" stroke="#000" stroke-width="6" stroke-linejoin="round"/>
<line x1="2207.5" y1="235.3" x2="2207.5" y2="312.0" stroke="#000" stroke-width="6" stroke-linecap="butt"/>
<line x1="2196.5" y1="235.3" x2="2218.5" y2="235.3" stroke="#000" stroke-width="6" stroke-linecap="round"/>
<line x1="2364.0" y1="329.6" x2="2364.0" y2="360.0" stroke="#000" stroke-width="6" stroke-linecap="butt"/>
<line x1="2353.0" y1="329.6" x2="2375.0" y2="329.6" stroke="#000" stroke-width="6" stroke-linecap="round"/>
<line x1="2082.5" y1="753.5" x2="2482.0" y2="753.5" stroke="#000" stroke-width="6.4" stroke-linecap="round"/>
<line x1="2285.5" y1="753.5" x2="2285.5" y2="762.5" stroke="#000" stroke-width="6" stroke-linecap="round"/>
<line x1="2091.0" y1="753.5" x2="2091.0" y2="758.5" stroke="#000" stroke-width="6" stroke-linecap="round"/>
<line x1="2480.0" y1="753.5" x2="2480.0" y2="758.5" stroke="#000" stroke-width="6" stroke-linecap="round"/>
<text x="2297.0" y="853.7" font-size="55" text-anchor="middle" >gamma</text>
<rect x="2258.6" y="27.5" width="67.5" height="32.6" fill="#000"/>
<rect x="2259.3" y="69.6" width="66" height="31.5" fill="#878787" stroke="#000" stroke-width="6" stroke-linejoin="round"/>
<text x="2336.0" y="52.6" font-size="32.5" text-anchor="start" >Con (n=6)</text>
<text x="2336.0" y="94.0" font-size="32.5" text-anchor="start" >2VO (n=6)</text>
<text transform="translate(1414.2 409.3) rotate(-90)" font-size="51.6" text-anchor="middle">Power (%)</text>
<text x="1377.5" y="934.3" font-size="47" text-anchor="start" >D</text>
<path d="M1502.1 969.0 L1509.7 969.0 L1509.7 1637.0" fill="none" stroke="#000" stroke-width="6.8" stroke-linejoin="round" stroke-linecap="round"/>
<line x1="1502.1" y1="969.0" x2="1509.7" y2="969.0" stroke="#000" stroke-width="7.0" stroke-linecap="round"/>
<text x="1496.5" y="981.3" font-size="51" text-anchor="end" >16</text>
<line x1="1502.1" y1="1303.0" x2="1509.7" y2="1303.0" stroke="#000" stroke-width="7.0" stroke-linecap="round"/>
<text x="1496.5" y="1315.3" font-size="51" text-anchor="end" >8</text>
<line x1="1502.1" y1="1637.0" x2="1509.7" y2="1637.0" stroke="#000" stroke-width="7.0" stroke-linecap="round"/>
<text x="1496.5" y="1649.3" font-size="51" text-anchor="end" >0</text>
<line x1="1505.1" y1="1136.0" x2="1509.7" y2="1136.0" stroke="#000" stroke-width="6.2" stroke-linecap="round"/>
<line x1="1505.1" y1="1470.0" x2="1509.7" y2="1470.0" stroke="#000" stroke-width="6.2" stroke-linecap="round"/>
<rect x="1551.0" y="1111.0" width="150.5" height="526.0" fill="#000" stroke="#000" stroke-width="6" stroke-linejoin="round"/>
<rect x="1701.5" y="1352.8" width="156.7" height="284.2" fill="#878787" stroke="#000" stroke-width="6" stroke-linejoin="round"/>
<line x1="1626.0" y1="1070.3" x2="1626.0" y2="1109.0" stroke="#000" stroke-width="6" stroke-linecap="butt"/>
<line x1="1615.0" y1="1070.3" x2="1637.0" y2="1070.3" stroke="#000" stroke-width="6" stroke-linecap="round"/>
<line x1="1781.4" y1="1316.6" x2="1781.4" y2="1351.0" stroke="#000" stroke-width="6" stroke-linecap="butt"/>
<line x1="1770.4" y1="1316.6" x2="1792.4" y2="1316.6" stroke="#000" stroke-width="6" stroke-linecap="round"/>
<line x1="1501.0" y1="1637.0" x2="1898.5" y2="1637.0" stroke="#000" stroke-width="6.4" stroke-linecap="round"/>
<line x1="1703.6" y1="1637.0" x2="1703.6" y2="1646.0" stroke="#000" stroke-width="6" stroke-linecap="round"/>
<text x="1703.0" y="1745.0" font-size="55" text-anchor="middle" >theta</text>
<path d="M2085.4 967.2 L2093.0 967.2 L2093.0 1641.3" fill="none" stroke="#000" stroke-width="6.8" stroke-linejoin="round" stroke-linecap="round"/>
<line x1="2085.4" y1="967.2" x2="2093.0" y2="967.2" stroke="#000" stroke-width="7.0" stroke-linecap="round"/>
<text x="2079.8" y="979.5" font-size="51" text-anchor="end" >4</text>
<line x1="2085.4" y1="1304.2" x2="2093.0" y2="1304.2" stroke="#000" stroke-width="7.0" stroke-linecap="round"/>
<text x="2079.8" y="1316.5" font-size="51" text-anchor="end" >2</text>
<line x1="2085.4" y1="1641.3" x2="2093.0" y2="1641.3" stroke="#000" stroke-width="7.0" stroke-linecap="round"/>
<text x="2079.8" y="1653.6" font-size="51" text-anchor="end" >0</text>
<line x1="2088.4" y1="1135.7" x2="2093.0" y2="1135.7" stroke="#000" stroke-width="6.2" stroke-linecap="round"/>
<line x1="2088.4" y1="1472.8" x2="2093.0" y2="1472.8" stroke="#000" stroke-width="6.2" stroke-linecap="round"/>
<rect x="2134.9" y="1169.1" width="152.1" height="472.2" fill="#000" stroke="#000" stroke-width="6" stroke-linejoin="round"/>
<rect x="2287.0" y="1463.8" width="160.5" height="177.5" fill="#878787" stroke="#000" stroke-width="6" stroke-linejoin="round"/>
<line x1="2211.0" y1="1087.6" x2="2211.0" y2="1167.0" stroke="#000" stroke-width="6" stroke-linecap="butt"/>
<line x1="2200.0" y1="1087.6" x2="2222.0" y2="1087.6" stroke="#000" stroke-width="6" stroke-linecap="round"/>
<line x1="2368.6" y1="1439.0" x2="2368.6" y2="1462.0" stroke="#000" stroke-width="6" stroke-linecap="butt"/>
<line x1="2357.6" y1="1439.0" x2="2379.6" y2="1439.0" stroke="#000" stroke-width="6" stroke-linecap="round"/>
<line x1="2084.0" y1="1641.3" x2="2489.5" y2="1641.3" stroke="#000" stroke-width="6.4" stroke-linecap="round"/>
<line x1="2289.4" y1="1641.3" x2="2289.4" y2="1650.3" stroke="#000" stroke-width="6" stroke-linecap="round"/>
<line x1="2093.0" y1="1641.3" x2="2093.0" y2="1646.3" stroke="#000" stroke-width="6" stroke-linecap="round"/>
<line x1="2487.5" y1="1641.3" x2="2487.5" y2="1646.3" stroke="#000" stroke-width="6" stroke-linecap="round"/>
<text x="2293.5" y="1745.0" font-size="55" text-anchor="middle" >gamma</text>
<rect x="2258.0" y="892.6" width="67.5" height="32.6" fill="#000"/>
<rect x="2258.7" y="935.3" width="66" height="31.5" fill="#878787" stroke="#000" stroke-width="6" stroke-linejoin="round"/>
<text x="2336.0" y="918.3" font-size="32.5" text-anchor="start" >Con (n=6)</text>
<text x="2336.0" y="960.8" font-size="32.5" text-anchor="start" >2VO (n=6)</text>
<text transform="translate(1419 1315.7) rotate(-90)" font-size="51.6" text-anchor="middle">Power (%)</text>
<text x="1783.2" y="1313.8" font-size="66" text-anchor="middle" letter-spacing="2.3">***</text>
<text x="2370.2" y="1426.2" font-size="66" text-anchor="middle" letter-spacing="2.3">***</text>
</svg>
</body></html>
